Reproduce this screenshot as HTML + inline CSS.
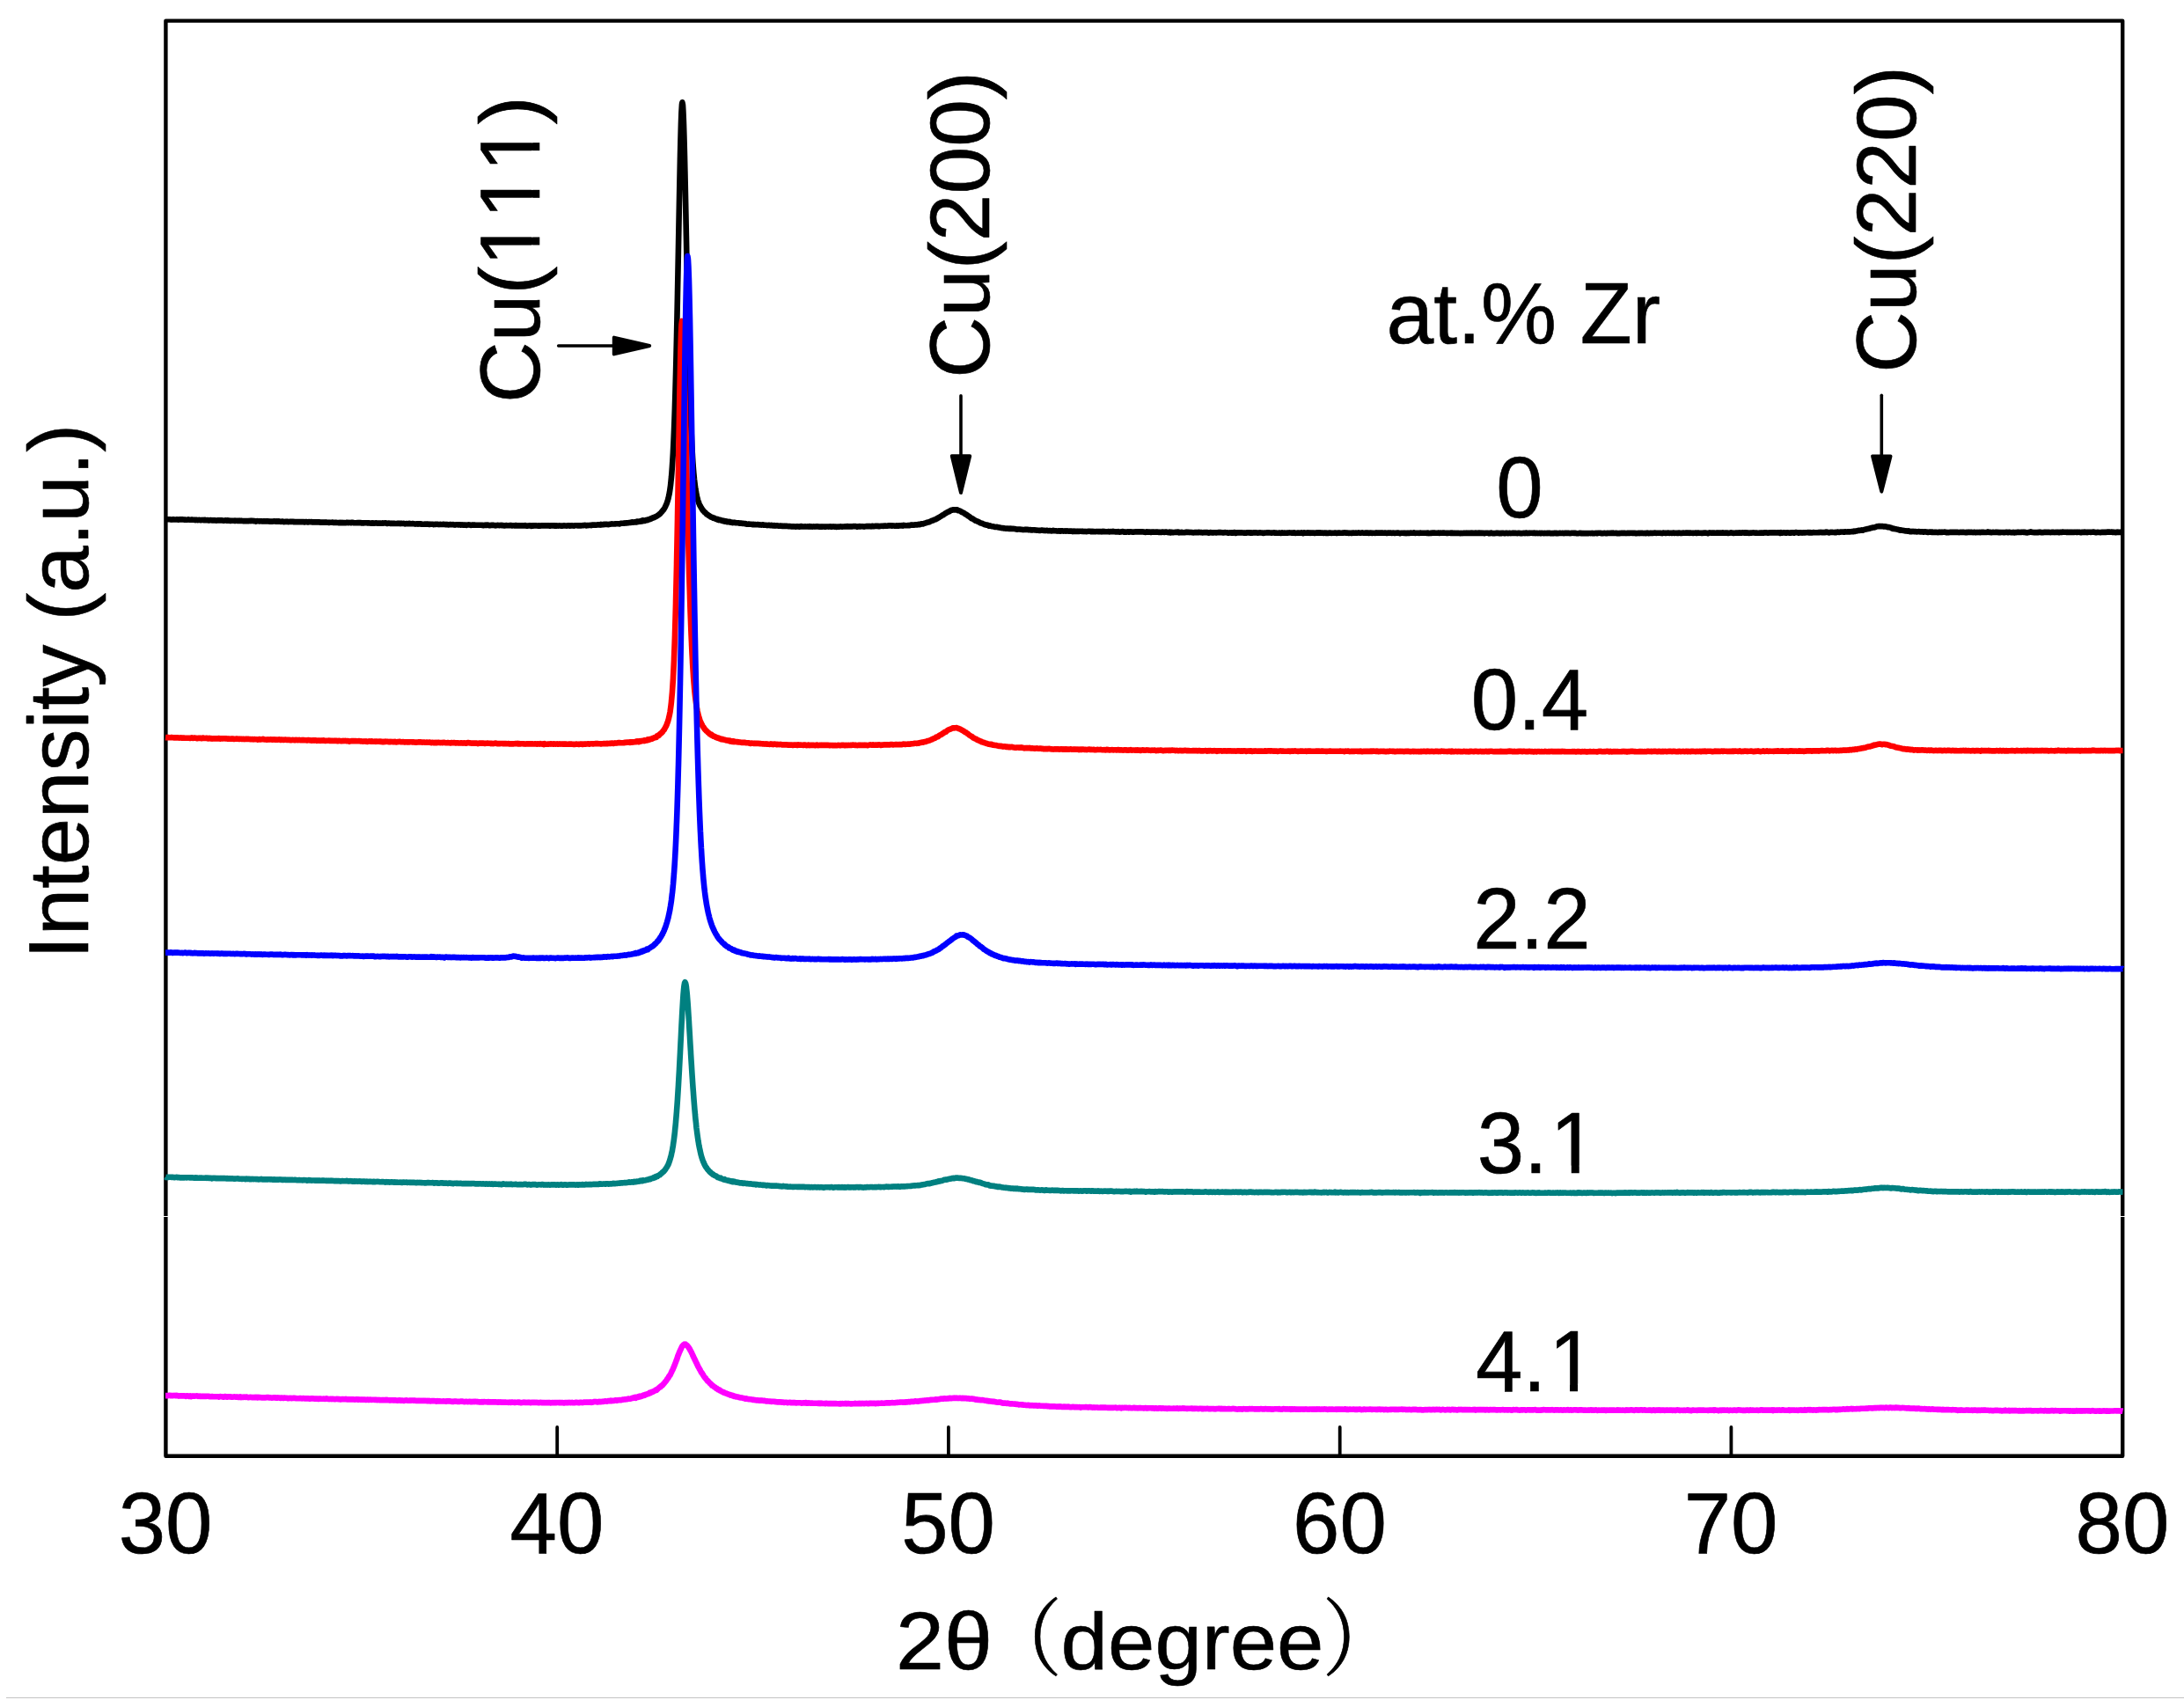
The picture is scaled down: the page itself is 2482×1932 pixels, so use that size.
<!DOCTYPE html>
<html lang="en"><head><meta charset="utf-8"><title>XRD patterns</title>
<style>
html,body{margin:0;padding:0;background:#fff;}
svg{display:block;}
text{fill:#000;font-kerning:none;stroke:#000;stroke-width:0.6px;stroke-linejoin:round;}
</style></head>
<body>
<svg width="2482" height="1932" viewBox="0 0 2482 1932">
<rect x="0" y="0" width="2482" height="1932" fill="#fff"/>
<rect x="188.4" y="23.6" width="2223.7999999999997" height="1631.1000000000001" fill="none" stroke="#000" stroke-width="4.4" stroke-linejoin="round"/>
<line x1="633.2" y1="1622" x2="633.2" y2="1654.7" stroke="#000" stroke-width="3.8" stroke-linecap="round"/>
<line x1="1077.9" y1="1622" x2="1077.9" y2="1654.7" stroke="#000" stroke-width="3.8" stroke-linecap="round"/>
<line x1="1522.7" y1="1622" x2="1522.7" y2="1654.7" stroke="#000" stroke-width="3.8" stroke-linecap="round"/>
<line x1="1967.4" y1="1622" x2="1967.4" y2="1654.7" stroke="#000" stroke-width="3.8" stroke-linecap="round"/>
<path d="M188.0,590.3 189.0,590.3 190.0,590.3 191.0,590.2 192.0,590.3 193.0,590.2 194.0,590.4 195.0,590.6 196.0,590.3 197.0,590.3 198.0,590.5 199.0,590.5 200.0,590.5 201.0,590.4 202.0,590.5 203.0,590.7 204.0,590.4 205.0,590.5 206.0,590.3 207.0,590.4 208.0,590.4 209.0,590.6 210.0,590.5 211.0,590.8 212.0,590.8 213.0,590.7 214.0,590.4 215.0,590.7 216.0,590.8 217.0,590.8 218.0,590.6 219.0,590.8 220.0,590.7 221.0,590.8 222.0,591.1 223.0,590.8 224.0,591.0 225.0,591.1 226.0,590.9 227.0,591.0 228.0,591.1 229.0,591.1 230.0,590.9 231.0,591.1 232.0,591.3 233.0,590.9 234.0,591.3 235.0,591.2 236.0,591.1 237.0,591.5 238.0,591.4 239.0,591.1 240.0,591.3 241.0,591.4 242.0,591.3 243.0,591.4 244.0,591.3 245.0,591.5 246.0,591.6 247.0,591.3 248.0,591.5 249.0,591.4 250.0,591.5 251.0,591.3 252.0,591.4 253.0,591.5 254.0,591.7 255.0,591.7 256.0,591.4 257.0,591.5 258.0,591.7 259.0,591.3 260.0,591.6 261.0,591.7 262.0,591.9 263.0,591.8 264.0,591.7 265.0,591.7 266.0,591.7 267.0,592.0 268.0,591.7 269.0,591.8 270.0,591.9 271.0,591.8 272.0,591.9 273.0,591.7 274.0,591.9 275.0,591.9 276.0,592.1 277.0,592.1 278.0,592.0 279.0,592.1 280.0,592.0 281.0,592.2 282.0,592.1 283.0,592.2 284.0,591.9 285.0,592.2 286.0,591.9 287.0,591.8 288.0,592.1 289.0,592.1 290.0,592.2 291.0,592.6 292.0,592.1 293.0,592.2 294.0,592.3 295.0,592.4 296.0,592.3 297.0,592.3 298.0,592.5 299.0,592.5 300.0,592.2 301.0,592.4 302.0,592.5 303.0,592.3 304.0,592.5 305.0,592.4 306.0,592.7 307.0,592.6 308.0,592.6 309.0,592.5 310.0,592.6 311.0,592.3 312.0,592.4 313.0,592.7 314.0,592.3 315.0,592.8 316.0,592.4 317.0,592.8 318.0,592.6 319.0,592.9 320.0,592.8 321.0,592.5 322.0,593.0 323.0,593.1 324.0,592.8 325.0,592.8 326.0,592.9 327.0,592.7 328.0,593.1 329.0,592.9 330.0,592.9 331.0,592.8 332.0,592.9 333.0,592.8 334.0,593.2 335.0,593.0 336.0,593.2 337.0,593.1 338.0,593.0 339.0,593.1 340.0,593.0 341.0,593.2 342.0,593.1 343.0,593.1 344.0,593.0 345.0,593.1 346.0,593.5 347.0,593.1 348.0,593.1 349.0,593.3 350.0,593.5 351.0,593.1 352.0,593.3 353.0,593.3 354.0,593.1 355.0,593.5 356.0,593.4 357.0,593.4 358.0,593.3 359.0,593.5 360.0,593.4 361.0,593.5 362.0,593.3 363.0,593.3 364.0,593.8 365.0,593.5 366.0,593.6 367.0,593.6 368.0,593.6 369.0,593.6 370.0,593.8 371.0,593.6 372.0,593.7 373.0,593.7 374.0,593.9 375.0,593.8 376.0,593.8 377.0,593.7 378.0,593.6 379.0,594.0 380.0,594.0 381.0,593.8 382.0,593.9 383.0,594.0 384.0,594.0 385.0,594.1 386.0,593.8 387.0,594.2 388.0,593.8 389.0,594.1 390.0,594.1 391.0,594.1 392.0,594.3 393.0,594.3 394.0,593.9 395.0,593.8 396.0,594.2 397.0,593.9 398.0,594.1 399.0,594.3 400.0,593.9 401.0,593.8 402.0,594.2 403.0,594.2 404.0,594.2 405.0,594.2 406.0,594.1 407.0,594.0 408.0,594.3 409.0,594.1 410.0,594.0 411.0,594.4 412.0,594.3 413.0,594.4 414.0,594.2 415.0,594.3 416.0,594.2 417.0,594.3 418.0,594.5 419.0,594.3 420.0,594.5 421.0,594.5 422.0,594.8 423.0,594.3 424.0,594.7 425.0,594.5 426.0,594.6 427.0,594.3 428.0,594.5 429.0,594.7 430.0,594.6 431.0,594.6 432.0,594.6 433.0,594.8 434.0,594.7 435.0,594.3 436.0,594.6 437.0,594.4 438.0,594.2 439.0,594.7 440.0,595.0 441.0,594.8 442.0,594.6 443.0,594.7 444.0,595.0 445.0,594.9 446.0,594.9 447.0,594.9 448.0,594.9 449.0,595.0 450.0,595.0 451.0,595.0 452.0,594.8 453.0,595.0 454.0,594.8 455.0,595.1 456.0,594.8 457.0,595.0 458.0,595.0 459.0,594.9 460.0,595.4 461.0,595.3 462.0,595.1 463.0,595.3 464.0,595.2 465.0,594.8 466.0,595.3 467.0,595.2 468.0,595.3 469.0,595.1 470.0,595.3 471.0,595.3 472.0,595.6 473.0,595.4 474.0,595.4 475.0,595.7 476.0,595.4 477.0,595.4 478.0,595.2 479.0,595.8 480.0,595.7 481.0,595.7 482.0,595.7 483.0,595.6 484.0,595.7 485.0,595.6 486.0,595.6 487.0,595.7 488.0,596.0 489.0,595.8 490.0,595.8 491.0,595.7 492.0,595.7 493.0,596.1 494.0,595.9 495.0,595.9 496.0,595.8 497.0,595.7 498.0,595.9 499.0,596.1 500.0,595.9 501.0,596.0 502.0,596.0 503.0,596.0 504.0,595.8 505.0,596.0 506.0,596.0 507.0,596.3 508.0,596.0 509.0,596.2 510.0,596.4 511.0,596.1 512.0,596.1 513.0,596.3 514.0,596.2 515.0,596.1 516.0,596.4 517.0,596.6 518.0,596.3 519.0,596.3 520.0,596.2 521.0,596.4 522.0,596.2 523.0,596.2 524.0,596.6 525.0,596.3 526.0,596.6 527.0,596.7 528.0,596.5 529.0,596.6 530.0,596.9 531.0,596.5 532.0,596.5 533.0,596.4 534.0,596.6 535.0,596.9 536.0,596.8 537.0,596.5 538.0,596.5 539.0,596.6 540.0,596.8 541.0,596.7 542.0,596.8 543.0,596.8 544.0,596.7 545.0,596.8 546.0,596.8 547.0,596.8 548.0,596.9 549.0,597.2 550.0,597.0 551.0,596.9 552.0,596.6 553.0,597.0 554.0,596.6 555.0,596.7 556.0,597.1 557.0,597.1 558.0,597.0 559.0,596.7 560.0,597.0 561.0,596.9 562.0,597.1 563.0,597.4 564.0,597.1 565.0,597.0 566.0,596.9 567.0,597.1 568.0,597.1 569.0,596.9 570.0,597.2 571.0,597.0 572.0,597.3 573.0,597.4 574.0,597.4 575.0,597.1 576.0,597.3 577.0,597.2 578.0,597.2 579.0,597.2 580.0,597.0 581.0,597.0 582.0,597.4 583.0,597.3 584.0,597.3 585.0,597.5 586.0,597.0 587.0,597.2 588.0,597.4 589.0,597.4 590.0,597.3 591.0,597.5 592.0,597.4 593.0,597.2 594.0,597.2 595.0,597.5 596.0,597.5 597.0,597.1 598.0,597.6 599.0,597.5 600.0,597.6 601.0,597.4 602.0,597.4 603.0,597.3 604.0,597.9 605.0,597.4 606.0,597.7 607.0,597.4 608.0,597.5 609.0,597.2 610.0,597.4 611.0,597.6 612.0,597.3 613.0,597.7 614.0,597.6 615.0,597.3 616.0,597.4 617.0,597.4 618.0,597.5 619.0,597.4 620.0,597.4 621.0,597.5 622.0,597.4 623.0,597.3 624.0,597.5 625.0,597.7 626.0,597.3 627.0,597.5 628.0,597.4 629.0,597.4 630.0,597.7 631.0,597.4 632.0,597.8 633.0,597.4 634.0,597.6 635.0,597.5 636.0,597.4 637.0,597.6 638.0,597.5 639.0,597.6 640.0,597.5 641.0,597.3 642.0,597.5 643.0,597.5 644.0,597.6 645.0,597.3 646.0,597.5 647.0,597.2 648.0,597.6 649.0,597.3 650.0,597.2 651.0,597.4 652.0,597.6 653.0,597.2 654.0,597.2 655.0,597.3 656.0,597.2 657.0,597.4 658.0,597.2 659.0,597.2 660.0,597.4 661.0,597.2 662.0,597.3 663.0,597.1 664.0,597.0 665.0,596.9 666.0,597.4 667.0,597.0 668.0,597.1 669.0,597.0 670.0,597.0 671.0,596.9 672.0,597.2 673.0,596.6 674.0,596.5 675.0,596.6 676.0,596.5 677.0,596.7 678.0,596.7 679.0,596.4 680.0,596.3 681.0,596.4 682.0,596.6 683.0,595.9 684.0,596.4 685.0,596.1 686.0,596.3 687.0,595.9 688.0,596.0 689.0,595.8 690.0,595.8 691.0,596.1 692.0,596.0 693.0,595.7 694.0,595.6 695.0,595.4 696.0,595.5 697.0,595.5 698.0,595.5 699.0,595.4 700.0,595.2 701.0,595.3 702.0,595.2 703.0,595.3 704.0,595.4 705.0,595.0 706.0,594.8 707.0,594.8 708.0,594.7 709.0,594.6 710.0,594.6 711.0,594.3 712.0,594.5 713.0,594.3 714.0,594.3 715.0,594.1 715.4,594.0 715.9,593.9 716.0,594.0 716.4,593.9 716.9,594.0 717.0,593.9 717.4,593.7 717.9,593.8 718.0,593.6 718.4,593.7 718.9,593.7 719.0,593.4 719.4,593.7 719.9,593.6 720.0,593.6 720.4,593.5 720.9,593.4 721.0,593.3 721.4,593.4 721.9,593.3 722.0,593.4 722.4,593.1 722.9,593.3 723.0,593.2 723.4,593.1 723.9,593.0 724.0,593.2 724.4,592.7 724.9,593.0 725.0,593.0 725.4,592.9 725.9,592.9 726.0,592.7 726.4,592.7 726.9,592.7 727.0,592.7 727.4,592.6 727.9,592.2 728.0,592.5 728.4,592.6 728.9,592.5 729.0,592.3 729.4,592.0 729.9,592.3 730.0,592.1 730.4,591.6 730.9,592.0 731.0,591.7 731.4,591.6 731.9,591.6 732.0,591.9 732.4,591.6 732.9,591.5 733.0,591.8 733.4,591.6 733.9,591.3 734.0,591.2 734.4,591.0 734.9,590.9 735.0,591.1 735.4,591.0 735.9,590.8 736.0,590.9 736.4,590.5 736.9,590.5 737.0,590.6 737.4,590.4 737.9,590.4 738.0,590.2 738.4,590.0 738.9,589.9 739.0,589.7 739.4,589.4 739.9,589.6 740.0,589.5 740.4,589.4 740.9,588.9 741.0,589.1 741.4,588.9 741.9,588.6 742.0,588.4 742.4,588.5 742.9,588.5 743.0,588.3 743.4,588.0 743.9,587.9 744.0,587.9 744.4,587.2 744.9,587.3 745.0,587.4 745.4,587.2 745.9,587.0 746.0,586.9 746.4,586.5 746.9,586.2 747.0,586.2 747.4,585.7 747.9,585.5 748.0,585.6 748.4,585.4 748.9,584.7 749.0,584.6 749.4,584.3 749.9,584.1 750.0,583.8 750.4,583.7 750.9,582.8 751.0,582.8 751.4,582.4 751.9,582.0 752.0,582.0 752.4,581.1 752.9,580.6 753.0,580.7 753.4,580.0 753.9,579.2 754.0,579.4 754.4,578.8 754.9,578.0 755.0,577.7 755.4,577.2 755.9,576.1 756.0,576.1 756.4,575.0 756.9,573.9 757.0,573.9 757.4,572.8 757.9,571.7 758.0,571.3 758.4,570.0 758.9,568.5 759.0,568.1 759.4,566.8 759.9,564.4 760.0,564.0 760.4,562.3 760.9,559.7 761.0,559.1 761.4,556.2 761.9,552.6 762.0,552.0 762.4,548.2 762.9,543.1 763.0,542.2 763.4,537.5 763.9,530.6 764.0,529.0 764.4,522.7 764.9,514.1 765.0,511.9 765.4,503.6 765.9,492.0 766.0,489.5 766.4,478.6 766.9,463.8 767.0,460.4 767.4,447.0 767.9,428.5 768.0,425.0 768.4,408.5 768.9,386.6 769.0,382.1 769.4,363.3 769.9,338.6 770.0,333.1 770.4,312.4 770.9,285.7 771.0,280.8 771.4,258.9 771.9,231.8 772.0,226.6 772.4,206.2 772.9,181.5 773.0,176.9 773.4,160.0 773.9,141.6 774.0,138.5 774.4,127.7 774.9,119.4 775.0,118.4 775.4,116.3 775.9,118.8 776.0,119.5 776.4,126.3 776.9,138.1 777.0,141.1 777.4,154.1 777.9,173.1 778.0,177.1 778.4,194.9 778.9,218.2 779.0,223.1 779.4,242.8 779.9,267.9 780.0,272.6 780.4,293.2 780.9,317.7 781.0,322.6 781.4,341.8 781.9,364.4 782.0,368.5 782.4,385.9 782.9,406.2 783.0,410.2 783.4,425.3 783.9,442.4 784.0,446.0 784.4,458.3 784.9,473.0 785.0,475.7 785.4,485.9 785.9,497.5 786.0,499.6 786.4,507.7 786.9,516.7 787.0,518.6 787.4,525.2 787.9,532.3 788.0,533.5 788.4,538.2 788.9,543.3 789.0,544.6 789.4,548.0 789.9,552.1 790.0,552.8 790.4,555.6 790.9,558.6 791.0,559.2 791.4,561.1 791.9,563.6 792.0,564.4 792.4,565.7 792.9,567.5 793.0,568.0 793.4,569.3 793.9,570.5 794.0,570.9 794.4,572.1 794.9,573.2 795.0,573.4 795.4,574.5 795.9,575.1 796.0,575.5 796.4,576.1 796.9,577.3 797.0,576.9 797.4,577.7 797.9,578.5 798.0,578.8 798.4,579.4 798.9,580.2 799.0,579.8 799.4,580.7 799.9,581.1 800.0,581.1 800.4,581.8 800.9,582.1 801.0,582.0 801.4,582.7 801.9,582.9 802.0,583.2 802.4,583.7 802.9,584.1 803.0,584.4 803.4,584.4 803.9,584.6 804.0,584.8 804.4,585.1 804.9,585.4 805.0,585.7 805.4,585.8 805.9,585.9 806.0,586.4 806.4,586.5 806.9,586.9 807.0,586.9 807.4,587.2 807.9,587.3 808.0,587.6 808.4,587.7 808.9,587.9 809.0,588.0 809.4,587.9 809.9,588.3 810.0,588.3 810.4,588.6 810.9,588.5 811.0,589.0 811.4,589.0 811.9,588.9 812.0,588.9 812.4,589.3 812.9,589.5 813.0,589.4 813.4,589.7 813.9,589.8 814.0,590.0 814.4,589.9 814.9,590.2 815.0,590.4 815.4,590.7 815.9,590.3 816.0,590.4 816.4,590.5 816.9,590.9 817.0,590.6 817.4,590.8 817.9,591.0 818.0,590.9 818.4,591.0 818.9,591.2 819.0,591.0 819.4,591.2 819.9,591.5 820.0,591.6 820.4,591.6 820.9,591.5 821.0,591.7 821.4,592.0 821.9,592.0 822.0,592.0 822.4,591.9 822.9,592.3 823.0,592.1 823.4,592.1 823.9,592.2 824.0,592.6 824.4,592.5 824.9,592.7 825.0,592.5 825.4,592.8 825.9,592.6 826.0,592.7 826.4,593.2 826.9,593.0 827.0,592.8 827.4,592.9 827.9,593.1 828.0,593.2 828.4,593.0 828.9,592.9 829.0,593.2 829.4,593.3 829.9,593.4 830.0,593.6 830.4,593.5 830.9,593.6 831.0,593.3 831.4,593.7 831.9,593.9 832.0,593.7 832.4,593.7 832.9,593.8 833.0,594.0 833.4,593.7 833.9,593.8 834.0,594.0 834.4,594.0 834.9,593.9 835.0,594.0 836.0,594.1 837.0,594.2 838.0,594.3 839.0,594.3 840.0,594.5 841.0,594.8 842.0,594.6 843.0,594.8 844.0,595.0 845.0,594.9 846.0,595.1 847.0,595.0 848.0,595.5 849.0,595.7 850.0,595.8 851.0,595.5 852.0,595.7 853.0,595.7 854.0,595.8 855.0,596.1 856.0,595.7 857.0,596.1 858.0,596.0 859.0,596.3 860.0,596.2 861.0,596.1 862.0,596.3 863.0,596.5 864.0,596.4 865.0,596.6 866.0,596.5 867.0,596.3 868.0,596.8 869.0,596.8 870.0,596.8 871.0,596.8 872.0,597.1 873.0,596.9 874.0,596.9 875.0,597.0 876.0,597.3 877.0,596.9 878.0,597.4 879.0,597.2 880.0,597.1 881.0,597.6 882.0,597.4 883.0,597.3 884.0,597.5 885.0,597.7 886.0,597.8 887.0,597.6 888.0,597.8 889.0,597.9 890.0,597.7 891.0,597.9 892.0,597.9 893.0,597.8 894.0,597.9 895.0,598.0 896.0,598.1 897.0,598.0 898.0,598.1 899.0,598.4 900.0,598.3 901.0,598.4 902.0,598.4 903.0,598.4 904.0,598.6 905.0,598.2 906.0,598.4 907.0,598.3 908.0,598.6 909.0,598.6 910.0,598.0 911.0,598.2 912.0,598.5 913.0,598.5 914.0,598.5 915.0,598.4 916.0,598.5 917.0,598.5 918.0,598.4 919.0,598.6 920.0,598.1 921.0,598.6 922.0,598.3 923.0,598.6 924.0,598.5 925.0,598.4 926.0,598.6 927.0,598.4 928.0,598.4 929.0,598.3 930.0,598.5 931.0,598.6 932.0,598.7 933.0,598.5 934.0,598.7 935.0,598.5 936.0,598.5 937.0,598.6 938.0,598.7 939.0,598.5 940.0,598.5 941.0,598.5 942.0,598.6 943.0,598.4 944.0,598.7 945.0,598.5 946.0,598.6 947.0,598.4 948.0,598.6 949.0,598.6 950.0,598.5 951.0,598.9 952.0,598.6 953.0,598.8 954.0,598.7 955.0,598.4 956.0,598.5 957.0,598.6 958.0,598.5 959.0,598.5 960.0,598.5 961.0,598.2 962.0,598.5 963.0,598.1 964.0,598.5 965.0,598.4 966.0,598.3 967.0,598.4 968.0,598.5 969.0,598.2 970.0,598.1 971.0,598.2 972.0,598.1 973.0,598.2 974.0,598.6 975.0,598.2 976.0,598.5 977.0,598.1 978.0,598.4 979.0,598.3 980.0,598.3 981.0,598.4 982.0,598.6 983.0,598.3 984.0,598.3 985.0,598.1 986.0,598.3 987.0,598.1 988.0,598.3 989.0,598.1 990.0,598.4 991.0,597.8 992.0,598.0 993.0,598.2 994.0,598.0 995.0,597.9 996.0,597.9 997.0,597.7 998.0,598.0 999.0,598.3 1000.0,598.1 1001.0,597.7 1002.0,597.7 1003.0,597.7 1004.0,597.9 1005.0,597.6 1006.0,597.6 1007.0,597.8 1008.0,597.8 1009.0,597.5 1010.0,597.4 1011.0,597.3 1012.0,597.4 1013.0,597.2 1014.0,597.7 1015.0,597.4 1016.0,597.6 1017.0,597.8 1018.0,597.7 1019.0,597.3 1020.0,597.6 1021.0,597.7 1022.0,597.3 1023.0,597.3 1024.0,597.4 1025.0,597.1 1026.0,597.6 1027.0,596.9 1028.0,597.1 1029.0,597.2 1030.0,597.2 1031.0,597.2 1032.0,597.1 1033.0,597.0 1034.0,597.2 1035.0,596.6 1036.0,596.8 1037.0,596.6 1038.0,596.7 1039.0,596.6 1040.0,596.3 1041.0,596.2 1042.0,596.4 1043.0,596.2 1044.0,595.8 1045.0,596.1 1046.0,596.0 1047.0,595.2 1048.0,595.3 1049.0,595.4 1050.0,595.0 1051.0,594.6 1052.0,594.3 1053.0,594.0 1054.0,593.7 1055.0,593.4 1056.0,593.2 1057.0,592.7 1058.0,592.3 1059.0,591.8 1060.0,591.6 1061.0,591.0 1062.0,590.7 1063.0,590.4 1064.0,589.8 1065.0,589.3 1066.0,588.7 1067.0,588.1 1068.0,587.5 1069.0,586.9 1070.0,586.4 1071.0,585.5 1072.0,585.3 1073.0,584.4 1074.0,583.7 1075.0,583.1 1076.0,582.5 1077.0,582.0 1078.0,581.4 1079.0,581.2 1080.0,580.4 1081.0,579.8 1082.0,579.7 1083.0,579.3 1084.0,579.4 1085.0,579.5 1086.0,579.4 1087.0,579.2 1088.0,579.5 1089.0,580.2 1090.0,580.3 1091.0,580.6 1092.0,581.3 1093.0,582.0 1094.0,582.4 1095.0,582.8 1096.0,583.5 1097.0,584.2 1098.0,584.7 1099.0,585.3 1100.0,586.2 1101.0,586.7 1102.0,587.5 1103.0,588.2 1104.0,589.2 1105.0,589.3 1106.0,590.0 1107.0,590.6 1108.0,591.3 1109.0,591.9 1110.0,592.2 1111.0,592.6 1112.0,593.0 1113.0,593.6 1114.0,594.2 1115.0,594.6 1116.0,594.8 1117.0,595.3 1118.0,595.7 1119.0,596.1 1120.0,596.2 1121.0,596.6 1122.0,596.6 1123.0,597.0 1124.0,597.7 1125.0,597.3 1126.0,597.9 1127.0,598.2 1128.0,598.3 1129.0,598.4 1130.0,598.7 1131.0,598.9 1132.0,599.0 1133.0,598.9 1134.0,599.3 1135.0,599.4 1136.0,599.5 1137.0,599.8 1138.0,600.0 1139.0,600.1 1140.0,600.0 1141.0,600.4 1142.0,600.5 1143.0,600.6 1144.0,600.7 1145.0,600.6 1146.0,600.7 1147.0,600.9 1148.0,600.6 1149.0,601.0 1150.0,600.9 1151.0,601.0 1152.0,600.9 1153.0,601.1 1154.0,601.3 1155.0,601.5 1156.0,601.6 1157.0,601.5 1158.0,601.5 1159.0,601.5 1160.0,601.7 1161.0,601.7 1162.0,601.9 1163.0,602.1 1164.0,601.9 1165.0,601.7 1166.0,601.9 1167.0,601.8 1168.0,601.9 1169.0,602.3 1170.0,602.2 1171.0,602.0 1172.0,602.4 1173.0,602.5 1174.0,602.3 1175.0,602.3 1176.0,602.4 1177.0,602.5 1178.0,602.6 1179.0,602.8 1180.0,602.8 1181.0,602.9 1182.0,602.9 1183.0,602.8 1184.0,602.5 1185.0,602.8 1186.0,602.9 1187.0,602.8 1188.0,603.1 1189.0,602.9 1190.0,602.9 1191.0,603.3 1192.0,603.2 1193.0,603.1 1194.0,603.3 1195.0,603.4 1196.0,603.3 1197.0,602.9 1198.0,603.2 1199.0,603.2 1200.0,603.2 1201.0,603.4 1202.0,603.6 1203.0,603.3 1204.0,603.2 1205.0,603.8 1206.0,603.4 1207.0,603.3 1208.0,603.5 1209.0,603.6 1210.0,603.4 1211.0,603.7 1212.0,603.5 1213.0,603.4 1214.0,603.6 1215.0,603.7 1216.0,603.5 1217.0,603.7 1218.0,603.6 1219.0,604.1 1220.0,603.6 1221.0,603.9 1222.0,603.7 1223.0,603.7 1224.0,603.9 1225.0,603.9 1226.0,604.0 1227.0,603.8 1228.0,603.7 1229.0,603.7 1230.0,603.9 1231.0,603.9 1232.0,604.1 1233.0,603.9 1234.0,604.1 1235.0,604.1 1236.0,603.9 1237.0,603.7 1238.0,603.8 1239.0,603.7 1240.0,604.2 1241.0,603.8 1242.0,604.2 1243.0,604.1 1244.0,604.3 1245.0,604.2 1246.0,604.0 1247.0,604.0 1248.0,604.1 1249.0,604.1 1250.0,604.0 1251.0,604.1 1252.0,604.4 1253.0,603.9 1254.0,604.2 1255.0,604.0 1256.0,604.2 1257.0,604.3 1258.0,604.2 1259.0,604.3 1260.0,604.0 1261.0,604.4 1262.0,604.1 1263.0,604.3 1264.0,604.3 1265.0,603.9 1266.0,604.2 1267.0,604.3 1268.0,604.5 1269.0,604.4 1270.0,604.4 1271.0,604.1 1272.0,604.6 1273.0,604.6 1274.0,604.4 1275.0,604.3 1276.0,604.1 1277.0,604.5 1278.0,604.8 1279.0,604.5 1280.0,604.6 1281.0,604.5 1282.0,604.3 1283.0,604.7 1284.0,604.3 1285.0,604.4 1286.0,604.5 1287.0,604.6 1288.0,604.6 1289.0,604.6 1290.0,604.4 1291.0,604.3 1292.0,604.5 1293.0,604.4 1294.0,604.3 1295.0,604.4 1296.0,604.5 1297.0,604.3 1298.0,604.4 1299.0,604.3 1300.0,604.6 1301.0,604.7 1302.0,605.0 1303.0,604.4 1304.0,604.5 1305.0,604.8 1306.0,604.6 1307.0,604.6 1308.0,605.0 1309.0,604.6 1310.0,604.5 1311.0,604.5 1312.0,604.8 1313.0,604.8 1314.0,604.5 1315.0,604.6 1316.0,604.8 1317.0,604.9 1318.0,604.7 1319.0,604.9 1320.0,604.9 1321.0,604.5 1322.0,604.8 1323.0,604.9 1324.0,604.7 1325.0,604.5 1326.0,604.8 1327.0,605.0 1328.0,605.1 1329.0,604.5 1330.0,605.3 1331.0,604.7 1332.0,605.0 1333.0,605.1 1334.0,605.1 1335.0,604.9 1336.0,604.7 1337.0,605.0 1338.0,604.8 1339.0,604.6 1340.0,605.4 1341.0,605.1 1342.0,605.3 1343.0,604.8 1344.0,605.2 1345.0,605.3 1346.0,605.3 1347.0,605.0 1348.0,604.8 1349.0,605.0 1350.0,604.7 1351.0,604.8 1352.0,605.1 1353.0,604.9 1354.0,605.1 1355.0,605.1 1356.0,605.4 1357.0,605.3 1358.0,605.1 1359.0,605.3 1360.0,605.0 1361.0,605.1 1362.0,605.3 1363.0,604.9 1364.0,605.1 1365.0,605.0 1366.0,605.2 1367.0,605.4 1368.0,605.1 1369.0,605.2 1370.0,605.1 1371.0,605.0 1372.0,605.0 1373.0,605.5 1374.0,605.6 1375.0,605.3 1376.0,605.1 1377.0,605.4 1378.0,605.2 1379.0,605.4 1380.0,605.3 1381.0,605.3 1382.0,605.4 1383.0,605.2 1384.0,605.2 1385.0,605.0 1386.0,605.3 1387.0,605.1 1388.0,605.3 1389.0,605.2 1390.0,605.4 1391.0,605.4 1392.0,605.1 1393.0,605.2 1394.0,605.2 1395.0,605.5 1396.0,605.7 1397.0,605.5 1398.0,605.4 1399.0,605.7 1400.0,605.2 1401.0,605.7 1402.0,605.3 1403.0,605.0 1404.0,605.9 1405.0,605.7 1406.0,605.3 1407.0,605.5 1408.0,605.4 1409.0,605.5 1410.0,605.2 1411.0,605.3 1412.0,605.5 1413.0,605.5 1414.0,605.7 1415.0,605.5 1416.0,605.8 1417.0,605.4 1418.0,605.5 1419.0,605.2 1420.0,605.3 1421.0,605.7 1422.0,605.3 1423.0,605.6 1424.0,605.5 1425.0,605.3 1426.0,605.4 1427.0,605.4 1428.0,605.4 1429.0,605.6 1430.0,605.6 1431.0,605.4 1432.0,605.4 1433.0,605.5 1434.0,605.5 1435.0,605.7 1436.0,605.9 1437.0,605.6 1438.0,605.5 1439.0,605.5 1440.0,605.4 1441.0,605.4 1442.0,605.4 1443.0,605.5 1444.0,605.5 1445.0,605.6 1446.0,605.5 1447.0,605.5 1448.0,605.3 1449.0,605.8 1450.0,605.6 1451.0,605.8 1452.0,605.7 1453.0,605.8 1454.0,605.5 1455.0,605.7 1456.0,606.0 1457.0,605.4 1458.0,605.7 1459.0,605.8 1460.0,605.6 1461.0,605.7 1462.0,605.8 1463.0,605.5 1464.0,605.6 1465.0,605.4 1466.0,605.5 1467.0,605.5 1468.0,605.6 1469.0,605.6 1470.0,605.7 1471.0,605.3 1472.0,605.9 1473.0,605.8 1474.0,605.7 1475.0,605.5 1476.0,605.6 1477.0,605.7 1478.0,605.7 1479.0,605.3 1480.0,605.7 1481.0,606.1 1482.0,605.3 1483.0,605.8 1484.0,605.7 1485.0,605.6 1486.0,605.8 1487.0,605.4 1488.0,605.6 1489.0,605.9 1490.0,605.6 1491.0,605.5 1492.0,605.6 1493.0,605.5 1494.0,605.9 1495.0,605.5 1496.0,605.8 1497.0,605.4 1498.0,605.7 1499.0,605.6 1500.0,605.2 1501.0,605.6 1502.0,605.5 1503.0,605.6 1504.0,605.9 1505.0,605.5 1506.0,605.5 1507.0,605.9 1508.0,605.7 1509.0,605.9 1510.0,605.7 1511.0,605.5 1512.0,605.6 1513.0,605.9 1514.0,605.8 1515.0,605.7 1516.0,605.7 1517.0,605.6 1518.0,605.6 1519.0,606.0 1520.0,605.7 1521.0,605.5 1522.0,605.6 1523.0,605.8 1524.0,605.8 1525.0,605.7 1526.0,605.6 1527.0,605.7 1528.0,605.4 1529.0,605.5 1530.0,605.8 1531.0,605.6 1532.0,605.7 1533.0,605.9 1534.0,605.8 1535.0,605.7 1536.0,606.0 1537.0,605.8 1538.0,605.6 1539.0,605.8 1540.0,605.8 1541.0,605.6 1542.0,605.7 1543.0,605.7 1544.0,605.4 1545.0,605.7 1546.0,605.7 1547.0,605.6 1548.0,605.4 1549.0,605.7 1550.0,605.7 1551.0,605.7 1552.0,605.5 1553.0,605.8 1554.0,605.5 1555.0,605.7 1556.0,605.9 1557.0,605.6 1558.0,605.6 1559.0,605.9 1560.0,605.7 1561.0,605.7 1562.0,605.8 1563.0,605.9 1564.0,605.4 1565.0,605.6 1566.0,605.6 1567.0,605.6 1568.0,605.6 1569.0,605.6 1570.0,605.8 1571.0,605.6 1572.0,605.8 1573.0,605.8 1574.0,605.6 1575.0,605.8 1576.0,606.0 1577.0,605.8 1578.0,605.6 1579.0,605.7 1580.0,605.6 1581.0,605.8 1582.0,605.9 1583.0,605.6 1584.0,605.7 1585.0,605.9 1586.0,605.7 1587.0,605.8 1588.0,605.6 1589.0,605.6 1590.0,605.7 1591.0,606.1 1592.0,605.7 1593.0,605.7 1594.0,605.7 1595.0,605.7 1596.0,605.9 1597.0,605.8 1598.0,606.1 1599.0,605.8 1600.0,606.0 1601.0,605.8 1602.0,605.9 1603.0,605.6 1604.0,605.8 1605.0,605.8 1606.0,605.8 1607.0,605.4 1608.0,605.9 1609.0,605.7 1610.0,605.7 1611.0,605.8 1612.0,605.8 1613.0,605.9 1614.0,605.6 1615.0,605.7 1616.0,605.8 1617.0,605.8 1618.0,605.7 1619.0,605.7 1620.0,605.7 1621.0,605.8 1622.0,606.0 1623.0,605.6 1624.0,606.1 1625.0,605.9 1626.0,605.7 1627.0,605.9 1628.0,605.6 1629.0,605.5 1630.0,605.6 1631.0,605.8 1632.0,605.8 1633.0,605.7 1634.0,605.8 1635.0,605.5 1636.0,605.9 1637.0,605.6 1638.0,605.7 1639.0,605.8 1640.0,605.6 1641.0,605.6 1642.0,605.7 1643.0,605.8 1644.0,605.9 1645.0,605.9 1646.0,605.7 1647.0,605.7 1648.0,605.7 1649.0,605.9 1650.0,605.5 1651.0,606.0 1652.0,605.8 1653.0,605.7 1654.0,605.9 1655.0,606.0 1656.0,605.9 1657.0,606.0 1658.0,605.9 1659.0,606.1 1660.0,606.1 1661.0,605.8 1662.0,606.1 1663.0,605.9 1664.0,605.9 1665.0,605.7 1666.0,605.8 1667.0,606.0 1668.0,605.7 1669.0,606.0 1670.0,605.9 1671.0,605.9 1672.0,605.5 1673.0,605.9 1674.0,606.0 1675.0,605.8 1676.0,605.9 1677.0,605.5 1678.0,606.0 1679.0,605.8 1680.0,606.0 1681.0,605.6 1682.0,606.0 1683.0,605.8 1684.0,606.0 1685.0,605.7 1686.0,605.8 1687.0,606.2 1688.0,605.8 1689.0,605.8 1690.0,605.8 1691.0,605.7 1692.0,606.1 1693.0,606.2 1694.0,605.8 1695.0,605.6 1696.0,606.1 1697.0,606.1 1698.0,606.0 1699.0,606.1 1700.0,605.8 1701.0,605.9 1702.0,605.7 1703.0,605.7 1704.0,606.1 1705.0,605.8 1706.0,606.3 1707.0,605.9 1708.0,605.8 1709.0,606.0 1710.0,606.2 1711.0,606.0 1712.0,605.7 1713.0,606.0 1714.0,606.1 1715.0,605.8 1716.0,605.8 1717.0,606.1 1718.0,605.9 1719.0,605.7 1720.0,605.9 1721.0,605.8 1722.0,606.0 1723.0,605.9 1724.0,606.1 1725.0,606.0 1726.0,605.7 1727.0,606.0 1728.0,606.1 1729.0,606.0 1730.0,606.1 1731.0,605.8 1732.0,605.8 1733.0,606.1 1734.0,605.8 1735.0,605.6 1736.0,606.1 1737.0,605.8 1738.0,605.9 1739.0,605.7 1740.0,605.7 1741.0,605.8 1742.0,605.9 1743.0,606.0 1744.0,605.6 1745.0,606.1 1746.0,605.8 1747.0,605.8 1748.0,606.1 1749.0,605.9 1750.0,605.7 1751.0,606.2 1752.0,605.8 1753.0,606.0 1754.0,606.0 1755.0,606.2 1756.0,605.9 1757.0,606.1 1758.0,605.8 1759.0,606.1 1760.0,605.8 1761.0,605.9 1762.0,606.3 1763.0,606.0 1764.0,606.0 1765.0,606.3 1766.0,606.0 1767.0,605.8 1768.0,606.1 1769.0,605.8 1770.0,606.2 1771.0,606.2 1772.0,605.9 1773.0,605.9 1774.0,606.0 1775.0,606.0 1776.0,605.8 1777.0,606.1 1778.0,605.7 1779.0,605.9 1780.0,605.9 1781.0,605.9 1782.0,606.0 1783.0,605.8 1784.0,606.1 1785.0,606.0 1786.0,605.9 1787.0,605.8 1788.0,605.8 1789.0,606.0 1790.0,605.8 1791.0,606.0 1792.0,606.2 1793.0,606.2 1794.0,606.2 1795.0,605.9 1796.0,605.8 1797.0,606.2 1798.0,606.0 1799.0,606.2 1800.0,606.0 1801.0,606.2 1802.0,606.1 1803.0,606.1 1804.0,606.1 1805.0,606.1 1806.0,606.0 1807.0,606.0 1808.0,606.1 1809.0,605.9 1810.0,606.3 1811.0,606.0 1812.0,606.1 1813.0,606.0 1814.0,605.9 1815.0,606.3 1816.0,605.9 1817.0,605.8 1818.0,605.8 1819.0,605.9 1820.0,606.3 1821.0,606.0 1822.0,606.1 1823.0,605.8 1824.0,606.0 1825.0,606.1 1826.0,606.2 1827.0,605.8 1828.0,606.0 1829.0,606.0 1830.0,605.8 1831.0,605.9 1832.0,605.9 1833.0,605.6 1834.0,606.0 1835.0,606.0 1836.0,605.9 1837.0,605.7 1838.0,606.2 1839.0,606.0 1840.0,606.1 1841.0,606.1 1842.0,605.8 1843.0,606.0 1844.0,605.9 1845.0,605.9 1846.0,605.9 1847.0,605.9 1848.0,606.1 1849.0,605.9 1850.0,605.9 1851.0,605.9 1852.0,606.0 1853.0,605.8 1854.0,605.8 1855.0,605.9 1856.0,605.8 1857.0,605.9 1858.0,605.8 1859.0,606.2 1860.0,606.1 1861.0,606.0 1862.0,605.9 1863.0,606.2 1864.0,605.9 1865.0,605.9 1866.0,605.9 1867.0,605.9 1868.0,606.1 1869.0,605.9 1870.0,606.2 1871.0,605.7 1872.0,606.0 1873.0,605.7 1874.0,606.1 1875.0,605.8 1876.0,605.8 1877.0,606.0 1878.0,606.0 1879.0,605.7 1880.0,605.8 1881.0,605.6 1882.0,605.9 1883.0,605.8 1884.0,605.8 1885.0,605.7 1886.0,605.8 1887.0,605.7 1888.0,605.9 1889.0,606.1 1890.0,605.5 1891.0,605.8 1892.0,605.7 1893.0,605.9 1894.0,605.7 1895.0,605.8 1896.0,605.6 1897.0,605.9 1898.0,605.8 1899.0,605.8 1900.0,605.9 1901.0,605.8 1902.0,605.5 1903.0,605.9 1904.0,605.8 1905.0,605.8 1906.0,605.9 1907.0,606.0 1908.0,605.6 1909.0,605.7 1910.0,606.0 1911.0,606.0 1912.0,605.7 1913.0,605.6 1914.0,605.7 1915.0,605.7 1916.0,605.5 1917.0,605.8 1918.0,605.6 1919.0,605.6 1920.0,605.9 1921.0,605.6 1922.0,605.7 1923.0,605.8 1924.0,605.9 1925.0,605.7 1926.0,605.7 1927.0,605.6 1928.0,606.0 1929.0,605.8 1930.0,605.6 1931.0,605.7 1932.0,605.8 1933.0,605.8 1934.0,606.0 1935.0,605.9 1936.0,605.6 1937.0,605.7 1938.0,605.5 1939.0,605.8 1940.0,605.7 1941.0,606.1 1942.0,605.7 1943.0,605.4 1944.0,605.6 1945.0,605.7 1946.0,605.5 1947.0,605.6 1948.0,605.6 1949.0,605.7 1950.0,605.7 1951.0,605.5 1952.0,605.8 1953.0,605.6 1954.0,605.6 1955.0,605.5 1956.0,605.5 1957.0,605.8 1958.0,605.4 1959.0,605.7 1960.0,605.8 1961.0,605.6 1962.0,605.7 1963.0,605.5 1964.0,605.9 1965.0,605.8 1966.0,605.7 1967.0,605.4 1968.0,605.5 1969.0,605.8 1970.0,605.9 1971.0,605.7 1972.0,605.8 1973.0,605.5 1974.0,605.6 1975.0,605.6 1976.0,605.7 1977.0,605.4 1978.0,605.8 1979.0,605.8 1980.0,605.4 1981.0,605.4 1982.0,605.7 1983.0,605.5 1984.0,605.2 1985.0,605.7 1986.0,605.6 1987.0,605.5 1988.0,605.9 1989.0,605.6 1990.0,605.5 1991.0,605.6 1992.0,605.4 1993.0,605.4 1994.0,605.6 1995.0,605.5 1996.0,605.5 1997.0,605.8 1998.0,605.7 1999.0,605.7 2000.0,605.6 2001.0,605.6 2002.0,605.8 2003.0,605.5 2004.0,605.8 2005.0,605.4 2006.0,605.5 2007.0,605.3 2008.0,605.5 2009.0,605.6 2010.0,605.7 2011.0,605.4 2012.0,605.5 2013.0,605.4 2014.0,605.4 2015.0,605.3 2016.0,605.5 2017.0,605.2 2018.0,605.5 2019.0,605.5 2020.0,605.4 2021.0,605.3 2022.0,605.2 2023.0,605.8 2024.0,605.2 2025.0,605.7 2026.0,605.5 2027.0,605.4 2028.0,605.3 2029.0,605.6 2030.0,605.7 2031.0,605.3 2032.0,605.4 2033.0,605.6 2034.0,605.5 2035.0,605.7 2036.0,605.3 2037.0,605.5 2038.0,605.2 2039.0,605.7 2040.0,605.3 2041.0,605.0 2042.0,605.3 2043.0,605.3 2044.0,605.7 2045.0,605.3 2046.0,605.3 2047.0,605.4 2048.0,605.6 2049.0,605.3 2050.0,605.5 2051.0,605.4 2052.0,605.2 2053.0,605.3 2054.0,605.3 2055.0,605.1 2056.0,605.5 2057.0,605.0 2058.0,605.4 2059.0,605.4 2060.0,605.2 2061.0,605.1 2062.0,605.2 2063.0,605.3 2064.0,605.3 2065.0,605.2 2066.0,605.3 2067.0,605.1 2068.0,605.2 2069.0,604.9 2070.0,605.2 2071.0,605.1 2072.0,605.0 2073.0,605.3 2074.0,605.2 2075.0,604.6 2076.0,605.0 2077.0,604.8 2078.0,605.2 2079.0,605.4 2080.0,604.9 2081.0,605.0 2082.0,604.9 2083.0,605.0 2084.0,605.0 2085.0,605.1 2086.0,604.7 2087.0,605.1 2088.0,604.6 2089.0,604.8 2090.0,604.9 2091.0,604.8 2092.0,604.5 2093.0,604.5 2094.0,604.5 2095.0,604.6 2096.0,604.7 2097.0,604.3 2098.0,604.5 2099.0,604.5 2100.0,604.4 2101.0,604.3 2102.0,604.4 2103.0,604.2 2104.0,604.2 2105.0,604.0 2106.0,604.2 2107.0,603.5 2108.0,603.9 2109.0,603.5 2110.0,603.4 2111.0,603.2 2112.0,602.9 2113.0,603.0 2114.0,602.8 2115.0,602.8 2116.0,602.3 2117.0,602.6 2118.0,602.2 2119.0,601.9 2120.0,601.6 2121.0,601.4 2122.0,601.1 2123.0,601.0 2124.0,600.8 2125.0,600.5 2126.0,600.1 2127.0,600.0 2128.0,599.6 2129.0,599.5 2130.0,599.5 2131.0,599.1 2132.0,598.7 2133.0,598.3 2134.0,598.2 2135.0,598.0 2136.0,598.3 2137.0,598.0 2138.0,598.1 2139.0,598.0 2140.0,598.2 2141.0,598.5 2142.0,598.3 2143.0,598.5 2144.0,598.6 2145.0,599.1 2146.0,599.0 2147.0,599.3 2148.0,599.5 2149.0,599.7 2150.0,600.3 2151.0,600.9 2152.0,600.6 2153.0,601.1 2154.0,601.3 2155.0,601.3 2156.0,601.6 2157.0,601.9 2158.0,602.0 2159.0,602.6 2160.0,602.2 2161.0,602.7 2162.0,602.8 2163.0,602.9 2164.0,603.1 2165.0,603.4 2166.0,603.4 2167.0,603.5 2168.0,603.7 2169.0,603.3 2170.0,604.0 2171.0,604.2 2172.0,604.1 2173.0,604.1 2174.0,603.8 2175.0,604.1 2176.0,604.0 2177.0,604.1 2178.0,604.4 2179.0,604.2 2180.0,604.3 2181.0,604.1 2182.0,604.4 2183.0,604.5 2184.0,604.4 2185.0,604.4 2186.0,604.8 2187.0,604.4 2188.0,604.4 2189.0,604.5 2190.0,604.8 2191.0,605.0 2192.0,604.7 2193.0,604.6 2194.0,604.6 2195.0,604.9 2196.0,604.6 2197.0,605.0 2198.0,605.0 2199.0,604.8 2200.0,604.9 2201.0,604.9 2202.0,605.1 2203.0,604.7 2204.0,605.0 2205.0,604.8 2206.0,604.7 2207.0,604.9 2208.0,604.8 2209.0,604.7 2210.0,604.6 2211.0,604.7 2212.0,605.1 2213.0,605.2 2214.0,605.0 2215.0,605.1 2216.0,604.8 2217.0,604.9 2218.0,605.0 2219.0,604.8 2220.0,604.8 2221.0,605.0 2222.0,604.9 2223.0,604.8 2224.0,605.0 2225.0,604.9 2226.0,605.1 2227.0,605.0 2228.0,604.9 2229.0,605.0 2230.0,604.9 2231.0,604.9 2232.0,604.9 2233.0,605.1 2234.0,605.1 2235.0,605.2 2236.0,604.7 2237.0,604.9 2238.0,604.9 2239.0,605.0 2240.0,604.9 2241.0,604.9 2242.0,605.1 2243.0,605.0 2244.0,604.8 2245.0,605.2 2246.0,605.2 2247.0,604.9 2248.0,605.1 2249.0,604.9 2250.0,605.2 2251.0,605.0 2252.0,604.9 2253.0,604.9 2254.0,604.9 2255.0,605.0 2256.0,605.0 2257.0,605.0 2258.0,604.9 2259.0,604.4 2260.0,605.0 2261.0,604.7 2262.0,605.0 2263.0,605.2 2264.0,605.0 2265.0,604.9 2266.0,605.0 2267.0,605.0 2268.0,604.9 2269.0,604.9 2270.0,604.9 2271.0,605.2 2272.0,605.0 2273.0,605.2 2274.0,605.0 2275.0,605.0 2276.0,605.0 2277.0,605.1 2278.0,605.1 2279.0,605.0 2280.0,604.9 2281.0,604.9 2282.0,605.3 2283.0,604.9 2284.0,604.9 2285.0,605.2 2286.0,605.2 2287.0,605.1 2288.0,604.9 2289.0,605.4 2290.0,605.0 2291.0,605.1 2292.0,605.0 2293.0,604.8 2294.0,604.8 2295.0,605.0 2296.0,605.0 2297.0,604.9 2298.0,604.8 2299.0,604.7 2300.0,604.9 2301.0,604.7 2302.0,605.1 2303.0,605.2 2304.0,605.4 2305.0,605.1 2306.0,604.9 2307.0,604.8 2308.0,604.4 2309.0,604.9 2310.0,604.9 2311.0,605.1 2312.0,605.1 2313.0,605.1 2314.0,605.0 2315.0,605.1 2316.0,605.2 2317.0,604.8 2318.0,604.9 2319.0,604.7 2320.0,605.2 2321.0,605.2 2322.0,605.1 2323.0,604.8 2324.0,605.0 2325.0,604.9 2326.0,605.0 2327.0,604.9 2328.0,605.0 2329.0,604.9 2330.0,605.1 2331.0,605.0 2332.0,604.9 2333.0,604.9 2334.0,604.9 2335.0,605.1 2336.0,604.9 2337.0,605.0 2338.0,604.9 2339.0,604.7 2340.0,605.1 2341.0,604.7 2342.0,605.0 2343.0,605.0 2344.0,604.6 2345.0,604.8 2346.0,604.8 2347.0,604.8 2348.0,604.7 2349.0,605.0 2350.0,604.9 2351.0,605.0 2352.0,604.8 2353.0,604.9 2354.0,604.8 2355.0,604.9 2356.0,605.0 2357.0,604.9 2358.0,604.8 2359.0,604.7 2360.0,604.9 2361.0,604.9 2362.0,604.8 2363.0,604.8 2364.0,605.0 2365.0,605.3 2366.0,604.8 2367.0,604.9 2368.0,604.9 2369.0,604.5 2370.0,604.9 2371.0,604.8 2372.0,605.1 2373.0,604.8 2374.0,604.7 2375.0,604.8 2376.0,604.9 2377.0,604.8 2378.0,604.8 2379.0,604.6 2380.0,604.8 2381.0,605.0 2382.0,605.2 2383.0,605.0 2384.0,604.9 2385.0,605.0 2386.0,605.0 2387.0,605.1 2388.0,605.0 2389.0,604.8 2390.0,604.9 2391.0,604.9 2392.0,604.9 2393.0,604.9 2394.0,604.7 2395.0,604.5 2396.0,604.7 2397.0,604.5 2398.0,604.8 2399.0,604.8 2400.0,604.5 2401.0,604.9 2402.0,605.0 2403.0,604.8 2404.0,605.1 2405.0,605.1 2406.0,604.6 2407.0,605.0 2408.0,604.9 2409.0,604.9 2410.0,604.9 2411.0,604.7 2412.0,604.7 2412.5,604.7" fill="none" stroke="#000000" stroke-width="6.6" stroke-linejoin="round" stroke-linecap="butt"/>
<path d="M188.0,838.1 189.0,838.2 190.0,838.0 191.0,838.1 192.0,838.3 193.0,838.2 194.0,838.3 195.0,838.0 196.0,838.2 197.0,838.2 198.0,838.4 199.0,838.3 200.0,838.5 201.0,838.4 202.0,838.4 203.0,838.5 204.0,838.6 205.0,838.4 206.0,838.7 207.0,838.6 208.0,838.6 209.0,838.6 210.0,838.7 211.0,838.8 212.0,838.8 213.0,838.7 214.0,838.8 215.0,838.7 216.0,838.9 217.0,838.7 218.0,838.4 219.0,839.0 220.0,838.8 221.0,838.6 222.0,838.8 223.0,838.7 224.0,839.2 225.0,839.0 226.0,838.7 227.0,839.0 228.0,838.9 229.0,839.3 230.0,838.8 231.0,838.6 232.0,839.0 233.0,839.0 234.0,839.0 235.0,838.7 236.0,839.2 237.0,839.4 238.0,838.8 239.0,839.4 240.0,839.1 241.0,839.6 242.0,839.3 243.0,839.2 244.0,839.4 245.0,839.4 246.0,839.2 247.0,839.4 248.0,839.3 249.0,839.1 250.0,839.7 251.0,839.3 252.0,839.3 253.0,839.5 254.0,839.2 255.0,839.3 256.0,839.4 257.0,839.4 258.0,839.5 259.0,839.7 260.0,839.5 261.0,839.7 262.0,839.7 263.0,839.5 264.0,839.7 265.0,839.5 266.0,839.9 267.0,839.8 268.0,839.7 269.0,839.5 270.0,839.8 271.0,839.7 272.0,839.9 273.0,839.8 274.0,839.7 275.0,840.0 276.0,840.0 277.0,839.8 278.0,840.1 279.0,839.9 280.0,839.9 281.0,840.0 282.0,839.9 283.0,840.0 284.0,840.0 285.0,840.3 286.0,840.3 287.0,840.1 288.0,840.4 289.0,840.1 290.0,840.2 291.0,840.3 292.0,840.2 293.0,840.6 294.0,840.3 295.0,840.1 296.0,840.5 297.0,840.2 298.0,840.3 299.0,839.9 300.0,840.5 301.0,840.5 302.0,840.5 303.0,840.6 304.0,840.7 305.0,840.4 306.0,840.6 307.0,840.4 308.0,840.4 309.0,840.7 310.0,840.6 311.0,840.3 312.0,840.6 313.0,840.6 314.0,840.5 315.0,840.7 316.0,840.6 317.0,840.4 318.0,840.5 319.0,841.0 320.0,840.5 321.0,840.8 322.0,840.9 323.0,840.9 324.0,840.6 325.0,840.8 326.0,840.9 327.0,841.0 328.0,840.8 329.0,840.7 330.0,841.1 331.0,841.1 332.0,841.0 333.0,840.9 334.0,841.1 335.0,841.0 336.0,841.2 337.0,840.9 338.0,841.1 339.0,841.1 340.0,840.9 341.0,841.2 342.0,841.2 343.0,841.1 344.0,841.3 345.0,841.0 346.0,841.2 347.0,841.3 348.0,841.3 349.0,841.5 350.0,841.1 351.0,841.1 352.0,841.4 353.0,841.4 354.0,841.7 355.0,841.5 356.0,841.3 357.0,841.6 358.0,841.3 359.0,841.2 360.0,841.9 361.0,841.6 362.0,841.6 363.0,841.6 364.0,841.9 365.0,841.6 366.0,841.8 367.0,841.5 368.0,841.4 369.0,841.9 370.0,841.9 371.0,841.8 372.0,841.7 373.0,841.8 374.0,841.6 375.0,842.0 376.0,841.9 377.0,841.9 378.0,841.9 379.0,842.0 380.0,841.9 381.0,842.0 382.0,841.7 383.0,842.0 384.0,842.3 385.0,841.9 386.0,841.9 387.0,842.1 388.0,842.2 389.0,842.1 390.0,841.8 391.0,842.1 392.0,841.9 393.0,842.0 394.0,842.2 395.0,842.1 396.0,842.3 397.0,842.7 398.0,842.3 399.0,842.3 400.0,842.1 401.0,842.1 402.0,842.1 403.0,842.2 404.0,842.1 405.0,842.2 406.0,842.3 407.0,842.2 408.0,842.1 409.0,842.2 410.0,842.5 411.0,842.4 412.0,842.6 413.0,842.6 414.0,842.4 415.0,842.6 416.0,842.3 417.0,842.9 418.0,842.7 419.0,842.5 420.0,842.4 421.0,842.7 422.0,842.3 423.0,842.5 424.0,842.8 425.0,842.7 426.0,842.6 427.0,842.9 428.0,842.6 429.0,842.8 430.0,842.7 431.0,842.6 432.0,842.9 433.0,842.6 434.0,843.1 435.0,842.7 436.0,843.2 437.0,842.7 438.0,843.0 439.0,842.7 440.0,842.7 441.0,843.0 442.0,843.1 443.0,842.8 444.0,843.2 445.0,842.9 446.0,843.1 447.0,843.1 448.0,843.2 449.0,842.8 450.0,843.4 451.0,843.2 452.0,843.1 453.0,843.0 454.0,842.9 455.0,843.0 456.0,843.3 457.0,843.2 458.0,843.1 459.0,843.2 460.0,843.5 461.0,843.2 462.0,843.2 463.0,843.5 464.0,843.4 465.0,843.4 466.0,843.3 467.0,843.2 468.0,843.2 469.0,843.4 470.0,843.4 471.0,843.5 472.0,843.6 473.0,843.5 474.0,843.6 475.0,843.4 476.0,843.2 477.0,843.5 478.0,843.4 479.0,843.5 480.0,843.6 481.0,843.5 482.0,843.5 483.0,843.7 484.0,843.7 485.0,843.6 486.0,843.8 487.0,843.7 488.0,843.6 489.0,843.8 490.0,844.1 491.0,843.7 492.0,844.0 493.0,844.1 494.0,844.1 495.0,843.8 496.0,844.2 497.0,844.0 498.0,843.9 499.0,843.9 500.0,844.1 501.0,844.0 502.0,844.0 503.0,844.2 504.0,843.9 505.0,843.9 506.0,844.2 507.0,844.2 508.0,844.3 509.0,844.0 510.0,844.3 511.0,844.2 512.0,844.5 513.0,844.0 514.0,844.3 515.0,844.2 516.0,844.0 517.0,844.2 518.0,844.5 519.0,844.2 520.0,844.2 521.0,844.5 522.0,844.5 523.0,844.5 524.0,844.3 525.0,844.4 526.0,844.6 527.0,844.3 528.0,844.3 529.0,844.6 530.0,844.7 531.0,844.3 532.0,844.1 533.0,844.3 534.0,844.4 535.0,844.5 536.0,844.7 537.0,844.6 538.0,844.5 539.0,844.6 540.0,844.5 541.0,844.6 542.0,844.6 543.0,845.1 544.0,844.8 545.0,844.6 546.0,844.6 547.0,844.7 548.0,844.5 549.0,844.6 550.0,844.7 551.0,844.9 552.0,844.7 553.0,844.7 554.0,844.6 555.0,844.7 556.0,844.8 557.0,844.8 558.0,845.1 559.0,844.8 560.0,845.1 561.0,845.0 562.0,844.9 563.0,844.6 564.0,844.8 565.0,845.1 566.0,845.2 567.0,845.0 568.0,845.1 569.0,845.0 570.0,845.0 571.0,845.0 572.0,845.2 573.0,845.1 574.0,845.1 575.0,845.1 576.0,845.2 577.0,845.2 578.0,845.0 579.0,845.4 580.0,845.2 581.0,845.2 582.0,845.4 583.0,845.4 584.0,845.2 585.0,845.3 586.0,845.1 587.0,845.1 588.0,844.9 589.0,845.5 590.0,845.0 591.0,845.4 592.0,845.2 593.0,845.2 594.0,845.3 595.0,845.4 596.0,845.4 597.0,845.6 598.0,845.4 599.0,845.5 600.0,845.3 601.0,845.5 602.0,845.4 603.0,845.3 604.0,845.4 605.0,845.4 606.0,845.5 607.0,845.5 608.0,845.4 609.0,845.3 610.0,845.6 611.0,845.2 612.0,845.4 613.0,845.7 614.0,845.1 615.0,845.4 616.0,845.6 617.0,845.3 618.0,846.0 619.0,845.1 620.0,845.8 621.0,845.8 622.0,845.7 623.0,845.5 624.0,845.6 625.0,845.4 626.0,845.7 627.0,845.4 628.0,845.6 629.0,845.8 630.0,845.4 631.0,845.6 632.0,845.6 633.0,845.4 634.0,845.8 635.0,845.7 636.0,845.4 637.0,845.6 638.0,845.5 639.0,845.5 640.0,845.7 641.0,845.5 642.0,845.8 643.0,845.6 644.0,845.8 645.0,845.7 646.0,845.8 647.0,845.6 648.0,845.6 649.0,845.5 650.0,845.8 651.0,845.8 652.0,846.0 653.0,845.9 654.0,845.7 655.0,845.6 656.0,845.7 657.0,845.7 658.0,845.9 659.0,845.8 660.0,845.5 661.0,845.5 662.0,845.9 663.0,845.7 664.0,845.6 665.0,845.8 666.0,845.5 667.0,845.5 668.0,845.4 669.0,845.2 670.0,845.6 671.0,845.3 672.0,845.3 673.0,845.3 674.0,845.5 675.0,845.3 676.0,845.3 677.0,845.0 678.0,845.3 679.0,845.0 680.0,845.3 681.0,845.3 682.0,845.2 683.0,845.5 684.0,845.2 685.0,845.2 686.0,845.1 687.0,845.0 688.0,845.1 689.0,845.1 690.0,844.7 691.0,845.1 692.0,844.9 693.0,845.0 694.0,844.9 695.0,844.5 696.0,844.5 697.0,845.0 698.0,844.7 699.0,844.4 700.0,844.6 701.0,844.4 702.0,844.2 703.0,844.0 704.0,844.1 705.0,844.3 706.0,844.2 707.0,844.2 708.0,844.2 709.0,844.2 710.0,843.7 711.0,843.9 712.0,843.8 713.0,843.6 714.0,843.7 715.0,843.7 715.0,843.6 715.5,843.4 716.0,843.5 716.0,843.9 716.5,843.4 717.0,843.3 717.0,843.6 717.5,843.6 718.0,843.5 718.0,843.3 718.5,843.6 719.0,843.2 719.0,843.2 719.5,843.2 720.0,843.3 720.0,843.4 720.5,843.3 721.0,843.2 721.0,843.3 721.5,843.1 722.0,843.2 722.0,842.9 722.5,842.8 723.0,843.1 723.0,842.7 723.5,842.9 724.0,842.8 724.0,842.8 724.5,842.7 725.0,843.0 725.0,842.3 725.5,842.8 726.0,843.0 726.0,842.6 726.5,842.6 727.0,842.6 727.0,842.8 727.5,842.2 728.0,842.4 728.0,842.3 728.5,842.4 729.0,842.2 729.0,842.3 729.5,842.1 730.0,842.1 730.0,841.9 730.5,841.9 731.0,841.9 731.0,841.9 731.5,841.6 732.0,842.0 732.0,841.7 732.5,841.4 733.0,841.7 733.0,841.4 733.5,841.5 734.0,841.3 734.0,841.4 734.5,841.2 735.0,841.0 735.0,841.1 735.5,841.3 736.0,840.5 736.0,840.9 736.5,840.8 737.0,840.5 737.0,840.4 737.5,840.8 738.0,840.3 738.0,840.7 738.5,840.3 739.0,840.1 739.0,840.2 739.5,840.0 740.0,840.0 740.0,839.8 740.5,839.6 741.0,839.5 741.0,839.6 741.5,839.4 742.0,838.9 742.0,839.0 742.5,838.9 743.0,838.6 743.0,838.6 743.5,838.3 744.0,838.2 744.0,838.3 744.5,838.2 745.0,837.8 745.0,838.1 745.5,837.5 746.0,837.7 746.0,837.4 746.5,837.0 747.0,836.6 747.0,836.2 747.5,836.3 748.0,836.0 748.0,836.3 748.5,835.4 749.0,835.6 749.0,835.2 749.5,835.0 750.0,834.1 750.0,834.5 750.5,834.0 751.0,833.7 751.0,833.6 751.5,832.9 752.0,832.8 752.0,832.7 752.5,832.1 753.0,831.7 753.0,831.6 753.5,830.8 754.0,830.0 754.0,830.0 754.5,829.7 755.0,828.9 755.0,828.7 755.5,827.8 756.0,827.1 756.0,827.0 756.5,826.0 757.0,825.0 757.0,825.4 757.5,824.0 758.0,822.7 758.0,822.5 758.5,821.2 759.0,820.1 759.0,820.0 759.5,818.1 760.0,816.4 760.0,816.2 760.5,814.0 761.0,812.0 761.0,811.7 761.5,809.3 762.0,805.6 762.0,805.6 762.5,801.9 763.0,797.5 763.0,797.0 763.5,791.8 764.0,786.2 764.0,785.9 764.5,778.5 765.0,770.7 765.0,770.2 765.5,760.2 766.0,749.4 766.0,748.7 766.5,735.7 767.0,721.5 767.0,720.5 767.5,703.6 768.0,685.4 768.0,684.2 768.5,663.1 769.0,641.4 769.0,640.1 769.5,615.1 770.0,589.4 770.0,588.0 770.5,559.7 771.0,531.9 771.0,530.1 771.5,500.4 772.0,472.7 772.0,470.9 772.5,443.1 773.0,419.0 773.0,417.5 773.5,396.2 774.0,379.9 774.0,379.1 774.5,368.6 775.0,364.9 775.0,365.1 775.5,367.1 776.0,373.1 776.0,373.4 776.5,383.4 777.0,395.9 777.0,396.5 777.5,413.0 778.0,430.4 778.0,431.8 778.5,452.0 779.0,472.7 779.0,473.7 779.5,496.1 780.0,517.4 780.0,518.6 780.5,541.3 781.0,562.3 781.0,563.2 781.5,585.0 782.0,605.0 782.0,605.7 782.5,625.5 783.0,643.2 783.0,644.0 783.5,662.1 784.0,677.4 784.0,678.3 784.5,693.8 785.0,707.2 785.0,707.3 785.5,720.5 786.0,731.4 786.0,732.0 786.5,742.6 787.0,751.5 787.0,752.3 787.5,760.6 788.0,767.8 788.0,768.4 788.5,775.1 789.0,780.8 789.0,781.1 789.5,786.7 790.0,791.0 790.0,791.1 790.5,795.2 791.0,798.8 791.0,798.9 791.5,802.4 792.0,805.2 792.0,804.9 792.5,807.9 793.0,810.2 793.0,810.2 793.5,812.1 794.0,814.2 794.0,814.0 794.5,815.6 795.0,817.1 795.0,817.3 795.5,818.9 796.0,820.1 796.0,820.0 796.5,821.0 797.0,822.1 797.0,822.1 797.5,823.2 798.0,823.8 798.0,824.2 798.5,825.1 799.0,825.8 799.0,825.9 799.5,826.4 800.0,827.0 800.0,827.2 800.5,828.2 801.0,828.8 801.0,828.6 801.5,829.4 802.0,829.7 802.0,830.0 802.5,830.4 803.0,830.8 803.0,831.0 803.5,831.2 804.0,831.7 804.0,831.6 804.5,832.3 805.0,832.7 805.0,832.7 805.5,833.1 806.0,833.7 806.0,833.4 806.5,833.8 807.0,834.4 807.0,834.5 807.5,834.6 808.0,834.6 808.0,834.8 808.5,835.3 809.0,835.5 809.0,835.8 809.5,835.6 810.0,836.2 810.0,836.0 810.5,836.6 811.0,836.6 811.0,836.8 811.5,836.8 812.0,836.9 812.0,836.9 812.5,837.2 813.0,837.4 813.0,837.8 813.5,838.0 814.0,838.0 814.0,837.8 814.5,838.2 815.0,838.3 815.0,838.6 815.5,838.6 816.0,838.8 816.0,838.7 816.5,838.6 817.0,839.0 817.0,838.9 817.5,839.3 818.0,839.4 818.0,839.3 818.5,839.5 819.0,839.9 819.0,839.6 819.5,839.7 820.0,839.9 820.0,839.9 820.5,840.1 821.0,840.3 821.0,840.5 821.5,840.1 822.0,840.5 822.0,840.5 822.5,840.6 823.0,840.7 823.0,840.7 823.5,841.0 824.0,840.9 824.0,840.9 824.5,841.1 825.0,841.2 825.0,841.2 825.5,841.4 826.0,841.4 826.0,841.4 826.5,841.5 827.0,841.4 827.0,841.4 827.5,841.5 828.0,841.8 828.0,841.6 828.5,841.7 829.0,842.0 829.0,842.0 829.5,841.7 830.0,842.4 830.0,842.1 830.5,842.2 831.0,842.4 831.0,842.3 831.5,842.2 832.0,842.7 832.0,842.2 832.5,842.5 833.0,842.7 833.0,842.4 833.5,842.6 834.0,842.7 834.0,843.1 834.5,842.6 835.0,842.8 836.0,843.0 837.0,843.1 838.0,843.0 839.0,843.4 840.0,843.4 841.0,843.6 842.0,843.8 843.0,843.9 844.0,843.9 845.0,843.9 846.0,843.8 847.0,844.0 848.0,844.2 849.0,844.2 850.0,844.3 851.0,844.2 852.0,844.7 853.0,844.9 854.0,844.5 855.0,844.7 856.0,844.7 857.0,845.0 858.0,844.9 859.0,844.9 860.0,844.9 861.0,845.0 862.0,844.9 863.0,845.2 864.0,845.1 865.0,845.3 866.0,845.3 867.0,845.5 868.0,845.4 869.0,845.6 870.0,845.3 871.0,845.6 872.0,845.6 873.0,845.7 874.0,845.7 875.0,845.9 876.0,845.4 877.0,845.9 878.0,845.6 879.0,846.1 880.0,845.6 881.0,845.8 882.0,845.7 883.0,846.3 884.0,845.9 885.0,846.1 886.0,846.1 887.0,845.9 888.0,846.2 889.0,846.4 890.0,846.3 891.0,846.5 892.0,846.3 893.0,846.4 894.0,846.4 895.0,846.5 896.0,846.8 897.0,846.6 898.0,846.6 899.0,846.5 900.0,846.5 901.0,846.9 902.0,846.5 903.0,846.5 904.0,846.6 905.0,846.6 906.0,847.0 907.0,846.3 908.0,846.8 909.0,846.8 910.0,846.6 911.0,846.7 912.0,846.8 913.0,847.0 914.0,846.6 915.0,846.5 916.0,847.0 917.0,847.1 918.0,846.8 919.0,846.5 920.0,847.1 921.0,846.8 922.0,847.0 923.0,846.9 924.0,846.8 925.0,846.8 926.0,847.1 927.0,847.1 928.0,846.6 929.0,846.8 930.0,847.2 931.0,846.9 932.0,846.7 933.0,846.9 934.0,846.9 935.0,846.9 936.0,846.9 937.0,846.9 938.0,846.9 939.0,847.0 940.0,846.8 941.0,846.9 942.0,847.0 943.0,847.2 944.0,847.0 945.0,847.0 946.0,847.1 947.0,847.1 948.0,847.2 949.0,847.1 950.0,847.3 951.0,847.2 952.0,847.0 953.0,846.9 954.0,847.1 955.0,847.1 956.0,847.0 957.0,846.8 958.0,846.7 959.0,847.0 960.0,847.1 961.0,847.1 962.0,846.8 963.0,847.1 964.0,846.9 965.0,847.0 966.0,847.0 967.0,846.8 968.0,846.9 969.0,846.6 970.0,846.8 971.0,846.7 972.0,847.0 973.0,846.9 974.0,847.1 975.0,847.0 976.0,846.8 977.0,847.0 978.0,846.8 979.0,847.0 980.0,846.9 981.0,846.7 982.0,846.9 983.0,846.9 984.0,846.8 985.0,847.0 986.0,847.1 987.0,846.7 988.0,846.7 989.0,846.4 990.0,846.7 991.0,846.7 992.0,846.4 993.0,846.8 994.0,846.8 995.0,846.6 996.0,846.6 997.0,846.5 998.0,846.7 999.0,846.4 1000.0,846.5 1001.0,846.9 1002.0,846.5 1003.0,846.6 1004.0,846.5 1005.0,846.3 1006.0,846.4 1007.0,846.5 1008.0,846.2 1009.0,846.4 1010.0,846.5 1011.0,846.5 1012.0,846.0 1013.0,846.1 1014.0,846.0 1015.0,846.4 1016.0,846.3 1017.0,846.3 1018.0,846.1 1019.0,846.0 1020.0,846.2 1021.0,846.2 1022.0,846.0 1023.0,846.1 1024.0,846.2 1025.0,846.1 1026.0,845.8 1027.0,845.6 1028.0,845.9 1029.0,845.9 1030.0,845.8 1031.0,845.7 1032.0,845.6 1033.0,845.7 1034.0,845.6 1035.0,845.5 1036.0,845.2 1037.0,845.2 1038.0,845.2 1039.0,844.9 1040.0,844.8 1041.0,844.8 1042.0,844.9 1043.0,844.6 1044.0,844.7 1045.0,844.3 1046.0,844.1 1047.0,843.7 1048.0,843.6 1049.0,843.7 1050.0,843.3 1051.0,843.1 1052.0,842.9 1053.0,842.5 1054.0,842.1 1055.0,841.9 1056.0,841.6 1057.0,841.2 1058.0,840.8 1059.0,840.4 1060.0,839.8 1061.0,839.4 1062.0,838.9 1063.0,838.7 1064.0,837.7 1065.0,837.4 1066.0,837.3 1067.0,836.2 1068.0,835.5 1069.0,835.1 1070.0,834.7 1071.0,833.8 1072.0,833.3 1073.0,832.5 1074.0,831.8 1075.0,831.7 1076.0,830.6 1077.0,829.9 1078.0,829.4 1079.0,829.0 1080.0,828.6 1081.0,828.2 1082.0,827.8 1083.0,827.3 1084.0,827.4 1085.0,827.2 1086.0,827.2 1087.0,827.1 1088.0,827.5 1089.0,827.7 1090.0,828.2 1091.0,828.4 1092.0,829.1 1093.0,829.7 1094.0,830.1 1095.0,830.8 1096.0,831.4 1097.0,832.3 1098.0,832.5 1099.0,833.5 1100.0,834.0 1101.0,834.9 1102.0,835.8 1103.0,836.2 1104.0,837.0 1105.0,837.4 1106.0,838.5 1107.0,838.9 1108.0,839.5 1109.0,839.7 1110.0,840.3 1111.0,841.1 1112.0,841.4 1113.0,841.8 1114.0,842.4 1115.0,842.5 1116.0,843.3 1117.0,843.5 1118.0,843.9 1119.0,844.1 1120.0,844.6 1121.0,844.7 1122.0,845.2 1123.0,845.5 1124.0,845.8 1125.0,845.9 1126.0,846.2 1127.0,845.9 1128.0,846.6 1129.0,846.6 1130.0,846.9 1131.0,847.0 1132.0,847.0 1133.0,847.3 1134.0,847.6 1135.0,847.9 1136.0,847.7 1137.0,847.8 1138.0,848.2 1139.0,848.0 1140.0,848.6 1141.0,848.4 1142.0,848.3 1143.0,848.7 1144.0,848.9 1145.0,848.5 1146.0,849.1 1147.0,848.8 1148.0,849.2 1149.0,849.0 1150.0,848.9 1151.0,849.3 1152.0,849.4 1153.0,849.7 1154.0,849.7 1155.0,849.6 1156.0,849.5 1157.0,849.5 1158.0,849.6 1159.0,849.6 1160.0,849.7 1161.0,849.4 1162.0,849.9 1163.0,849.9 1164.0,850.4 1165.0,850.1 1166.0,850.0 1167.0,850.2 1168.0,850.0 1169.0,850.1 1170.0,849.9 1171.0,850.5 1172.0,850.4 1173.0,850.2 1174.0,850.4 1175.0,850.6 1176.0,850.6 1177.0,850.6 1178.0,850.4 1179.0,850.5 1180.0,850.7 1181.0,850.8 1182.0,850.6 1183.0,850.6 1184.0,851.0 1185.0,850.7 1186.0,851.1 1187.0,851.0 1188.0,851.1 1189.0,851.3 1190.0,851.1 1191.0,851.2 1192.0,850.9 1193.0,851.0 1194.0,851.3 1195.0,851.4 1196.0,851.4 1197.0,851.6 1198.0,851.3 1199.0,851.3 1200.0,851.5 1201.0,851.4 1202.0,851.4 1203.0,851.2 1204.0,851.6 1205.0,851.3 1206.0,851.5 1207.0,851.2 1208.0,851.7 1209.0,851.3 1210.0,851.7 1211.0,851.3 1212.0,851.5 1213.0,851.8 1214.0,851.5 1215.0,851.6 1216.0,851.5 1217.0,851.3 1218.0,851.7 1219.0,851.7 1220.0,851.5 1221.0,851.8 1222.0,851.6 1223.0,851.6 1224.0,851.7 1225.0,851.6 1226.0,852.1 1227.0,851.5 1228.0,851.9 1229.0,852.0 1230.0,851.5 1231.0,851.6 1232.0,851.9 1233.0,851.8 1234.0,851.9 1235.0,852.1 1236.0,851.8 1237.0,851.7 1238.0,851.5 1239.0,852.0 1240.0,851.8 1241.0,852.0 1242.0,852.0 1243.0,851.8 1244.0,852.3 1245.0,852.2 1246.0,852.2 1247.0,851.9 1248.0,852.0 1249.0,852.0 1250.0,852.0 1251.0,851.9 1252.0,852.2 1253.0,852.2 1254.0,852.2 1255.0,852.1 1256.0,852.4 1257.0,852.2 1258.0,851.7 1259.0,852.1 1260.0,852.2 1261.0,852.4 1262.0,852.2 1263.0,852.2 1264.0,852.1 1265.0,852.4 1266.0,852.2 1267.0,852.2 1268.0,852.2 1269.0,852.4 1270.0,852.2 1271.0,852.0 1272.0,852.4 1273.0,852.2 1274.0,852.4 1275.0,852.4 1276.0,852.6 1277.0,852.5 1278.0,852.3 1279.0,852.4 1280.0,852.2 1281.0,852.7 1282.0,852.5 1283.0,852.7 1284.0,852.4 1285.0,852.1 1286.0,852.7 1287.0,852.5 1288.0,852.5 1289.0,852.5 1290.0,852.6 1291.0,852.6 1292.0,852.3 1293.0,852.7 1294.0,852.5 1295.0,852.5 1296.0,852.9 1297.0,852.7 1298.0,852.5 1299.0,852.3 1300.0,852.6 1301.0,852.7 1302.0,852.6 1303.0,852.4 1304.0,852.5 1305.0,852.5 1306.0,852.7 1307.0,852.8 1308.0,852.9 1309.0,852.6 1310.0,852.7 1311.0,852.8 1312.0,852.6 1313.0,852.7 1314.0,853.1 1315.0,852.8 1316.0,852.9 1317.0,852.7 1318.0,852.8 1319.0,852.5 1320.0,852.8 1321.0,853.0 1322.0,853.2 1323.0,853.0 1324.0,852.9 1325.0,852.9 1326.0,852.8 1327.0,852.8 1328.0,853.0 1329.0,852.8 1330.0,853.0 1331.0,852.7 1332.0,852.6 1333.0,852.8 1334.0,852.7 1335.0,852.7 1336.0,853.1 1337.0,852.9 1338.0,853.0 1339.0,853.2 1340.0,853.2 1341.0,852.9 1342.0,853.2 1343.0,853.1 1344.0,853.0 1345.0,853.1 1346.0,852.8 1347.0,852.9 1348.0,853.0 1349.0,853.2 1350.0,853.0 1351.0,853.1 1352.0,853.2 1353.0,853.3 1354.0,853.2 1355.0,853.3 1356.0,853.1 1357.0,853.1 1358.0,853.2 1359.0,853.1 1360.0,853.1 1361.0,853.4 1362.0,853.1 1363.0,853.0 1364.0,853.3 1365.0,853.5 1366.0,853.2 1367.0,853.4 1368.0,853.2 1369.0,853.2 1370.0,853.1 1371.0,853.2 1372.0,853.6 1373.0,853.1 1374.0,853.5 1375.0,853.1 1376.0,853.3 1377.0,853.4 1378.0,853.4 1379.0,853.4 1380.0,853.1 1381.0,853.4 1382.0,853.2 1383.0,853.8 1384.0,853.3 1385.0,853.4 1386.0,853.2 1387.0,853.3 1388.0,853.2 1389.0,853.6 1390.0,853.4 1391.0,853.5 1392.0,853.3 1393.0,853.4 1394.0,853.6 1395.0,853.3 1396.0,853.2 1397.0,853.5 1398.0,853.3 1399.0,853.4 1400.0,853.6 1401.0,853.4 1402.0,853.6 1403.0,853.4 1404.0,853.7 1405.0,853.7 1406.0,853.4 1407.0,853.5 1408.0,853.4 1409.0,853.5 1410.0,853.7 1411.0,853.3 1412.0,853.7 1413.0,853.3 1414.0,853.4 1415.0,853.2 1416.0,853.9 1417.0,853.5 1418.0,853.6 1419.0,853.4 1420.0,853.7 1421.0,853.2 1422.0,853.5 1423.0,853.9 1424.0,853.5 1425.0,853.6 1426.0,853.7 1427.0,853.4 1428.0,853.6 1429.0,853.7 1430.0,853.6 1431.0,853.6 1432.0,853.5 1433.0,853.6 1434.0,853.6 1435.0,853.8 1436.0,853.7 1437.0,853.5 1438.0,853.2 1439.0,853.7 1440.0,853.7 1441.0,853.4 1442.0,853.3 1443.0,853.4 1444.0,853.7 1445.0,853.4 1446.0,853.5 1447.0,853.6 1448.0,853.8 1449.0,853.6 1450.0,853.6 1451.0,853.5 1452.0,853.9 1453.0,853.8 1454.0,853.6 1455.0,853.4 1456.0,853.5 1457.0,853.7 1458.0,853.5 1459.0,853.8 1460.0,853.7 1461.0,853.7 1462.0,853.7 1463.0,853.7 1464.0,853.5 1465.0,853.6 1466.0,854.0 1467.0,853.5 1468.0,853.6 1469.0,853.8 1470.0,853.6 1471.0,853.5 1472.0,853.4 1473.0,853.7 1474.0,853.8 1475.0,853.9 1476.0,853.7 1477.0,853.8 1478.0,853.5 1479.0,853.7 1480.0,853.6 1481.0,853.7 1482.0,853.8 1483.0,853.8 1484.0,853.5 1485.0,853.9 1486.0,853.6 1487.0,853.5 1488.0,853.7 1489.0,853.5 1490.0,853.7 1491.0,853.7 1492.0,853.7 1493.0,853.8 1494.0,853.7 1495.0,853.7 1496.0,853.5 1497.0,853.7 1498.0,853.6 1499.0,853.6 1500.0,853.7 1501.0,853.7 1502.0,853.5 1503.0,853.5 1504.0,853.7 1505.0,853.8 1506.0,853.8 1507.0,853.9 1508.0,853.9 1509.0,853.8 1510.0,853.7 1511.0,853.6 1512.0,853.6 1513.0,853.7 1514.0,853.8 1515.0,853.8 1516.0,853.7 1517.0,853.7 1518.0,853.8 1519.0,853.8 1520.0,853.8 1521.0,853.8 1522.0,853.7 1523.0,853.6 1524.0,853.8 1525.0,853.8 1526.0,853.7 1527.0,853.7 1528.0,854.1 1529.0,853.6 1530.0,853.7 1531.0,853.8 1532.0,853.6 1533.0,853.8 1534.0,854.1 1535.0,853.9 1536.0,853.9 1537.0,853.9 1538.0,853.8 1539.0,853.9 1540.0,853.8 1541.0,853.7 1542.0,853.8 1543.0,853.9 1544.0,853.9 1545.0,853.9 1546.0,853.5 1547.0,854.0 1548.0,854.2 1549.0,854.0 1550.0,853.8 1551.0,853.7 1552.0,853.9 1553.0,853.7 1554.0,853.9 1555.0,853.7 1556.0,854.0 1557.0,854.0 1558.0,853.5 1559.0,853.9 1560.0,853.7 1561.0,853.6 1562.0,853.7 1563.0,853.8 1564.0,854.0 1565.0,853.6 1566.0,854.0 1567.0,854.2 1568.0,853.9 1569.0,853.9 1570.0,853.8 1571.0,853.7 1572.0,853.9 1573.0,853.9 1574.0,854.0 1575.0,854.3 1576.0,854.0 1577.0,853.9 1578.0,854.1 1579.0,853.6 1580.0,853.7 1581.0,853.8 1582.0,853.8 1583.0,854.0 1584.0,853.8 1585.0,854.2 1586.0,854.1 1587.0,854.0 1588.0,853.8 1589.0,854.0 1590.0,854.0 1591.0,853.7 1592.0,853.9 1593.0,854.0 1594.0,853.9 1595.0,854.1 1596.0,854.1 1597.0,853.8 1598.0,853.9 1599.0,853.8 1600.0,854.0 1601.0,853.8 1602.0,854.1 1603.0,854.0 1604.0,854.1 1605.0,853.9 1606.0,853.7 1607.0,854.2 1608.0,853.9 1609.0,854.1 1610.0,854.0 1611.0,854.0 1612.0,854.2 1613.0,854.0 1614.0,854.1 1615.0,853.7 1616.0,854.1 1617.0,853.9 1618.0,853.9 1619.0,853.9 1620.0,854.0 1621.0,854.2 1622.0,853.6 1623.0,853.9 1624.0,853.8 1625.0,854.1 1626.0,853.9 1627.0,854.0 1628.0,853.9 1629.0,854.1 1630.0,854.1 1631.0,853.9 1632.0,854.0 1633.0,853.7 1634.0,854.0 1635.0,854.1 1636.0,853.9 1637.0,854.1 1638.0,853.6 1639.0,853.7 1640.0,853.7 1641.0,853.9 1642.0,854.0 1643.0,854.0 1644.0,854.0 1645.0,854.1 1646.0,853.9 1647.0,853.8 1648.0,853.8 1649.0,854.3 1650.0,853.6 1651.0,854.0 1652.0,854.2 1653.0,854.1 1654.0,853.9 1655.0,854.0 1656.0,854.1 1657.0,854.2 1658.0,853.9 1659.0,854.1 1660.0,854.0 1661.0,854.2 1662.0,854.2 1663.0,854.0 1664.0,853.8 1665.0,854.1 1666.0,854.3 1667.0,854.1 1668.0,854.1 1669.0,854.4 1670.0,853.9 1671.0,854.2 1672.0,853.9 1673.0,854.0 1674.0,854.0 1675.0,854.3 1676.0,853.9 1677.0,853.9 1678.0,853.8 1679.0,854.1 1680.0,854.0 1681.0,854.1 1682.0,853.9 1683.0,854.0 1684.0,854.2 1685.0,854.0 1686.0,854.1 1687.0,854.1 1688.0,854.0 1689.0,853.8 1690.0,854.2 1691.0,854.1 1692.0,854.2 1693.0,853.7 1694.0,853.8 1695.0,853.7 1696.0,853.9 1697.0,854.2 1698.0,854.2 1699.0,854.1 1700.0,854.1 1701.0,854.2 1702.0,854.0 1703.0,854.1 1704.0,854.1 1705.0,853.7 1706.0,854.0 1707.0,854.3 1708.0,854.0 1709.0,854.1 1710.0,854.0 1711.0,854.0 1712.0,854.3 1713.0,854.0 1714.0,853.9 1715.0,853.6 1716.0,854.0 1717.0,853.8 1718.0,853.8 1719.0,854.2 1720.0,854.2 1721.0,853.8 1722.0,854.2 1723.0,854.2 1724.0,854.0 1725.0,854.2 1726.0,853.8 1727.0,853.9 1728.0,853.9 1729.0,853.9 1730.0,854.3 1731.0,853.9 1732.0,853.9 1733.0,854.0 1734.0,854.1 1735.0,854.1 1736.0,854.3 1737.0,854.0 1738.0,853.9 1739.0,854.0 1740.0,854.1 1741.0,854.0 1742.0,854.2 1743.0,854.4 1744.0,854.0 1745.0,854.1 1746.0,854.4 1747.0,854.0 1748.0,854.0 1749.0,854.0 1750.0,854.2 1751.0,854.2 1752.0,854.1 1753.0,854.2 1754.0,854.3 1755.0,854.3 1756.0,853.9 1757.0,854.1 1758.0,854.2 1759.0,854.3 1760.0,854.1 1761.0,854.1 1762.0,854.1 1763.0,853.9 1764.0,854.2 1765.0,854.1 1766.0,854.2 1767.0,854.0 1768.0,854.1 1769.0,854.0 1770.0,854.0 1771.0,854.3 1772.0,854.1 1773.0,854.2 1774.0,854.0 1775.0,854.2 1776.0,853.9 1777.0,854.1 1778.0,854.1 1779.0,854.3 1780.0,854.2 1781.0,854.2 1782.0,854.3 1783.0,854.2 1784.0,854.3 1785.0,854.3 1786.0,854.2 1787.0,854.1 1788.0,854.2 1789.0,854.1 1790.0,854.3 1791.0,854.4 1792.0,854.3 1793.0,854.1 1794.0,854.0 1795.0,854.2 1796.0,854.2 1797.0,854.4 1798.0,854.1 1799.0,854.2 1800.0,854.3 1801.0,854.1 1802.0,854.2 1803.0,854.5 1804.0,854.4 1805.0,854.3 1806.0,854.2 1807.0,854.0 1808.0,854.3 1809.0,854.2 1810.0,854.2 1811.0,854.1 1812.0,854.2 1813.0,854.2 1814.0,854.2 1815.0,854.4 1816.0,854.2 1817.0,853.9 1818.0,854.0 1819.0,853.9 1820.0,854.0 1821.0,854.3 1822.0,854.2 1823.0,854.1 1824.0,854.2 1825.0,854.0 1826.0,853.9 1827.0,853.9 1828.0,854.0 1829.0,854.4 1830.0,853.9 1831.0,854.3 1832.0,854.4 1833.0,854.1 1834.0,854.1 1835.0,854.0 1836.0,854.1 1837.0,854.2 1838.0,854.1 1839.0,854.3 1840.0,854.3 1841.0,854.2 1842.0,854.2 1843.0,854.1 1844.0,854.2 1845.0,853.9 1846.0,854.2 1847.0,854.1 1848.0,854.0 1849.0,854.5 1850.0,854.0 1851.0,854.0 1852.0,854.1 1853.0,853.8 1854.0,854.0 1855.0,853.9 1856.0,853.9 1857.0,854.1 1858.0,854.1 1859.0,854.3 1860.0,854.2 1861.0,854.3 1862.0,854.2 1863.0,854.0 1864.0,854.3 1865.0,854.0 1866.0,854.0 1867.0,854.3 1868.0,854.2 1869.0,854.1 1870.0,854.2 1871.0,854.2 1872.0,853.8 1873.0,854.0 1874.0,853.9 1875.0,854.1 1876.0,853.9 1877.0,854.3 1878.0,854.1 1879.0,853.9 1880.0,854.0 1881.0,853.8 1882.0,854.0 1883.0,854.1 1884.0,854.1 1885.0,853.7 1886.0,854.0 1887.0,854.1 1888.0,854.1 1889.0,854.2 1890.0,853.8 1891.0,854.1 1892.0,853.9 1893.0,854.0 1894.0,854.1 1895.0,854.1 1896.0,853.9 1897.0,854.0 1898.0,853.8 1899.0,853.8 1900.0,854.1 1901.0,854.0 1902.0,853.7 1903.0,853.9 1904.0,854.0 1905.0,854.2 1906.0,854.2 1907.0,854.1 1908.0,853.7 1909.0,854.0 1910.0,854.1 1911.0,854.0 1912.0,854.0 1913.0,853.9 1914.0,854.2 1915.0,854.2 1916.0,853.9 1917.0,853.8 1918.0,854.3 1919.0,853.9 1920.0,854.1 1921.0,854.3 1922.0,853.8 1923.0,854.0 1924.0,853.9 1925.0,854.0 1926.0,854.0 1927.0,854.2 1928.0,854.0 1929.0,853.9 1930.0,854.1 1931.0,853.9 1932.0,853.9 1933.0,854.3 1934.0,853.8 1935.0,853.8 1936.0,853.9 1937.0,853.7 1938.0,853.6 1939.0,854.1 1940.0,853.8 1941.0,853.8 1942.0,853.8 1943.0,853.7 1944.0,853.7 1945.0,853.9 1946.0,854.3 1947.0,854.0 1948.0,854.0 1949.0,853.6 1950.0,853.9 1951.0,853.7 1952.0,854.0 1953.0,853.8 1954.0,853.9 1955.0,853.9 1956.0,853.8 1957.0,853.6 1958.0,854.0 1959.0,853.6 1960.0,853.7 1961.0,853.8 1962.0,853.7 1963.0,853.9 1964.0,854.0 1965.0,853.9 1966.0,853.9 1967.0,853.8 1968.0,854.0 1969.0,853.5 1970.0,853.9 1971.0,853.7 1972.0,853.6 1973.0,853.8 1974.0,853.8 1975.0,853.9 1976.0,854.0 1977.0,853.4 1978.0,853.8 1979.0,854.1 1980.0,853.9 1981.0,854.0 1982.0,853.8 1983.0,853.6 1984.0,853.6 1985.0,853.9 1986.0,853.9 1987.0,853.7 1988.0,853.7 1989.0,853.8 1990.0,853.5 1991.0,853.7 1992.0,854.0 1993.0,854.1 1994.0,853.7 1995.0,854.0 1996.0,853.7 1997.0,853.6 1998.0,853.4 1999.0,853.9 2000.0,853.7 2001.0,854.1 2002.0,853.8 2003.0,853.8 2004.0,853.4 2005.0,854.0 2006.0,853.7 2007.0,853.7 2008.0,853.4 2009.0,853.8 2010.0,853.9 2011.0,853.6 2012.0,853.7 2013.0,853.7 2014.0,853.8 2015.0,853.7 2016.0,853.9 2017.0,853.6 2018.0,853.6 2019.0,853.6 2020.0,853.2 2021.0,853.5 2022.0,853.8 2023.0,853.7 2024.0,853.5 2025.0,853.7 2026.0,853.3 2027.0,853.6 2028.0,853.7 2029.0,853.7 2030.0,853.5 2031.0,853.7 2032.0,853.9 2033.0,853.5 2034.0,853.7 2035.0,853.3 2036.0,853.3 2037.0,853.7 2038.0,853.6 2039.0,853.6 2040.0,853.5 2041.0,853.5 2042.0,853.7 2043.0,853.8 2044.0,853.5 2045.0,853.3 2046.0,853.7 2047.0,853.6 2048.0,853.6 2049.0,853.5 2050.0,853.9 2051.0,853.5 2052.0,853.6 2053.0,853.2 2054.0,853.4 2055.0,853.3 2056.0,853.4 2057.0,853.5 2058.0,853.3 2059.0,853.7 2060.0,853.2 2061.0,853.3 2062.0,853.4 2063.0,853.2 2064.0,853.4 2065.0,853.4 2066.0,853.3 2067.0,853.6 2068.0,853.3 2069.0,853.3 2070.0,853.1 2071.0,853.0 2072.0,853.2 2073.0,853.2 2074.0,853.2 2075.0,853.3 2076.0,852.8 2077.0,853.0 2078.0,852.9 2079.0,853.4 2080.0,853.0 2081.0,853.0 2082.0,852.9 2083.0,853.2 2084.0,853.0 2085.0,853.0 2086.0,852.7 2087.0,853.1 2088.0,853.0 2089.0,853.0 2090.0,853.1 2091.0,852.8 2092.0,852.8 2093.0,852.9 2094.0,852.8 2095.0,852.6 2096.0,852.6 2097.0,852.5 2098.0,852.6 2099.0,852.6 2100.0,852.4 2101.0,852.6 2102.0,852.0 2103.0,852.1 2104.0,852.4 2105.0,851.9 2106.0,851.7 2107.0,852.0 2108.0,851.8 2109.0,851.4 2110.0,851.6 2111.0,851.2 2112.0,851.0 2113.0,851.0 2114.0,850.8 2115.0,850.5 2116.0,850.4 2117.0,850.1 2118.0,850.1 2119.0,849.8 2120.0,849.7 2121.0,849.3 2122.0,848.9 2123.0,848.6 2124.0,848.5 2125.0,848.5 2126.0,848.1 2127.0,847.6 2128.0,847.6 2129.0,846.9 2130.0,847.0 2131.0,846.5 2132.0,846.5 2133.0,846.2 2134.0,845.9 2135.0,845.8 2136.0,845.5 2137.0,845.6 2138.0,845.7 2139.0,846.2 2140.0,845.8 2141.0,845.8 2142.0,845.8 2143.0,846.3 2144.0,846.0 2145.0,846.4 2146.0,846.9 2147.0,846.9 2148.0,847.6 2149.0,847.8 2150.0,847.8 2151.0,848.1 2152.0,848.3 2153.0,848.5 2154.0,849.1 2155.0,849.4 2156.0,849.6 2157.0,849.8 2158.0,849.9 2159.0,850.2 2160.0,850.2 2161.0,850.6 2162.0,851.0 2163.0,851.1 2164.0,851.0 2165.0,851.2 2166.0,851.6 2167.0,851.8 2168.0,851.3 2169.0,851.6 2170.0,851.8 2171.0,852.1 2172.0,851.8 2173.0,852.1 2174.0,852.1 2175.0,852.6 2176.0,852.3 2177.0,852.3 2178.0,852.3 2179.0,852.6 2180.0,852.6 2181.0,852.3 2182.0,852.6 2183.0,852.4 2184.0,852.5 2185.0,852.4 2186.0,852.5 2187.0,852.6 2188.0,852.6 2189.0,852.8 2190.0,852.9 2191.0,852.8 2192.0,852.6 2193.0,853.0 2194.0,852.5 2195.0,852.6 2196.0,853.0 2197.0,853.0 2198.0,853.1 2199.0,852.9 2200.0,852.7 2201.0,852.9 2202.0,853.1 2203.0,852.9 2204.0,852.9 2205.0,852.8 2206.0,852.8 2207.0,853.2 2208.0,853.1 2209.0,852.9 2210.0,852.9 2211.0,853.0 2212.0,853.1 2213.0,852.9 2214.0,853.0 2215.0,852.7 2216.0,852.9 2217.0,853.2 2218.0,853.2 2219.0,852.9 2220.0,853.0 2221.0,853.2 2222.0,853.1 2223.0,853.0 2224.0,853.2 2225.0,853.2 2226.0,853.3 2227.0,853.3 2228.0,853.0 2229.0,853.1 2230.0,853.1 2231.0,852.9 2232.0,853.0 2233.0,853.3 2234.0,852.9 2235.0,853.3 2236.0,853.2 2237.0,853.1 2238.0,853.3 2239.0,853.2 2240.0,853.4 2241.0,853.1 2242.0,853.1 2243.0,853.1 2244.0,853.5 2245.0,853.3 2246.0,853.0 2247.0,853.1 2248.0,853.1 2249.0,853.2 2250.0,853.2 2251.0,853.6 2252.0,852.9 2253.0,853.3 2254.0,853.3 2255.0,853.1 2256.0,853.2 2257.0,853.1 2258.0,853.2 2259.0,853.3 2260.0,852.9 2261.0,853.4 2262.0,853.1 2263.0,853.4 2264.0,853.3 2265.0,853.4 2266.0,853.3 2267.0,853.4 2268.0,853.2 2269.0,853.1 2270.0,853.3 2271.0,853.3 2272.0,853.5 2273.0,852.9 2274.0,853.2 2275.0,853.4 2276.0,853.0 2277.0,853.1 2278.0,853.5 2279.0,853.4 2280.0,853.0 2281.0,853.4 2282.0,853.4 2283.0,853.3 2284.0,853.2 2285.0,853.2 2286.0,853.0 2287.0,853.1 2288.0,853.3 2289.0,853.2 2290.0,853.5 2291.0,853.1 2292.0,852.8 2293.0,853.1 2294.0,853.2 2295.0,853.2 2296.0,853.2 2297.0,853.0 2298.0,853.4 2299.0,853.1 2300.0,853.3 2301.0,853.1 2302.0,853.0 2303.0,853.4 2304.0,852.8 2305.0,853.0 2306.0,853.2 2307.0,853.1 2308.0,853.3 2309.0,853.1 2310.0,853.1 2311.0,853.5 2312.0,853.1 2313.0,853.1 2314.0,853.0 2315.0,853.0 2316.0,853.3 2317.0,853.2 2318.0,853.1 2319.0,853.0 2320.0,853.3 2321.0,852.9 2322.0,853.1 2323.0,853.1 2324.0,853.0 2325.0,853.2 2326.0,853.0 2327.0,853.0 2328.0,853.4 2329.0,853.2 2330.0,853.3 2331.0,853.1 2332.0,853.3 2333.0,853.3 2334.0,853.3 2335.0,853.5 2336.0,853.1 2337.0,853.2 2338.0,853.1 2339.0,852.6 2340.0,852.9 2341.0,853.1 2342.0,853.2 2343.0,853.0 2344.0,853.3 2345.0,853.3 2346.0,853.0 2347.0,853.3 2348.0,853.4 2349.0,853.2 2350.0,852.9 2351.0,853.3 2352.0,853.1 2353.0,853.0 2354.0,853.1 2355.0,853.0 2356.0,853.3 2357.0,853.2 2358.0,853.3 2359.0,853.2 2360.0,853.0 2361.0,853.1 2362.0,853.2 2363.0,853.0 2364.0,853.5 2365.0,853.0 2366.0,853.0 2367.0,853.3 2368.0,853.2 2369.0,853.1 2370.0,853.0 2371.0,853.1 2372.0,853.2 2373.0,853.2 2374.0,853.0 2375.0,853.1 2376.0,853.2 2377.0,853.2 2378.0,852.6 2379.0,852.9 2380.0,852.9 2381.0,853.0 2382.0,853.1 2383.0,853.2 2384.0,853.1 2385.0,853.0 2386.0,853.0 2387.0,853.3 2388.0,852.9 2389.0,853.1 2390.0,853.3 2391.0,853.1 2392.0,852.7 2393.0,853.1 2394.0,853.0 2395.0,853.0 2396.0,853.2 2397.0,853.1 2398.0,853.0 2399.0,853.2 2400.0,853.1 2401.0,853.0 2402.0,853.1 2403.0,853.1 2404.0,853.0 2405.0,852.9 2406.0,853.0 2407.0,852.9 2408.0,852.8 2409.0,853.2 2410.0,853.0 2411.0,853.0 2412.0,853.0 2412.5,853.0" fill="none" stroke="#ff0000" stroke-width="6.6" stroke-linejoin="round" stroke-linecap="butt"/>
<path d="M188.0,1082.6 189.0,1082.6 190.0,1082.5 191.0,1082.8 192.0,1082.5 193.0,1082.8 194.0,1082.4 195.0,1082.5 196.0,1082.9 197.0,1082.7 198.0,1082.6 199.0,1082.8 200.0,1082.6 201.0,1082.8 202.0,1082.5 203.0,1082.8 204.0,1082.8 205.0,1083.0 206.0,1083.0 207.0,1082.8 208.0,1083.2 209.0,1082.9 210.0,1082.6 211.0,1082.6 212.0,1083.2 213.0,1083.0 214.0,1082.9 215.0,1082.9 216.0,1082.9 217.0,1083.3 218.0,1083.1 219.0,1083.4 220.0,1083.1 221.0,1082.8 222.0,1083.3 223.0,1083.1 224.0,1083.2 225.0,1083.5 226.0,1083.2 227.0,1083.5 228.0,1083.3 229.0,1083.2 230.0,1083.4 231.0,1083.2 232.0,1083.6 233.0,1083.5 234.0,1083.4 235.0,1083.5 236.0,1083.5 237.0,1083.4 238.0,1083.6 239.0,1083.5 240.0,1083.6 241.0,1083.4 242.0,1083.6 243.0,1083.6 244.0,1083.5 245.0,1083.5 246.0,1083.5 247.0,1083.7 248.0,1083.5 249.0,1083.7 250.0,1083.9 251.0,1083.8 252.0,1083.5 253.0,1083.8 254.0,1083.9 255.0,1083.7 256.0,1084.0 257.0,1083.9 258.0,1083.9 259.0,1083.8 260.0,1083.8 261.0,1083.8 262.0,1083.9 263.0,1084.0 264.0,1084.0 265.0,1083.9 266.0,1084.0 267.0,1084.1 268.0,1083.8 269.0,1083.9 270.0,1083.9 271.0,1084.0 272.0,1084.0 273.0,1084.1 274.0,1084.0 275.0,1084.2 276.0,1084.2 277.0,1083.9 278.0,1084.2 279.0,1084.0 280.0,1084.5 281.0,1084.2 282.0,1084.2 283.0,1084.3 284.0,1084.3 285.0,1084.3 286.0,1084.6 287.0,1084.4 288.0,1084.5 289.0,1084.6 290.0,1084.3 291.0,1084.7 292.0,1084.6 293.0,1084.6 294.0,1084.3 295.0,1084.6 296.0,1084.6 297.0,1084.4 298.0,1084.9 299.0,1084.7 300.0,1084.5 301.0,1084.6 302.0,1084.8 303.0,1084.8 304.0,1084.8 305.0,1084.9 306.0,1084.9 307.0,1084.5 308.0,1084.7 309.0,1084.6 310.0,1084.8 311.0,1085.0 312.0,1084.9 313.0,1084.7 314.0,1084.8 315.0,1085.0 316.0,1084.8 317.0,1084.9 318.0,1085.0 319.0,1084.6 320.0,1085.1 321.0,1085.0 322.0,1085.1 323.0,1084.8 324.0,1084.9 325.0,1084.9 326.0,1085.1 327.0,1085.1 328.0,1085.1 329.0,1085.4 330.0,1085.3 331.0,1085.0 332.0,1085.1 333.0,1085.5 334.0,1085.1 335.0,1085.4 336.0,1085.5 337.0,1085.2 338.0,1085.2 339.0,1085.3 340.0,1085.2 341.0,1085.2 342.0,1085.3 343.0,1085.5 344.0,1085.3 345.0,1085.4 346.0,1085.3 347.0,1085.2 348.0,1085.7 349.0,1085.1 350.0,1085.4 351.0,1085.6 352.0,1085.3 353.0,1085.6 354.0,1085.8 355.0,1085.4 356.0,1085.6 357.0,1085.4 358.0,1085.7 359.0,1085.7 360.0,1085.7 361.0,1085.9 362.0,1085.8 363.0,1085.9 364.0,1085.8 365.0,1085.6 366.0,1085.8 367.0,1085.9 368.0,1085.6 369.0,1086.0 370.0,1085.8 371.0,1085.9 372.0,1085.7 373.0,1085.9 374.0,1086.0 375.0,1085.9 376.0,1086.0 377.0,1085.6 378.0,1086.2 379.0,1085.8 380.0,1085.7 381.0,1085.9 382.0,1085.9 383.0,1086.1 384.0,1085.9 385.0,1086.1 386.0,1086.0 387.0,1086.5 388.0,1086.2 389.0,1086.5 390.0,1086.0 391.0,1086.3 392.0,1086.1 393.0,1086.3 394.0,1086.4 395.0,1086.0 396.0,1086.1 397.0,1086.1 398.0,1086.1 399.0,1086.2 400.0,1086.2 401.0,1086.1 402.0,1086.4 403.0,1086.5 404.0,1086.2 405.0,1086.4 406.0,1086.5 407.0,1086.4 408.0,1086.4 409.0,1086.6 410.0,1086.7 411.0,1086.7 412.0,1086.5 413.0,1086.9 414.0,1086.9 415.0,1086.6 416.0,1086.6 417.0,1086.8 418.0,1086.5 419.0,1086.8 420.0,1086.7 421.0,1086.6 422.0,1086.7 423.0,1086.5 424.0,1086.7 425.0,1086.5 426.0,1087.2 427.0,1087.1 428.0,1087.0 429.0,1086.9 430.0,1087.0 431.0,1087.1 432.0,1087.1 433.0,1087.1 434.0,1086.8 435.0,1087.0 436.0,1086.9 437.0,1086.8 438.0,1086.8 439.0,1087.1 440.0,1087.2 441.0,1086.8 442.0,1087.4 443.0,1087.3 444.0,1087.1 445.0,1087.1 446.0,1087.1 447.0,1087.3 448.0,1087.1 449.0,1087.0 450.0,1087.3 451.0,1086.9 452.0,1087.3 453.0,1087.5 454.0,1087.3 455.0,1087.4 456.0,1087.4 457.0,1087.4 458.0,1087.4 459.0,1087.2 460.0,1087.3 461.0,1087.4 462.0,1087.6 463.0,1087.7 464.0,1087.5 465.0,1087.3 466.0,1087.3 467.0,1087.4 468.0,1087.7 469.0,1087.5 470.0,1087.5 471.0,1087.4 472.0,1087.6 473.0,1087.6 474.0,1087.5 475.0,1087.6 476.0,1087.8 477.0,1087.5 478.0,1087.8 479.0,1087.8 480.0,1087.6 481.0,1087.7 482.0,1087.6 483.0,1087.5 484.0,1087.6 485.0,1087.5 486.0,1087.7 487.0,1087.7 488.0,1087.8 489.0,1087.8 490.0,1087.2 491.0,1087.8 492.0,1087.4 493.0,1087.8 494.0,1087.6 495.0,1087.8 496.0,1088.0 497.0,1087.5 498.0,1087.8 499.0,1087.8 500.0,1087.5 501.0,1087.9 502.0,1087.9 503.0,1087.8 504.0,1087.8 505.0,1088.4 506.0,1087.8 507.0,1087.6 508.0,1087.8 509.0,1087.9 510.0,1087.9 511.0,1087.9 512.0,1087.8 513.0,1088.1 514.0,1087.9 515.0,1087.8 516.0,1087.9 517.0,1087.9 518.0,1088.2 519.0,1088.1 520.0,1088.0 521.0,1088.1 522.0,1088.1 523.0,1088.4 524.0,1088.0 525.0,1088.2 526.0,1088.2 527.0,1088.0 528.0,1088.2 529.0,1088.2 530.0,1088.1 531.0,1088.2 532.0,1088.3 533.0,1088.4 534.0,1088.2 535.0,1088.2 536.0,1088.6 537.0,1088.0 538.0,1088.3 539.0,1088.4 540.0,1088.3 541.0,1088.4 542.0,1088.3 543.0,1088.4 544.0,1088.5 545.0,1088.3 546.0,1088.3 547.0,1088.3 548.0,1088.3 549.0,1088.3 550.0,1088.2 551.0,1088.5 552.0,1088.6 553.0,1088.6 554.0,1088.6 555.0,1088.2 556.0,1088.6 557.0,1088.3 558.0,1088.4 559.0,1088.7 560.0,1088.3 561.0,1088.6 562.0,1088.5 563.0,1088.4 564.0,1088.3 565.0,1088.5 566.0,1088.4 567.0,1088.7 568.0,1088.7 569.0,1088.3 570.0,1088.4 571.0,1088.5 572.0,1088.3 573.0,1088.3 574.0,1088.5 575.0,1088.3 576.0,1088.0 577.0,1088.0 578.0,1088.0 579.0,1087.5 580.0,1087.3 581.0,1087.5 582.0,1087.2 583.0,1086.6 584.0,1086.6 585.0,1086.9 586.0,1086.8 587.0,1087.2 588.0,1087.4 589.0,1087.8 590.0,1087.6 591.0,1087.9 592.0,1088.2 593.0,1088.7 594.0,1088.5 595.0,1088.4 596.0,1088.7 597.0,1088.8 598.0,1088.7 599.0,1088.7 600.0,1088.8 601.0,1088.9 602.0,1088.8 603.0,1088.8 604.0,1088.7 605.0,1088.7 606.0,1088.6 607.0,1088.8 608.0,1088.7 609.0,1088.7 610.0,1088.9 611.0,1088.8 612.0,1088.9 613.0,1088.5 614.0,1088.9 615.0,1088.7 616.0,1088.6 617.0,1088.6 618.0,1089.0 619.0,1088.9 620.0,1088.7 621.0,1088.6 622.0,1088.8 623.0,1088.7 624.0,1089.1 625.0,1088.6 626.0,1088.5 627.0,1088.7 628.0,1088.8 629.0,1088.8 630.0,1088.9 631.0,1089.1 632.0,1088.7 633.0,1088.7 634.0,1088.5 635.0,1088.8 636.0,1088.9 637.0,1088.7 638.0,1089.0 639.0,1088.8 640.0,1089.0 641.0,1088.8 642.0,1088.6 643.0,1088.6 644.0,1088.5 645.0,1088.4 646.0,1088.8 647.0,1088.9 648.0,1089.0 649.0,1088.7 650.0,1088.6 651.0,1088.5 652.0,1088.8 653.0,1088.7 654.0,1088.6 655.0,1088.7 656.0,1088.7 657.0,1088.3 658.0,1088.7 659.0,1088.6 660.0,1088.5 661.0,1088.5 662.0,1088.8 663.0,1088.7 664.0,1088.8 665.0,1088.3 666.0,1088.3 667.0,1088.5 668.0,1088.2 669.0,1088.2 670.0,1088.0 671.0,1088.6 672.0,1088.4 673.0,1088.3 674.0,1088.2 675.0,1088.1 676.0,1088.0 677.0,1088.2 678.0,1087.9 679.0,1088.2 680.0,1087.9 681.0,1087.8 682.0,1088.1 683.0,1087.8 684.0,1087.9 685.0,1087.7 686.0,1087.3 687.0,1087.7 688.0,1087.4 689.0,1087.7 690.0,1087.2 691.0,1087.1 692.0,1087.4 693.0,1087.3 694.0,1087.2 695.0,1086.9 696.0,1087.2 697.0,1086.7 698.0,1086.8 699.0,1086.7 700.0,1086.7 701.0,1086.8 702.0,1086.5 703.0,1086.5 704.0,1086.5 705.0,1086.0 706.0,1086.0 707.0,1086.0 708.0,1085.8 709.0,1085.8 710.0,1085.4 711.0,1085.6 712.0,1085.5 713.0,1085.2 714.0,1084.9 715.0,1084.9 716.0,1084.7 717.0,1084.7 718.0,1084.4 719.0,1084.3 720.0,1083.9 721.0,1084.0 721.4,1083.3 721.9,1083.4 722.0,1083.7 722.4,1083.2 722.9,1083.5 723.0,1083.1 723.4,1083.3 723.9,1083.0 724.0,1083.0 724.4,1083.0 724.9,1082.8 725.0,1082.8 725.4,1083.1 725.9,1082.6 726.0,1082.4 726.4,1082.6 726.9,1082.4 727.0,1082.5 727.4,1082.4 727.9,1081.8 728.0,1082.1 728.4,1082.0 728.9,1081.7 729.0,1081.7 729.4,1081.0 729.9,1081.2 730.0,1081.6 730.4,1080.8 730.9,1080.9 731.0,1081.0 731.4,1080.9 731.9,1080.8 732.0,1080.2 732.4,1080.4 732.9,1080.3 733.0,1079.9 733.4,1079.9 733.9,1080.0 734.0,1079.9 734.4,1079.6 734.9,1078.8 735.0,1079.2 735.4,1079.1 735.9,1078.7 736.0,1078.7 736.4,1079.0 736.9,1078.2 737.0,1078.0 737.4,1078.0 737.9,1077.6 738.0,1077.6 738.4,1077.4 738.9,1077.2 739.0,1077.1 739.4,1076.6 739.9,1076.4 740.0,1076.4 740.4,1076.0 740.9,1075.9 741.0,1075.8 741.4,1075.2 741.9,1075.0 742.0,1075.2 742.4,1074.9 742.9,1074.2 743.0,1074.3 743.4,1073.7 743.9,1073.1 744.0,1073.3 744.4,1072.9 744.9,1072.5 745.0,1072.3 745.4,1072.0 745.9,1071.3 746.0,1071.4 746.4,1071.0 746.9,1070.3 747.0,1070.3 747.4,1069.4 747.9,1069.0 748.0,1069.2 748.4,1068.8 748.9,1067.9 749.0,1067.7 749.4,1066.9 749.9,1066.5 750.0,1066.4 750.4,1065.4 750.9,1065.0 751.0,1064.8 751.4,1064.1 751.9,1063.0 752.0,1063.1 752.4,1062.0 752.9,1061.6 753.0,1061.2 753.4,1060.1 753.9,1059.5 754.0,1059.3 754.4,1058.1 754.9,1057.4 755.0,1056.6 755.4,1055.8 755.9,1054.7 756.0,1053.9 756.4,1053.3 756.9,1051.6 757.0,1051.4 757.4,1049.9 757.9,1048.5 758.0,1048.0 758.4,1046.6 758.9,1044.8 759.0,1044.3 759.4,1043.1 759.9,1040.5 760.0,1040.2 760.4,1038.4 760.9,1036.0 761.0,1035.7 761.4,1033.4 761.9,1030.3 762.0,1029.8 762.4,1027.2 762.9,1023.9 763.0,1023.2 763.4,1019.8 763.9,1015.4 764.0,1015.3 764.4,1011.2 764.9,1005.9 765.0,1005.0 765.4,1000.1 765.9,993.6 766.0,992.6 766.4,986.7 766.9,978.7 767.0,977.1 767.4,969.9 767.9,960.1 768.0,958.1 768.4,949.0 768.9,936.4 769.0,934.5 769.4,923.1 769.9,907.8 770.0,905.0 770.4,891.4 770.9,872.9 771.0,869.8 771.4,852.8 771.9,831.0 772.0,826.9 772.4,806.8 772.9,781.2 773.0,776.6 773.4,753.6 773.9,723.7 774.0,718.4 774.4,692.4 774.9,659.1 775.0,653.2 775.4,624.3 775.9,588.2 776.0,582.0 776.4,551.3 776.9,513.8 777.0,507.4 777.4,476.6 777.9,440.7 778.0,434.2 778.4,405.7 778.9,373.9 779.0,368.9 779.4,346.0 779.9,322.6 780.0,319.1 780.4,305.5 780.9,294.4 781.0,293.6 781.4,291.0 781.9,294.0 782.0,295.2 782.4,302.3 782.9,315.9 783.0,318.6 783.4,334.3 783.9,357.0 784.0,360.9 784.4,383.1 784.9,411.8 785.0,417.0 785.4,442.5 785.9,474.6 786.0,480.0 786.4,507.3 786.9,540.1 787.0,546.0 787.4,573.4 787.9,605.4 788.0,610.9 788.4,636.7 788.9,667.4 789.0,672.1 789.4,696.4 789.9,724.0 790.0,728.5 790.4,750.5 790.9,775.1 791.0,779.2 791.4,798.5 791.9,820.2 792.0,823.7 792.4,840.5 792.9,859.2 793.0,862.4 793.4,876.5 793.9,892.4 794.0,895.2 794.4,907.3 794.9,920.8 795.0,923.2 795.4,932.9 795.9,944.4 796.0,945.8 796.4,954.4 796.9,963.8 797.0,965.0 797.4,972.0 797.9,980.0 798.0,981.2 798.4,986.9 798.9,993.1 799.0,994.6 799.4,999.0 799.9,1004.1 800.0,1005.3 800.4,1009.1 800.9,1013.2 801.0,1014.2 801.4,1017.3 801.9,1021.0 802.0,1021.5 802.4,1024.1 802.9,1027.4 803.0,1027.8 803.4,1030.0 803.9,1032.6 804.0,1033.3 804.4,1035.1 804.9,1037.5 805.0,1037.9 805.4,1039.6 805.9,1041.3 806.0,1042.0 806.4,1043.6 806.9,1045.3 807.0,1045.7 807.4,1046.9 807.9,1048.5 808.0,1048.9 808.4,1049.8 808.9,1051.5 809.0,1051.8 809.4,1052.7 809.9,1054.1 810.0,1054.2 810.4,1054.9 810.9,1056.4 811.0,1056.4 811.4,1057.3 811.9,1058.3 812.0,1058.7 812.4,1059.4 812.9,1060.1 813.0,1060.5 813.4,1061.3 813.9,1061.9 814.0,1062.1 814.4,1062.8 814.9,1063.6 815.0,1063.9 815.4,1064.6 815.9,1065.5 816.0,1065.5 816.4,1066.0 816.9,1066.7 817.0,1066.9 817.4,1067.1 817.9,1067.9 818.0,1068.0 818.4,1068.4 818.9,1068.9 819.0,1069.0 819.4,1069.5 819.9,1069.9 820.0,1070.3 820.4,1070.6 820.9,1071.2 821.0,1071.3 821.4,1071.7 821.9,1072.0 822.0,1072.2 822.4,1072.3 822.9,1072.6 823.0,1072.7 823.4,1073.6 823.9,1073.5 824.0,1073.9 824.4,1074.4 824.9,1074.5 825.0,1074.9 825.4,1075.2 825.9,1075.5 826.0,1075.7 826.4,1075.7 826.9,1075.9 827.0,1076.1 827.4,1076.2 827.9,1076.4 828.0,1076.5 828.4,1077.3 828.9,1077.1 829.0,1077.3 829.4,1077.4 829.9,1077.8 830.0,1077.8 830.4,1078.0 830.9,1078.1 831.0,1078.1 831.4,1078.5 831.9,1078.9 832.0,1079.2 832.4,1079.2 832.9,1079.6 833.0,1079.4 833.4,1079.5 833.9,1079.5 834.0,1079.8 834.4,1079.6 834.9,1080.1 835.0,1080.5 835.4,1080.4 835.9,1080.8 836.0,1080.5 836.4,1080.5 836.9,1080.9 837.0,1080.9 837.4,1081.3 837.9,1081.6 838.0,1081.2 838.4,1081.4 838.9,1081.6 839.0,1081.6 839.4,1081.6 839.9,1082.0 840.0,1082.1 840.4,1082.2 840.9,1082.1 841.0,1082.3 842.0,1082.3 843.0,1083.1 844.0,1083.0 845.0,1083.4 846.0,1083.6 847.0,1083.8 848.0,1084.0 849.0,1084.1 850.0,1084.8 851.0,1084.8 852.0,1085.0 853.0,1085.5 854.0,1085.3 855.0,1085.6 856.0,1085.6 857.0,1086.0 858.0,1086.0 859.0,1086.1 860.0,1086.2 861.0,1086.4 862.0,1086.7 863.0,1086.3 864.0,1086.7 865.0,1086.8 866.0,1086.9 867.0,1086.7 868.0,1087.3 869.0,1087.1 870.0,1087.3 871.0,1087.4 872.0,1087.3 873.0,1087.6 874.0,1087.4 875.0,1087.7 876.0,1087.8 877.0,1088.0 878.0,1088.1 879.0,1088.1 880.0,1088.5 881.0,1088.3 882.0,1088.1 883.0,1088.3 884.0,1088.4 885.0,1088.5 886.0,1088.5 887.0,1088.5 888.0,1089.0 889.0,1088.8 890.0,1088.8 891.0,1088.8 892.0,1088.9 893.0,1089.2 894.0,1089.1 895.0,1089.2 896.0,1088.6 897.0,1089.2 898.0,1089.4 899.0,1089.6 900.0,1089.3 901.0,1089.1 902.0,1089.5 903.0,1089.3 904.0,1089.1 905.0,1089.4 906.0,1089.7 907.0,1089.7 908.0,1089.7 909.0,1089.4 910.0,1090.0 911.0,1089.5 912.0,1089.7 913.0,1089.5 914.0,1090.0 915.0,1089.8 916.0,1089.9 917.0,1089.8 918.0,1089.8 919.0,1089.9 920.0,1089.6 921.0,1090.1 922.0,1090.1 923.0,1089.9 924.0,1090.0 925.0,1090.0 926.0,1090.3 927.0,1090.1 928.0,1090.1 929.0,1090.0 930.0,1089.8 931.0,1090.0 932.0,1090.1 933.0,1090.1 934.0,1090.2 935.0,1090.3 936.0,1090.3 937.0,1090.2 938.0,1090.3 939.0,1090.3 940.0,1090.2 941.0,1090.3 942.0,1090.0 943.0,1090.5 944.0,1090.1 945.0,1090.4 946.0,1090.3 947.0,1090.5 948.0,1090.3 949.0,1090.2 950.0,1090.5 951.0,1090.4 952.0,1090.4 953.0,1090.4 954.0,1090.5 955.0,1090.5 956.0,1090.4 957.0,1090.1 958.0,1090.3 959.0,1090.4 960.0,1090.7 961.0,1090.5 962.0,1090.4 963.0,1090.6 964.0,1090.4 965.0,1090.4 966.0,1090.4 967.0,1090.2 968.0,1090.6 969.0,1090.5 970.0,1090.3 971.0,1090.2 972.0,1090.4 973.0,1090.6 974.0,1090.3 975.0,1090.2 976.0,1090.4 977.0,1090.1 978.0,1090.0 979.0,1090.3 980.0,1090.2 981.0,1090.3 982.0,1090.2 983.0,1090.4 984.0,1090.3 985.0,1090.2 986.0,1090.2 987.0,1090.4 988.0,1090.4 989.0,1090.4 990.0,1090.4 991.0,1089.7 992.0,1090.1 993.0,1090.2 994.0,1090.2 995.0,1089.9 996.0,1090.4 997.0,1090.2 998.0,1090.0 999.0,1090.1 1000.0,1090.0 1001.0,1089.9 1002.0,1090.1 1003.0,1089.9 1004.0,1089.7 1005.0,1089.8 1006.0,1089.9 1007.0,1089.7 1008.0,1090.0 1009.0,1089.6 1010.0,1090.0 1011.0,1089.9 1012.0,1089.6 1013.0,1089.7 1014.0,1089.9 1015.0,1089.6 1016.0,1089.4 1017.0,1089.6 1018.0,1089.9 1019.0,1089.3 1020.0,1089.6 1021.0,1089.4 1022.0,1089.4 1023.0,1089.3 1024.0,1089.2 1025.0,1089.4 1026.0,1089.3 1027.0,1089.0 1028.0,1089.3 1029.0,1088.8 1030.0,1089.0 1031.0,1088.9 1032.0,1088.9 1033.0,1088.7 1034.0,1088.7 1035.0,1088.5 1036.0,1088.5 1037.0,1088.3 1038.0,1088.5 1039.0,1087.9 1040.0,1088.0 1041.0,1087.8 1042.0,1087.6 1043.0,1087.3 1044.0,1087.2 1045.0,1086.7 1046.0,1086.6 1047.0,1086.7 1048.0,1086.1 1049.0,1086.3 1050.0,1085.8 1051.0,1085.6 1052.0,1085.3 1053.0,1085.0 1054.0,1084.6 1055.0,1084.2 1056.0,1083.9 1057.0,1083.7 1058.0,1083.3 1059.0,1082.9 1060.0,1082.3 1061.0,1081.7 1062.0,1081.0 1063.0,1080.9 1064.0,1080.4 1065.0,1079.6 1066.0,1079.2 1067.0,1078.7 1068.0,1077.8 1069.0,1077.3 1070.0,1076.5 1071.0,1075.5 1072.0,1075.0 1073.0,1074.3 1074.0,1073.6 1075.0,1072.6 1076.0,1071.9 1077.0,1071.1 1078.0,1070.4 1079.0,1069.6 1080.0,1069.0 1081.0,1068.2 1082.0,1067.3 1083.0,1066.6 1084.0,1065.9 1085.0,1065.2 1086.0,1064.8 1087.0,1063.6 1088.0,1063.5 1089.0,1063.2 1090.0,1063.0 1091.0,1062.4 1092.0,1062.5 1093.0,1062.5 1094.0,1062.3 1095.0,1062.2 1096.0,1062.7 1097.0,1062.9 1098.0,1063.6 1099.0,1063.8 1100.0,1064.8 1101.0,1065.2 1102.0,1065.7 1103.0,1066.4 1104.0,1067.1 1105.0,1068.1 1106.0,1069.1 1107.0,1069.7 1108.0,1070.7 1109.0,1071.2 1110.0,1072.3 1111.0,1073.4 1112.0,1073.7 1113.0,1074.9 1114.0,1075.7 1115.0,1076.0 1116.0,1076.8 1117.0,1077.6 1118.0,1078.7 1119.0,1079.2 1120.0,1079.9 1121.0,1080.7 1122.0,1081.2 1123.0,1081.8 1124.0,1082.3 1125.0,1083.1 1126.0,1083.3 1127.0,1084.2 1128.0,1084.4 1129.0,1084.8 1130.0,1085.5 1131.0,1085.9 1132.0,1085.9 1133.0,1086.6 1134.0,1086.7 1135.0,1087.2 1136.0,1087.8 1137.0,1087.8 1138.0,1088.3 1139.0,1088.5 1140.0,1089.1 1141.0,1089.1 1142.0,1089.1 1143.0,1089.4 1144.0,1089.6 1145.0,1090.0 1146.0,1090.2 1147.0,1090.5 1148.0,1090.6 1149.0,1090.8 1150.0,1091.0 1151.0,1091.1 1152.0,1091.3 1153.0,1091.5 1154.0,1091.7 1155.0,1091.6 1156.0,1091.5 1157.0,1091.8 1158.0,1092.1 1159.0,1091.8 1160.0,1092.2 1161.0,1092.5 1162.0,1092.4 1163.0,1092.4 1164.0,1093.0 1165.0,1093.0 1166.0,1092.8 1167.0,1093.2 1168.0,1093.3 1169.0,1093.0 1170.0,1093.6 1171.0,1093.1 1172.0,1093.3 1173.0,1093.3 1174.0,1093.5 1175.0,1093.4 1176.0,1093.7 1177.0,1093.9 1178.0,1093.8 1179.0,1093.8 1180.0,1094.2 1181.0,1093.8 1182.0,1094.2 1183.0,1094.1 1184.0,1094.2 1185.0,1094.2 1186.0,1094.3 1187.0,1094.3 1188.0,1094.3 1189.0,1094.4 1190.0,1094.6 1191.0,1094.5 1192.0,1094.4 1193.0,1094.5 1194.0,1094.6 1195.0,1094.7 1196.0,1094.8 1197.0,1094.9 1198.0,1094.8 1199.0,1094.9 1200.0,1094.8 1201.0,1094.6 1202.0,1095.0 1203.0,1094.8 1204.0,1095.0 1205.0,1094.9 1206.0,1095.3 1207.0,1095.0 1208.0,1095.3 1209.0,1095.2 1210.0,1095.1 1211.0,1095.0 1212.0,1095.4 1213.0,1095.4 1214.0,1095.5 1215.0,1095.7 1216.0,1095.5 1217.0,1095.5 1218.0,1095.4 1219.0,1095.5 1220.0,1095.5 1221.0,1095.4 1222.0,1095.9 1223.0,1095.3 1224.0,1095.6 1225.0,1095.7 1226.0,1095.7 1227.0,1095.5 1228.0,1095.6 1229.0,1095.6 1230.0,1095.5 1231.0,1095.7 1232.0,1095.7 1233.0,1095.7 1234.0,1095.9 1235.0,1095.6 1236.0,1095.9 1237.0,1095.7 1238.0,1095.9 1239.0,1095.9 1240.0,1095.9 1241.0,1095.8 1242.0,1095.8 1243.0,1095.8 1244.0,1096.0 1245.0,1096.1 1246.0,1096.2 1247.0,1095.9 1248.0,1096.0 1249.0,1095.8 1250.0,1095.7 1251.0,1095.9 1252.0,1096.0 1253.0,1095.9 1254.0,1095.8 1255.0,1096.2 1256.0,1096.0 1257.0,1095.9 1258.0,1096.5 1259.0,1096.2 1260.0,1096.2 1261.0,1096.3 1262.0,1096.1 1263.0,1096.5 1264.0,1096.0 1265.0,1096.1 1266.0,1096.3 1267.0,1096.2 1268.0,1096.5 1269.0,1096.1 1270.0,1096.2 1271.0,1096.4 1272.0,1096.5 1273.0,1096.5 1274.0,1096.4 1275.0,1096.8 1276.0,1096.3 1277.0,1096.5 1278.0,1096.6 1279.0,1096.4 1280.0,1096.4 1281.0,1096.4 1282.0,1096.4 1283.0,1096.3 1284.0,1096.4 1285.0,1096.3 1286.0,1096.6 1287.0,1096.3 1288.0,1096.9 1289.0,1096.8 1290.0,1096.8 1291.0,1096.6 1292.0,1096.5 1293.0,1096.8 1294.0,1096.7 1295.0,1096.7 1296.0,1096.5 1297.0,1096.8 1298.0,1096.5 1299.0,1096.7 1300.0,1096.4 1301.0,1096.6 1302.0,1096.8 1303.0,1096.7 1304.0,1096.7 1305.0,1096.9 1306.0,1096.7 1307.0,1097.0 1308.0,1096.4 1309.0,1096.9 1310.0,1096.9 1311.0,1096.6 1312.0,1096.6 1313.0,1097.0 1314.0,1096.7 1315.0,1096.8 1316.0,1097.0 1317.0,1096.8 1318.0,1097.0 1319.0,1096.8 1320.0,1097.0 1321.0,1097.1 1322.0,1097.0 1323.0,1096.6 1324.0,1097.1 1325.0,1097.0 1326.0,1096.8 1327.0,1097.2 1328.0,1096.7 1329.0,1097.3 1330.0,1096.9 1331.0,1097.3 1332.0,1097.0 1333.0,1096.8 1334.0,1097.1 1335.0,1097.1 1336.0,1097.2 1337.0,1097.2 1338.0,1096.9 1339.0,1097.2 1340.0,1097.2 1341.0,1097.1 1342.0,1097.0 1343.0,1097.0 1344.0,1097.3 1345.0,1097.3 1346.0,1097.0 1347.0,1097.0 1348.0,1097.4 1349.0,1096.9 1350.0,1097.2 1351.0,1097.1 1352.0,1096.9 1353.0,1097.2 1354.0,1097.2 1355.0,1097.5 1356.0,1097.6 1357.0,1097.2 1358.0,1097.4 1359.0,1097.4 1360.0,1097.2 1361.0,1097.2 1362.0,1097.6 1363.0,1097.3 1364.0,1097.3 1365.0,1097.3 1366.0,1097.3 1367.0,1097.3 1368.0,1097.5 1369.0,1097.6 1370.0,1097.3 1371.0,1097.2 1372.0,1097.4 1373.0,1097.2 1374.0,1097.3 1375.0,1097.6 1376.0,1097.8 1377.0,1097.5 1378.0,1097.3 1379.0,1097.6 1380.0,1097.1 1381.0,1097.4 1382.0,1097.7 1383.0,1097.6 1384.0,1097.3 1385.0,1097.2 1386.0,1097.7 1387.0,1097.5 1388.0,1097.4 1389.0,1097.6 1390.0,1097.5 1391.0,1097.3 1392.0,1097.7 1393.0,1097.5 1394.0,1097.4 1395.0,1097.4 1396.0,1097.6 1397.0,1097.5 1398.0,1097.7 1399.0,1097.6 1400.0,1097.8 1401.0,1097.6 1402.0,1097.5 1403.0,1097.3 1404.0,1097.5 1405.0,1097.8 1406.0,1098.2 1407.0,1097.5 1408.0,1097.5 1409.0,1097.7 1410.0,1097.8 1411.0,1097.6 1412.0,1097.7 1413.0,1097.5 1414.0,1097.7 1415.0,1097.9 1416.0,1098.0 1417.0,1097.7 1418.0,1097.7 1419.0,1097.8 1420.0,1097.9 1421.0,1097.8 1422.0,1097.6 1423.0,1097.8 1424.0,1097.9 1425.0,1097.7 1426.0,1097.6 1427.0,1097.9 1428.0,1097.9 1429.0,1098.0 1430.0,1097.8 1431.0,1097.7 1432.0,1097.8 1433.0,1097.7 1434.0,1097.7 1435.0,1097.7 1436.0,1097.8 1437.0,1098.0 1438.0,1097.7 1439.0,1097.9 1440.0,1097.8 1441.0,1098.1 1442.0,1097.9 1443.0,1097.8 1444.0,1098.0 1445.0,1097.9 1446.0,1097.8 1447.0,1098.1 1448.0,1098.0 1449.0,1098.2 1450.0,1098.1 1451.0,1098.0 1452.0,1098.0 1453.0,1097.8 1454.0,1098.1 1455.0,1098.0 1456.0,1098.1 1457.0,1098.0 1458.0,1097.9 1459.0,1097.8 1460.0,1098.1 1461.0,1098.2 1462.0,1097.9 1463.0,1098.1 1464.0,1098.2 1465.0,1097.9 1466.0,1098.0 1467.0,1097.8 1468.0,1098.2 1469.0,1098.1 1470.0,1098.0 1471.0,1097.8 1472.0,1098.0 1473.0,1098.2 1474.0,1098.0 1475.0,1098.0 1476.0,1098.2 1477.0,1097.9 1478.0,1098.1 1479.0,1098.2 1480.0,1098.0 1481.0,1098.0 1482.0,1098.1 1483.0,1098.1 1484.0,1098.1 1485.0,1098.1 1486.0,1098.2 1487.0,1098.0 1488.0,1098.0 1489.0,1098.2 1490.0,1098.3 1491.0,1098.4 1492.0,1098.0 1493.0,1098.3 1494.0,1098.3 1495.0,1098.2 1496.0,1098.2 1497.0,1098.3 1498.0,1098.5 1499.0,1098.0 1500.0,1098.3 1501.0,1098.2 1502.0,1098.2 1503.0,1098.4 1504.0,1098.3 1505.0,1098.1 1506.0,1098.2 1507.0,1098.3 1508.0,1098.0 1509.0,1098.4 1510.0,1098.2 1511.0,1098.3 1512.0,1098.3 1513.0,1098.5 1514.0,1098.3 1515.0,1098.2 1516.0,1098.5 1517.0,1098.2 1518.0,1098.2 1519.0,1098.1 1520.0,1098.5 1521.0,1098.3 1522.0,1098.4 1523.0,1098.3 1524.0,1098.3 1525.0,1098.2 1526.0,1098.2 1527.0,1098.4 1528.0,1098.4 1529.0,1098.6 1530.0,1098.2 1531.0,1098.3 1532.0,1098.2 1533.0,1098.6 1534.0,1098.2 1535.0,1098.5 1536.0,1098.6 1537.0,1098.4 1538.0,1098.5 1539.0,1098.1 1540.0,1098.3 1541.0,1098.1 1542.0,1098.4 1543.0,1098.4 1544.0,1098.3 1545.0,1098.6 1546.0,1098.5 1547.0,1098.3 1548.0,1098.4 1549.0,1098.2 1550.0,1098.4 1551.0,1098.8 1552.0,1098.3 1553.0,1098.5 1554.0,1098.4 1555.0,1098.6 1556.0,1098.5 1557.0,1098.4 1558.0,1098.2 1559.0,1098.4 1560.0,1098.7 1561.0,1098.5 1562.0,1098.6 1563.0,1098.4 1564.0,1098.2 1565.0,1098.6 1566.0,1098.6 1567.0,1098.4 1568.0,1098.5 1569.0,1098.6 1570.0,1098.5 1571.0,1098.6 1572.0,1098.5 1573.0,1098.2 1574.0,1098.5 1575.0,1098.5 1576.0,1098.4 1577.0,1098.6 1578.0,1098.5 1579.0,1098.7 1580.0,1098.8 1581.0,1098.6 1582.0,1098.4 1583.0,1098.5 1584.0,1098.8 1585.0,1098.6 1586.0,1098.5 1587.0,1098.6 1588.0,1098.7 1589.0,1098.7 1590.0,1098.7 1591.0,1098.5 1592.0,1098.6 1593.0,1098.6 1594.0,1098.7 1595.0,1098.3 1596.0,1098.6 1597.0,1098.5 1598.0,1098.9 1599.0,1098.9 1600.0,1099.0 1601.0,1098.8 1602.0,1098.6 1603.0,1098.9 1604.0,1098.7 1605.0,1098.8 1606.0,1098.6 1607.0,1098.6 1608.0,1098.8 1609.0,1099.0 1610.0,1098.7 1611.0,1099.1 1612.0,1099.2 1613.0,1098.6 1614.0,1098.8 1615.0,1098.6 1616.0,1098.7 1617.0,1098.7 1618.0,1098.8 1619.0,1098.9 1620.0,1098.9 1621.0,1098.8 1622.0,1098.8 1623.0,1098.8 1624.0,1098.8 1625.0,1098.9 1626.0,1098.8 1627.0,1098.9 1628.0,1098.6 1629.0,1099.0 1630.0,1099.1 1631.0,1098.9 1632.0,1098.6 1633.0,1099.1 1634.0,1098.8 1635.0,1098.4 1636.0,1098.8 1637.0,1099.0 1638.0,1098.9 1639.0,1099.1 1640.0,1099.0 1641.0,1098.9 1642.0,1098.6 1643.0,1098.7 1644.0,1098.9 1645.0,1099.0 1646.0,1098.8 1647.0,1098.8 1648.0,1099.0 1649.0,1098.6 1650.0,1098.6 1651.0,1098.9 1652.0,1099.0 1653.0,1098.9 1654.0,1098.6 1655.0,1099.0 1656.0,1098.8 1657.0,1099.1 1658.0,1099.0 1659.0,1099.0 1660.0,1099.1 1661.0,1098.9 1662.0,1099.1 1663.0,1099.2 1664.0,1099.1 1665.0,1099.2 1666.0,1098.9 1667.0,1099.2 1668.0,1099.1 1669.0,1098.9 1670.0,1099.0 1671.0,1098.9 1672.0,1099.0 1673.0,1099.1 1674.0,1099.2 1675.0,1099.0 1676.0,1099.1 1677.0,1098.8 1678.0,1099.1 1679.0,1099.3 1680.0,1099.2 1681.0,1099.2 1682.0,1099.0 1683.0,1098.9 1684.0,1099.1 1685.0,1098.9 1686.0,1098.9 1687.0,1099.3 1688.0,1099.0 1689.0,1099.4 1690.0,1098.9 1691.0,1099.2 1692.0,1098.9 1693.0,1099.2 1694.0,1099.0 1695.0,1099.2 1696.0,1099.1 1697.0,1099.1 1698.0,1099.2 1699.0,1099.4 1700.0,1099.1 1701.0,1099.3 1702.0,1099.2 1703.0,1099.2 1704.0,1099.5 1705.0,1098.8 1706.0,1099.1 1707.0,1098.9 1708.0,1099.2 1709.0,1099.2 1710.0,1099.8 1711.0,1099.3 1712.0,1099.5 1713.0,1099.4 1714.0,1099.2 1715.0,1099.3 1716.0,1099.5 1717.0,1099.3 1718.0,1099.3 1719.0,1099.3 1720.0,1099.0 1721.0,1099.1 1722.0,1099.3 1723.0,1099.4 1724.0,1099.1 1725.0,1099.2 1726.0,1099.3 1727.0,1099.3 1728.0,1099.4 1729.0,1099.3 1730.0,1099.3 1731.0,1099.1 1732.0,1099.2 1733.0,1099.4 1734.0,1099.1 1735.0,1099.4 1736.0,1099.2 1737.0,1099.2 1738.0,1099.4 1739.0,1099.2 1740.0,1099.2 1741.0,1099.3 1742.0,1099.4 1743.0,1099.8 1744.0,1099.0 1745.0,1099.4 1746.0,1099.3 1747.0,1099.5 1748.0,1099.3 1749.0,1099.0 1750.0,1099.6 1751.0,1099.2 1752.0,1099.4 1753.0,1099.2 1754.0,1099.2 1755.0,1099.3 1756.0,1099.6 1757.0,1099.6 1758.0,1099.3 1759.0,1099.5 1760.0,1099.4 1761.0,1099.5 1762.0,1099.5 1763.0,1099.6 1764.0,1099.4 1765.0,1099.4 1766.0,1099.5 1767.0,1099.5 1768.0,1099.4 1769.0,1099.8 1770.0,1099.4 1771.0,1099.6 1772.0,1099.5 1773.0,1099.7 1774.0,1099.2 1775.0,1099.8 1776.0,1099.5 1777.0,1099.3 1778.0,1099.5 1779.0,1099.9 1780.0,1099.6 1781.0,1099.3 1782.0,1099.5 1783.0,1099.8 1784.0,1099.3 1785.0,1099.5 1786.0,1099.5 1787.0,1099.9 1788.0,1099.5 1789.0,1099.8 1790.0,1099.5 1791.0,1099.5 1792.0,1099.7 1793.0,1099.7 1794.0,1099.3 1795.0,1099.7 1796.0,1099.7 1797.0,1099.5 1798.0,1099.6 1799.0,1099.7 1800.0,1099.5 1801.0,1099.5 1802.0,1099.5 1803.0,1099.6 1804.0,1099.4 1805.0,1099.6 1806.0,1099.4 1807.0,1099.6 1808.0,1099.6 1809.0,1099.5 1810.0,1099.8 1811.0,1100.0 1812.0,1099.9 1813.0,1099.4 1814.0,1099.9 1815.0,1099.7 1816.0,1099.6 1817.0,1099.6 1818.0,1099.7 1819.0,1099.9 1820.0,1099.8 1821.0,1099.6 1822.0,1099.6 1823.0,1099.6 1824.0,1099.8 1825.0,1100.0 1826.0,1099.5 1827.0,1099.7 1828.0,1099.6 1829.0,1099.6 1830.0,1099.8 1831.0,1099.8 1832.0,1099.5 1833.0,1099.5 1834.0,1099.9 1835.0,1099.7 1836.0,1099.8 1837.0,1099.6 1838.0,1099.6 1839.0,1099.8 1840.0,1099.6 1841.0,1099.5 1842.0,1099.7 1843.0,1099.9 1844.0,1099.6 1845.0,1099.9 1846.0,1099.8 1847.0,1099.6 1848.0,1099.7 1849.0,1099.7 1850.0,1099.8 1851.0,1099.8 1852.0,1099.5 1853.0,1099.5 1854.0,1099.9 1855.0,1099.8 1856.0,1099.8 1857.0,1099.8 1858.0,1100.0 1859.0,1099.6 1860.0,1099.9 1861.0,1099.6 1862.0,1099.9 1863.0,1100.0 1864.0,1099.5 1865.0,1099.8 1866.0,1099.7 1867.0,1099.7 1868.0,1099.8 1869.0,1099.6 1870.0,1099.6 1871.0,1099.9 1872.0,1099.9 1873.0,1099.7 1874.0,1099.5 1875.0,1100.1 1876.0,1100.0 1877.0,1099.8 1878.0,1099.6 1879.0,1099.7 1880.0,1099.8 1881.0,1099.6 1882.0,1100.0 1883.0,1099.8 1884.0,1099.9 1885.0,1099.6 1886.0,1099.7 1887.0,1099.7 1888.0,1099.8 1889.0,1099.8 1890.0,1099.8 1891.0,1099.9 1892.0,1099.8 1893.0,1100.0 1894.0,1099.8 1895.0,1099.7 1896.0,1099.8 1897.0,1100.0 1898.0,1099.7 1899.0,1099.8 1900.0,1099.8 1901.0,1099.9 1902.0,1099.9 1903.0,1099.7 1904.0,1099.8 1905.0,1100.0 1906.0,1100.0 1907.0,1100.0 1908.0,1100.0 1909.0,1099.8 1910.0,1099.8 1911.0,1100.0 1912.0,1099.7 1913.0,1099.8 1914.0,1099.6 1915.0,1099.8 1916.0,1099.7 1917.0,1099.7 1918.0,1099.9 1919.0,1099.7 1920.0,1099.8 1921.0,1099.8 1922.0,1099.7 1923.0,1100.1 1924.0,1099.8 1925.0,1099.9 1926.0,1099.7 1927.0,1099.8 1928.0,1099.8 1929.0,1099.8 1930.0,1099.8 1931.0,1099.9 1932.0,1100.1 1933.0,1099.9 1934.0,1099.9 1935.0,1099.8 1936.0,1100.3 1937.0,1100.1 1938.0,1100.0 1939.0,1100.0 1940.0,1099.8 1941.0,1099.9 1942.0,1099.9 1943.0,1099.9 1944.0,1099.7 1945.0,1099.8 1946.0,1100.0 1947.0,1099.9 1948.0,1099.6 1949.0,1099.9 1950.0,1100.1 1951.0,1099.8 1952.0,1099.9 1953.0,1099.7 1954.0,1100.0 1955.0,1099.7 1956.0,1099.7 1957.0,1099.8 1958.0,1100.3 1959.0,1099.8 1960.0,1099.7 1961.0,1100.0 1962.0,1099.9 1963.0,1100.2 1964.0,1099.7 1965.0,1099.6 1966.0,1099.8 1967.0,1100.0 1968.0,1100.0 1969.0,1100.1 1970.0,1099.7 1971.0,1099.8 1972.0,1099.9 1973.0,1100.0 1974.0,1100.0 1975.0,1099.8 1976.0,1099.7 1977.0,1100.0 1978.0,1100.0 1979.0,1100.3 1980.0,1099.9 1981.0,1100.2 1982.0,1099.7 1983.0,1099.8 1984.0,1099.8 1985.0,1099.8 1986.0,1099.8 1987.0,1099.8 1988.0,1099.9 1989.0,1099.8 1990.0,1100.0 1991.0,1099.9 1992.0,1099.9 1993.0,1100.1 1994.0,1099.9 1995.0,1099.9 1996.0,1099.9 1997.0,1099.9 1998.0,1100.0 1999.0,1099.8 2000.0,1100.1 2001.0,1100.1 2002.0,1100.1 2003.0,1099.8 2004.0,1099.6 2005.0,1099.8 2006.0,1099.9 2007.0,1100.0 2008.0,1099.8 2009.0,1099.8 2010.0,1100.1 2011.0,1099.8 2012.0,1100.0 2013.0,1100.0 2014.0,1099.6 2015.0,1099.9 2016.0,1099.8 2017.0,1099.7 2018.0,1099.5 2019.0,1099.6 2020.0,1099.9 2021.0,1099.8 2022.0,1099.9 2023.0,1099.7 2024.0,1099.8 2025.0,1099.8 2026.0,1099.6 2027.0,1099.5 2028.0,1099.9 2029.0,1099.8 2030.0,1099.6 2031.0,1099.8 2032.0,1099.9 2033.0,1100.1 2034.0,1099.6 2035.0,1099.9 2036.0,1100.1 2037.0,1099.8 2038.0,1100.0 2039.0,1099.3 2040.0,1099.9 2041.0,1099.7 2042.0,1099.4 2043.0,1099.8 2044.0,1099.9 2045.0,1099.9 2046.0,1099.9 2047.0,1099.7 2048.0,1099.5 2049.0,1099.6 2050.0,1099.6 2051.0,1099.7 2052.0,1099.5 2053.0,1099.6 2054.0,1099.7 2055.0,1099.6 2056.0,1099.9 2057.0,1099.9 2058.0,1099.3 2059.0,1099.4 2060.0,1099.3 2061.0,1099.3 2062.0,1099.5 2063.0,1099.3 2064.0,1099.3 2065.0,1099.4 2066.0,1099.5 2067.0,1099.3 2068.0,1099.3 2069.0,1099.5 2070.0,1099.4 2071.0,1099.3 2072.0,1099.4 2073.0,1099.0 2074.0,1099.2 2075.0,1099.1 2076.0,1099.3 2077.0,1099.2 2078.0,1098.9 2079.0,1099.2 2080.0,1098.8 2081.0,1099.1 2082.0,1098.9 2083.0,1098.7 2084.0,1098.7 2085.0,1098.7 2086.0,1098.7 2087.0,1098.6 2088.0,1098.7 2089.0,1098.4 2090.0,1098.5 2091.0,1098.5 2092.0,1098.1 2093.0,1098.4 2094.0,1098.1 2095.0,1097.9 2096.0,1098.1 2097.0,1098.1 2098.0,1098.2 2099.0,1097.9 2100.0,1098.2 2101.0,1098.1 2102.0,1097.9 2103.0,1097.9 2104.0,1097.7 2105.0,1097.4 2106.0,1097.6 2107.0,1097.5 2108.0,1097.3 2109.0,1097.1 2110.0,1096.8 2111.0,1097.1 2112.0,1097.0 2113.0,1096.6 2114.0,1096.7 2115.0,1096.7 2116.0,1096.5 2117.0,1096.5 2118.0,1096.4 2119.0,1096.0 2120.0,1096.0 2121.0,1096.1 2122.0,1096.0 2123.0,1096.0 2124.0,1095.4 2125.0,1095.5 2126.0,1095.6 2127.0,1095.5 2128.0,1095.5 2129.0,1095.0 2130.0,1095.0 2131.0,1094.8 2132.0,1095.0 2133.0,1094.6 2134.0,1094.9 2135.0,1094.8 2136.0,1094.6 2137.0,1094.2 2138.0,1094.3 2139.0,1094.5 2140.0,1094.1 2141.0,1094.3 2142.0,1094.3 2143.0,1094.4 2144.0,1094.3 2145.0,1094.3 2146.0,1094.2 2147.0,1094.3 2148.0,1094.3 2149.0,1094.5 2150.0,1094.4 2151.0,1094.6 2152.0,1094.2 2153.0,1094.7 2154.0,1094.6 2155.0,1094.9 2156.0,1094.8 2157.0,1095.0 2158.0,1095.2 2159.0,1094.9 2160.0,1095.1 2161.0,1095.2 2162.0,1095.4 2163.0,1095.2 2164.0,1095.5 2165.0,1095.6 2166.0,1095.6 2167.0,1095.8 2168.0,1095.7 2169.0,1096.3 2170.0,1096.3 2171.0,1096.6 2172.0,1096.3 2173.0,1096.4 2174.0,1096.7 2175.0,1096.5 2176.0,1096.9 2177.0,1096.9 2178.0,1097.0 2179.0,1097.2 2180.0,1097.3 2181.0,1097.7 2182.0,1097.6 2183.0,1097.3 2184.0,1097.8 2185.0,1097.5 2186.0,1097.8 2187.0,1097.7 2188.0,1097.9 2189.0,1098.3 2190.0,1098.1 2191.0,1098.1 2192.0,1098.2 2193.0,1098.3 2194.0,1098.7 2195.0,1098.3 2196.0,1098.4 2197.0,1098.7 2198.0,1098.4 2199.0,1098.7 2200.0,1099.0 2201.0,1098.9 2202.0,1098.9 2203.0,1098.9 2204.0,1098.9 2205.0,1099.0 2206.0,1099.2 2207.0,1099.4 2208.0,1099.4 2209.0,1099.2 2210.0,1099.2 2211.0,1099.5 2212.0,1099.1 2213.0,1099.4 2214.0,1099.4 2215.0,1099.3 2216.0,1099.4 2217.0,1099.6 2218.0,1099.3 2219.0,1099.5 2220.0,1099.6 2221.0,1099.7 2222.0,1099.5 2223.0,1099.9 2224.0,1099.7 2225.0,1099.8 2226.0,1099.8 2227.0,1099.7 2228.0,1099.7 2229.0,1100.1 2230.0,1099.9 2231.0,1099.9 2232.0,1100.1 2233.0,1099.9 2234.0,1100.1 2235.0,1100.0 2236.0,1099.9 2237.0,1100.2 2238.0,1099.8 2239.0,1100.2 2240.0,1100.0 2241.0,1100.2 2242.0,1100.4 2243.0,1100.2 2244.0,1100.1 2245.0,1100.2 2246.0,1100.1 2247.0,1100.0 2248.0,1100.0 2249.0,1100.2 2250.0,1100.3 2251.0,1100.0 2252.0,1100.3 2253.0,1100.4 2254.0,1100.3 2255.0,1100.1 2256.0,1100.5 2257.0,1100.1 2258.0,1100.4 2259.0,1100.6 2260.0,1100.0 2261.0,1100.4 2262.0,1100.4 2263.0,1100.4 2264.0,1100.3 2265.0,1100.4 2266.0,1100.2 2267.0,1100.4 2268.0,1100.5 2269.0,1100.3 2270.0,1100.3 2271.0,1100.4 2272.0,1100.5 2273.0,1100.5 2274.0,1100.5 2275.0,1100.5 2276.0,1100.3 2277.0,1100.1 2278.0,1100.6 2279.0,1100.7 2280.0,1100.3 2281.0,1100.4 2282.0,1100.6 2283.0,1100.7 2284.0,1100.7 2285.0,1100.8 2286.0,1100.6 2287.0,1100.6 2288.0,1100.7 2289.0,1100.5 2290.0,1100.8 2291.0,1100.7 2292.0,1100.8 2293.0,1100.6 2294.0,1100.8 2295.0,1100.5 2296.0,1100.7 2297.0,1100.2 2298.0,1100.5 2299.0,1100.8 2300.0,1100.6 2301.0,1100.7 2302.0,1100.4 2303.0,1100.9 2304.0,1100.8 2305.0,1100.7 2306.0,1100.8 2307.0,1100.8 2308.0,1100.9 2309.0,1100.7 2310.0,1100.5 2311.0,1100.7 2312.0,1100.9 2313.0,1100.8 2314.0,1100.7 2315.0,1100.8 2316.0,1100.8 2317.0,1100.9 2318.0,1100.5 2319.0,1100.6 2320.0,1100.9 2321.0,1100.7 2322.0,1100.8 2323.0,1101.1 2324.0,1100.7 2325.0,1100.8 2326.0,1100.7 2327.0,1100.7 2328.0,1100.8 2329.0,1100.6 2330.0,1100.5 2331.0,1101.0 2332.0,1100.8 2333.0,1101.0 2334.0,1100.9 2335.0,1100.9 2336.0,1101.0 2337.0,1101.0 2338.0,1100.7 2339.0,1101.0 2340.0,1100.7 2341.0,1100.9 2342.0,1101.3 2343.0,1100.9 2344.0,1101.1 2345.0,1100.8 2346.0,1101.0 2347.0,1100.9 2348.0,1101.0 2349.0,1100.8 2350.0,1100.8 2351.0,1101.0 2352.0,1100.7 2353.0,1100.8 2354.0,1101.0 2355.0,1100.8 2356.0,1100.8 2357.0,1100.8 2358.0,1101.0 2359.0,1100.9 2360.0,1101.0 2361.0,1100.9 2362.0,1101.2 2363.0,1100.9 2364.0,1100.7 2365.0,1101.0 2366.0,1101.0 2367.0,1101.0 2368.0,1100.7 2369.0,1101.2 2370.0,1101.0 2371.0,1101.0 2372.0,1100.7 2373.0,1101.1 2374.0,1101.0 2375.0,1101.2 2376.0,1100.9 2377.0,1100.8 2378.0,1101.0 2379.0,1100.9 2380.0,1101.1 2381.0,1100.9 2382.0,1101.0 2383.0,1101.0 2384.0,1101.0 2385.0,1101.0 2386.0,1100.9 2387.0,1101.0 2388.0,1101.0 2389.0,1101.1 2390.0,1101.0 2391.0,1100.7 2392.0,1101.1 2393.0,1101.3 2394.0,1101.1 2395.0,1101.2 2396.0,1101.1 2397.0,1101.0 2398.0,1100.9 2399.0,1101.2 2400.0,1101.3 2401.0,1101.2 2402.0,1101.2 2403.0,1101.2 2404.0,1101.1 2405.0,1101.1 2406.0,1101.1 2407.0,1101.2 2408.0,1101.0 2409.0,1101.0 2410.0,1101.2 2411.0,1101.1 2412.0,1100.8 2412.5,1101.1" fill="none" stroke="#0000ff" stroke-width="6.6" stroke-linejoin="round" stroke-linecap="butt"/>
<path d="M188.0,1337.4 189.0,1338.1 190.0,1337.9 191.0,1337.9 192.0,1337.7 193.0,1337.7 194.0,1337.8 195.0,1337.9 196.0,1337.8 197.0,1338.0 198.0,1338.1 199.0,1338.1 200.0,1337.9 201.0,1337.7 202.0,1338.1 203.0,1338.0 204.0,1338.2 205.0,1338.4 206.0,1338.4 207.0,1338.2 208.0,1338.4 209.0,1338.5 210.0,1338.2 211.0,1338.3 212.0,1338.4 213.0,1338.3 214.0,1338.3 215.0,1338.2 216.0,1338.4 217.0,1338.3 218.0,1338.5 219.0,1338.4 220.0,1338.7 221.0,1338.7 222.0,1338.3 223.0,1338.7 224.0,1338.5 225.0,1338.8 226.0,1338.7 227.0,1338.6 228.0,1338.7 229.0,1338.6 230.0,1338.7 231.0,1338.8 232.0,1338.7 233.0,1338.8 234.0,1338.6 235.0,1338.9 236.0,1338.6 237.0,1338.9 238.0,1338.9 239.0,1339.0 240.0,1338.8 241.0,1339.4 242.0,1338.9 243.0,1339.0 244.0,1338.9 245.0,1339.2 246.0,1339.0 247.0,1339.2 248.0,1339.0 249.0,1339.2 250.0,1339.1 251.0,1339.3 252.0,1339.1 253.0,1339.1 254.0,1339.3 255.0,1339.1 256.0,1339.1 257.0,1339.4 258.0,1339.0 259.0,1339.5 260.0,1339.3 261.0,1339.2 262.0,1339.4 263.0,1339.5 264.0,1339.4 265.0,1339.5 266.0,1339.6 267.0,1339.6 268.0,1339.5 269.0,1339.5 270.0,1339.4 271.0,1339.5 272.0,1339.7 273.0,1339.7 274.0,1339.7 275.0,1339.9 276.0,1339.7 277.0,1339.7 278.0,1339.7 279.0,1340.1 280.0,1339.5 281.0,1339.9 282.0,1339.9 283.0,1339.9 284.0,1340.3 285.0,1340.1 286.0,1340.1 287.0,1339.8 288.0,1340.1 289.0,1340.0 290.0,1340.0 291.0,1340.1 292.0,1340.0 293.0,1340.2 294.0,1340.4 295.0,1340.3 296.0,1340.2 297.0,1339.9 298.0,1340.4 299.0,1340.4 300.0,1340.2 301.0,1340.2 302.0,1340.4 303.0,1340.2 304.0,1340.5 305.0,1340.2 306.0,1340.3 307.0,1340.4 308.0,1340.2 309.0,1340.5 310.0,1340.6 311.0,1340.3 312.0,1340.7 313.0,1340.5 314.0,1340.7 315.0,1340.6 316.0,1340.6 317.0,1340.6 318.0,1340.4 319.0,1340.6 320.0,1340.6 321.0,1341.0 322.0,1340.9 323.0,1340.6 324.0,1340.9 325.0,1340.9 326.0,1340.8 327.0,1340.9 328.0,1341.0 329.0,1340.8 330.0,1340.9 331.0,1341.0 332.0,1340.8 333.0,1341.0 334.0,1341.0 335.0,1340.9 336.0,1340.9 337.0,1341.1 338.0,1341.2 339.0,1341.2 340.0,1341.0 341.0,1341.3 342.0,1341.2 343.0,1341.3 344.0,1341.4 345.0,1341.1 346.0,1341.3 347.0,1341.2 348.0,1341.2 349.0,1341.6 350.0,1341.5 351.0,1341.1 352.0,1341.5 353.0,1341.3 354.0,1341.6 355.0,1341.5 356.0,1341.5 357.0,1341.5 358.0,1341.6 359.0,1341.6 360.0,1341.6 361.0,1341.6 362.0,1341.7 363.0,1341.5 364.0,1341.7 365.0,1341.7 366.0,1341.6 367.0,1341.8 368.0,1341.6 369.0,1341.7 370.0,1341.7 371.0,1341.9 372.0,1341.8 373.0,1341.9 374.0,1341.9 375.0,1341.7 376.0,1342.0 377.0,1341.8 378.0,1341.9 379.0,1342.0 380.0,1342.1 381.0,1342.1 382.0,1342.3 383.0,1342.1 384.0,1342.0 385.0,1342.1 386.0,1342.2 387.0,1342.4 388.0,1342.2 389.0,1342.1 390.0,1342.3 391.0,1342.3 392.0,1342.3 393.0,1342.2 394.0,1341.9 395.0,1342.3 396.0,1342.5 397.0,1342.4 398.0,1342.1 399.0,1342.4 400.0,1342.2 401.0,1342.8 402.0,1342.5 403.0,1342.3 404.0,1342.7 405.0,1342.4 406.0,1342.7 407.0,1342.6 408.0,1342.4 409.0,1342.7 410.0,1342.5 411.0,1342.9 412.0,1342.7 413.0,1342.6 414.0,1342.5 415.0,1343.0 416.0,1343.0 417.0,1342.6 418.0,1343.1 419.0,1342.9 420.0,1342.8 421.0,1342.9 422.0,1342.9 423.0,1343.1 424.0,1343.0 425.0,1342.7 426.0,1343.3 427.0,1343.1 428.0,1342.9 429.0,1343.0 430.0,1342.9 431.0,1343.1 432.0,1343.2 433.0,1343.2 434.0,1343.1 435.0,1343.1 436.0,1343.3 437.0,1343.2 438.0,1343.6 439.0,1343.1 440.0,1343.4 441.0,1343.3 442.0,1343.2 443.0,1343.6 444.0,1343.4 445.0,1343.3 446.0,1343.4 447.0,1343.6 448.0,1343.3 449.0,1343.7 450.0,1343.6 451.0,1343.5 452.0,1343.7 453.0,1343.8 454.0,1343.7 455.0,1343.6 456.0,1343.9 457.0,1343.9 458.0,1343.5 459.0,1343.6 460.0,1343.7 461.0,1343.7 462.0,1343.5 463.0,1343.9 464.0,1343.8 465.0,1343.8 466.0,1344.0 467.0,1343.8 468.0,1343.9 469.0,1343.9 470.0,1343.8 471.0,1343.9 472.0,1344.1 473.0,1344.0 474.0,1344.2 475.0,1343.9 476.0,1344.1 477.0,1343.8 478.0,1344.1 479.0,1344.0 480.0,1344.3 481.0,1344.2 482.0,1344.2 483.0,1344.5 484.0,1344.4 485.0,1344.3 486.0,1344.1 487.0,1344.0 488.0,1344.3 489.0,1344.2 490.0,1344.2 491.0,1344.3 492.0,1344.1 493.0,1344.6 494.0,1344.2 495.0,1344.3 496.0,1344.5 497.0,1344.2 498.0,1344.6 499.0,1344.6 500.0,1344.5 501.0,1344.4 502.0,1344.5 503.0,1344.3 504.0,1344.8 505.0,1344.6 506.0,1344.5 507.0,1344.5 508.0,1344.8 509.0,1344.9 510.0,1344.5 511.0,1344.7 512.0,1344.5 513.0,1344.9 514.0,1344.8 515.0,1345.2 516.0,1344.8 517.0,1344.8 518.0,1344.8 519.0,1345.0 520.0,1344.7 521.0,1345.0 522.0,1345.0 523.0,1344.9 524.0,1344.9 525.0,1345.2 526.0,1345.3 527.0,1345.0 528.0,1345.1 529.0,1345.3 530.0,1345.0 531.0,1345.1 532.0,1345.0 533.0,1345.1 534.0,1345.2 535.0,1345.1 536.0,1345.1 537.0,1345.0 538.0,1345.0 539.0,1345.1 540.0,1345.4 541.0,1345.2 542.0,1345.2 543.0,1345.4 544.0,1345.4 545.0,1345.3 546.0,1345.3 547.0,1345.5 548.0,1345.5 549.0,1345.3 550.0,1345.5 551.0,1345.5 552.0,1345.7 553.0,1345.4 554.0,1345.7 555.0,1345.6 556.0,1345.4 557.0,1345.7 558.0,1345.7 559.0,1345.4 560.0,1345.9 561.0,1345.5 562.0,1345.5 563.0,1345.6 564.0,1345.8 565.0,1345.8 566.0,1345.7 567.0,1345.9 568.0,1345.8 569.0,1346.0 570.0,1346.2 571.0,1345.8 572.0,1345.4 573.0,1345.8 574.0,1345.7 575.0,1345.9 576.0,1345.9 577.0,1345.7 578.0,1345.7 579.0,1345.9 580.0,1345.9 581.0,1345.5 582.0,1346.1 583.0,1346.0 584.0,1346.0 585.0,1346.0 586.0,1345.8 587.0,1346.0 588.0,1346.2 589.0,1346.2 590.0,1346.1 591.0,1346.0 592.0,1346.0 593.0,1346.3 594.0,1346.2 595.0,1346.0 596.0,1345.8 597.0,1346.0 598.0,1345.8 599.0,1346.4 600.0,1346.2 601.0,1346.1 602.0,1346.1 603.0,1346.6 604.0,1346.4 605.0,1346.0 606.0,1346.2 607.0,1346.1 608.0,1346.0 609.0,1346.3 610.0,1346.6 611.0,1346.5 612.0,1346.3 613.0,1346.2 614.0,1346.3 615.0,1346.5 616.0,1346.1 617.0,1346.0 618.0,1346.6 619.0,1346.4 620.0,1346.6 621.0,1346.4 622.0,1346.6 623.0,1346.3 624.0,1346.5 625.0,1346.6 626.0,1346.5 627.0,1346.3 628.0,1346.5 629.0,1346.3 630.0,1346.2 631.0,1346.5 632.0,1346.6 633.0,1346.5 634.0,1346.2 635.0,1346.6 636.0,1346.5 637.0,1346.4 638.0,1346.0 639.0,1346.6 640.0,1346.6 641.0,1346.5 642.0,1346.2 643.0,1346.2 644.0,1346.6 645.0,1346.6 646.0,1346.5 647.0,1346.4 648.0,1346.5 649.0,1346.3 650.0,1346.4 651.0,1346.3 652.0,1346.4 653.0,1346.3 654.0,1346.6 655.0,1346.5 656.0,1346.3 657.0,1346.7 658.0,1346.2 659.0,1346.4 660.0,1346.5 661.0,1346.5 662.0,1346.0 663.0,1346.5 664.0,1346.5 665.0,1346.5 666.0,1345.9 667.0,1346.1 668.0,1346.2 669.0,1346.1 670.0,1346.3 671.0,1346.0 672.0,1346.3 673.0,1346.1 674.0,1345.8 675.0,1345.8 676.0,1345.9 677.0,1345.9 678.0,1346.0 679.0,1345.8 680.0,1346.0 681.0,1345.5 682.0,1345.2 683.0,1345.6 684.0,1345.7 685.0,1345.6 686.0,1345.4 687.0,1345.6 688.0,1345.8 689.0,1345.4 690.0,1345.3 691.0,1345.2 692.0,1345.6 693.0,1345.3 694.0,1345.3 695.0,1345.4 696.0,1345.3 697.0,1344.9 698.0,1345.2 699.0,1345.1 700.0,1345.0 701.0,1345.0 702.0,1344.7 703.0,1344.7 704.0,1344.5 705.0,1344.7 706.0,1344.4 707.0,1344.5 708.0,1344.2 709.0,1344.3 710.0,1344.1 711.0,1344.1 712.0,1344.1 713.0,1343.9 714.0,1343.8 715.0,1343.4 716.0,1343.8 717.0,1343.5 718.0,1343.4 718.5,1343.3 719.0,1343.5 719.0,1343.2 719.5,1343.4 720.0,1343.4 720.0,1343.5 720.5,1343.4 721.0,1343.2 721.0,1342.9 721.5,1343.3 722.0,1343.2 722.0,1343.1 722.5,1343.1 723.0,1342.9 723.0,1342.8 723.5,1343.0 724.0,1343.0 724.0,1342.6 724.5,1342.8 725.0,1342.7 725.0,1342.8 725.5,1342.6 726.0,1342.7 726.0,1342.6 726.5,1342.5 727.0,1342.1 727.0,1342.5 727.5,1342.3 728.0,1342.0 728.0,1342.3 728.5,1341.9 729.0,1342.2 729.0,1342.3 729.5,1341.8 730.0,1342.0 730.0,1341.9 730.5,1341.9 731.0,1341.4 731.0,1341.8 731.5,1341.6 732.0,1341.6 732.0,1341.5 732.5,1341.5 733.0,1341.3 733.0,1341.4 733.5,1341.4 734.0,1341.1 734.0,1341.2 734.5,1341.0 735.0,1340.9 735.0,1340.8 735.5,1340.8 736.0,1340.8 736.0,1340.6 736.5,1340.6 737.0,1340.4 737.0,1340.2 737.5,1340.3 738.0,1340.3 738.0,1340.0 738.5,1339.7 739.0,1339.8 739.0,1339.7 739.5,1340.0 740.0,1339.5 740.0,1339.5 740.5,1339.2 741.0,1339.2 741.0,1339.1 741.5,1338.9 742.0,1338.8 742.0,1338.7 742.5,1338.9 743.0,1338.3 743.0,1338.5 743.5,1338.2 744.0,1337.9 744.0,1338.3 744.5,1337.5 745.0,1337.9 745.0,1337.4 745.5,1337.4 746.0,1337.5 746.0,1336.8 746.5,1336.7 747.0,1336.9 747.0,1336.7 747.5,1336.3 748.0,1336.1 748.0,1336.0 748.5,1335.9 749.0,1335.8 749.0,1335.5 749.5,1335.2 750.0,1335.1 750.0,1335.2 750.5,1334.4 751.0,1334.2 751.0,1334.1 751.5,1333.7 752.0,1333.3 752.0,1333.3 752.5,1332.7 753.0,1332.2 753.0,1332.4 753.5,1332.0 754.0,1331.7 754.0,1331.4 754.5,1330.9 755.0,1330.5 755.0,1330.5 755.5,1329.8 756.0,1329.2 756.0,1329.5 756.5,1328.4 757.0,1327.7 757.0,1327.5 757.5,1327.0 758.0,1326.1 758.0,1326.4 758.5,1325.1 759.0,1324.4 759.0,1324.3 759.5,1323.4 760.0,1321.8 760.0,1322.2 760.5,1320.6 761.0,1319.3 761.0,1319.2 761.5,1317.6 762.0,1316.0 762.0,1315.6 762.5,1314.1 763.0,1312.1 763.0,1311.8 763.5,1309.6 764.0,1307.6 764.0,1307.2 764.5,1304.2 765.0,1301.6 765.0,1301.1 765.5,1297.7 766.0,1294.1 766.0,1294.0 766.5,1290.0 767.0,1285.7 767.0,1285.2 767.5,1280.4 768.0,1275.3 768.0,1274.9 768.5,1269.1 769.0,1263.1 769.0,1262.7 769.5,1256.0 770.0,1248.9 770.0,1248.7 770.5,1240.8 771.0,1232.9 771.0,1232.5 771.5,1223.7 772.0,1215.1 772.0,1214.7 772.5,1205.1 773.0,1195.7 773.0,1195.5 773.5,1185.4 774.0,1175.7 774.0,1175.3 774.5,1165.2 775.0,1156.0 775.0,1155.5 775.5,1146.7 776.0,1138.5 776.0,1138.1 776.5,1130.5 777.0,1124.8 777.0,1124.8 777.5,1120.0 778.0,1117.4 778.0,1117.3 778.5,1116.3 779.0,1117.1 779.0,1116.9 779.5,1119.0 780.0,1122.0 780.0,1122.7 780.5,1126.9 781.0,1132.1 781.0,1132.6 781.5,1138.8 782.0,1145.7 782.0,1146.0 782.5,1153.9 783.0,1161.6 783.0,1162.2 783.5,1170.5 784.0,1178.6 784.0,1179.1 784.5,1187.7 785.0,1195.8 785.0,1196.5 785.5,1204.8 786.0,1212.5 786.0,1212.7 786.5,1220.9 787.0,1227.9 787.0,1228.5 787.5,1235.8 788.0,1242.3 788.0,1242.6 788.5,1249.3 789.0,1255.6 789.0,1255.6 789.5,1261.5 790.0,1266.9 790.0,1267.1 790.5,1272.4 791.0,1276.7 791.0,1276.9 791.5,1282.1 792.0,1285.6 792.0,1285.8 792.5,1289.7 793.0,1293.3 793.0,1293.1 793.5,1296.7 794.0,1299.5 794.0,1299.8 794.5,1302.5 795.0,1304.9 795.0,1305.0 795.5,1307.1 796.0,1309.7 796.0,1309.5 796.5,1311.7 797.0,1313.7 797.0,1313.5 797.5,1315.4 798.0,1316.8 798.0,1317.0 798.5,1318.3 799.0,1319.5 799.0,1319.9 799.5,1320.8 800.0,1321.8 800.0,1322.0 800.5,1323.2 801.0,1323.8 801.0,1324.2 801.5,1325.1 802.0,1326.1 802.0,1325.7 802.5,1326.7 803.0,1327.1 803.0,1327.3 803.5,1328.1 804.0,1328.8 804.0,1328.7 804.5,1329.3 805.0,1329.8 805.0,1329.9 805.5,1330.5 806.0,1331.1 806.0,1331.1 806.5,1331.7 807.0,1332.2 807.0,1331.7 807.5,1332.4 808.0,1332.8 808.0,1332.8 808.5,1333.5 809.0,1333.8 809.0,1333.7 809.5,1334.1 810.0,1334.6 810.0,1334.4 810.5,1334.7 811.0,1335.2 811.0,1335.2 811.5,1335.7 812.0,1335.8 812.0,1335.9 812.5,1336.0 813.0,1336.2 813.0,1336.3 813.5,1336.2 814.0,1336.9 814.0,1337.0 814.5,1337.1 815.0,1337.3 815.0,1337.5 815.5,1337.6 816.0,1338.0 816.0,1338.2 816.5,1338.2 817.0,1338.4 817.0,1338.4 817.5,1338.5 818.0,1338.7 818.0,1338.7 818.5,1339.1 819.0,1338.8 819.0,1339.1 819.5,1339.4 820.0,1339.3 820.0,1339.5 820.5,1339.5 821.0,1339.9 821.0,1339.9 821.5,1340.2 822.0,1340.2 822.0,1340.0 822.5,1340.3 823.0,1340.5 823.0,1340.7 823.5,1340.3 824.0,1340.8 824.0,1340.5 824.5,1341.0 825.0,1341.1 825.0,1341.1 825.5,1341.3 826.0,1341.3 826.0,1341.2 826.5,1341.5 827.0,1341.7 827.0,1341.5 827.5,1341.7 828.0,1341.6 828.0,1342.0 828.5,1341.8 829.0,1341.9 829.0,1341.9 829.5,1342.0 830.0,1342.2 830.0,1342.4 830.5,1342.5 831.0,1342.7 831.0,1342.7 831.5,1342.4 832.0,1342.7 832.0,1342.9 832.5,1343.1 833.0,1342.6 833.0,1342.6 833.5,1343.0 834.0,1343.0 834.0,1342.9 834.5,1343.2 835.0,1343.1 835.0,1342.9 835.5,1343.3 836.0,1343.4 836.0,1343.5 836.5,1343.6 837.0,1343.6 837.0,1343.5 837.5,1343.5 838.0,1343.5 838.0,1343.6 839.0,1344.0 840.0,1344.1 841.0,1344.5 842.0,1344.3 843.0,1344.2 844.0,1344.7 845.0,1344.9 846.0,1344.6 847.0,1344.7 848.0,1345.1 849.0,1345.3 850.0,1345.1 851.0,1345.4 852.0,1345.4 853.0,1345.4 854.0,1345.5 855.0,1345.8 856.0,1345.9 857.0,1345.9 858.0,1345.7 859.0,1346.5 860.0,1346.1 861.0,1346.3 862.0,1346.3 863.0,1346.6 864.0,1346.4 865.0,1346.7 866.0,1346.7 867.0,1347.0 868.0,1346.7 869.0,1346.9 870.0,1347.0 871.0,1347.4 872.0,1347.0 873.0,1347.3 874.0,1347.2 875.0,1347.4 876.0,1347.6 877.0,1347.5 878.0,1347.6 879.0,1347.7 880.0,1347.6 881.0,1347.7 882.0,1347.6 883.0,1347.8 884.0,1347.8 885.0,1347.9 886.0,1348.1 887.0,1348.1 888.0,1348.2 889.0,1348.4 890.0,1347.9 891.0,1348.3 892.0,1348.3 893.0,1348.4 894.0,1348.2 895.0,1348.6 896.0,1348.7 897.0,1348.7 898.0,1348.6 899.0,1348.7 900.0,1348.8 901.0,1349.0 902.0,1348.9 903.0,1348.8 904.0,1348.8 905.0,1348.8 906.0,1348.9 907.0,1348.8 908.0,1349.0 909.0,1348.8 910.0,1348.8 911.0,1349.0 912.0,1348.9 913.0,1348.9 914.0,1348.7 915.0,1349.1 916.0,1349.0 917.0,1349.0 918.0,1349.1 919.0,1349.1 920.0,1349.0 921.0,1349.4 922.0,1349.1 923.0,1349.3 924.0,1349.4 925.0,1349.1 926.0,1349.2 927.0,1349.1 928.0,1349.4 929.0,1349.2 930.0,1349.1 931.0,1349.4 932.0,1349.4 933.0,1349.1 934.0,1349.4 935.0,1349.3 936.0,1349.7 937.0,1349.5 938.0,1349.2 939.0,1349.3 940.0,1349.2 941.0,1349.3 942.0,1349.3 943.0,1349.4 944.0,1349.3 945.0,1349.1 946.0,1349.2 947.0,1349.6 948.0,1349.5 949.0,1349.3 950.0,1349.3 951.0,1349.3 952.0,1349.4 953.0,1349.1 954.0,1349.5 955.0,1349.3 956.0,1349.4 957.0,1349.0 958.0,1349.4 959.0,1349.6 960.0,1349.0 961.0,1349.6 962.0,1349.4 963.0,1349.3 964.0,1349.1 965.0,1349.5 966.0,1349.4 967.0,1349.4 968.0,1349.3 969.0,1349.2 970.0,1349.5 971.0,1349.2 972.0,1349.5 973.0,1349.1 974.0,1349.2 975.0,1349.1 976.0,1349.5 977.0,1349.0 978.0,1349.1 979.0,1349.4 980.0,1349.3 981.0,1349.6 982.0,1349.5 983.0,1349.3 984.0,1349.4 985.0,1349.0 986.0,1349.1 987.0,1349.2 988.0,1349.2 989.0,1349.0 990.0,1349.0 991.0,1349.0 992.0,1349.3 993.0,1349.2 994.0,1349.1 995.0,1349.1 996.0,1349.1 997.0,1349.0 998.0,1349.0 999.0,1348.8 1000.0,1349.1 1001.0,1349.1 1002.0,1349.0 1003.0,1349.0 1004.0,1349.0 1005.0,1349.2 1006.0,1348.9 1007.0,1348.6 1008.0,1348.6 1009.0,1348.9 1010.0,1348.9 1011.0,1348.8 1012.0,1348.8 1013.0,1348.7 1014.0,1348.5 1015.0,1348.6 1016.0,1348.4 1017.0,1348.6 1018.0,1348.4 1019.0,1348.6 1020.0,1348.5 1021.0,1348.2 1022.0,1348.6 1023.0,1348.6 1024.0,1348.2 1025.0,1348.4 1026.0,1348.5 1027.0,1348.3 1028.0,1348.4 1029.0,1348.2 1030.0,1348.3 1031.0,1348.1 1032.0,1348.0 1033.0,1348.0 1034.0,1348.0 1035.0,1347.9 1036.0,1347.7 1037.0,1347.5 1038.0,1347.5 1039.0,1347.4 1040.0,1347.4 1041.0,1347.3 1042.0,1347.2 1043.0,1347.1 1044.0,1347.0 1045.0,1347.1 1046.0,1346.9 1047.0,1346.5 1048.0,1346.5 1049.0,1346.2 1050.0,1346.1 1051.0,1345.9 1052.0,1345.7 1053.0,1345.4 1054.0,1345.1 1055.0,1345.3 1056.0,1345.3 1057.0,1344.7 1058.0,1344.8 1059.0,1344.4 1060.0,1344.3 1061.0,1343.9 1062.0,1343.8 1063.0,1343.6 1064.0,1343.0 1065.0,1343.1 1066.0,1342.8 1067.0,1342.2 1068.0,1342.5 1069.0,1342.1 1070.0,1341.9 1071.0,1341.7 1072.0,1341.3 1073.0,1340.9 1074.0,1340.8 1075.0,1340.5 1076.0,1340.7 1077.0,1340.4 1078.0,1339.9 1079.0,1339.7 1080.0,1339.6 1081.0,1339.5 1082.0,1339.1 1083.0,1338.9 1084.0,1339.3 1085.0,1339.1 1086.0,1338.6 1087.0,1338.5 1088.0,1338.6 1089.0,1338.8 1090.0,1338.9 1091.0,1338.8 1092.0,1338.7 1093.0,1339.1 1094.0,1339.3 1095.0,1339.3 1096.0,1339.4 1097.0,1339.8 1098.0,1339.9 1099.0,1340.0 1100.0,1340.4 1101.0,1340.4 1102.0,1341.0 1103.0,1341.2 1104.0,1341.3 1105.0,1341.8 1106.0,1342.2 1107.0,1342.0 1108.0,1342.6 1109.0,1343.1 1110.0,1342.9 1111.0,1343.4 1112.0,1343.5 1113.0,1344.0 1114.0,1343.9 1115.0,1344.3 1116.0,1344.8 1117.0,1345.1 1118.0,1345.4 1119.0,1345.7 1120.0,1346.1 1121.0,1346.2 1122.0,1346.5 1123.0,1346.4 1124.0,1346.8 1125.0,1347.5 1126.0,1347.6 1127.0,1347.6 1128.0,1347.7 1129.0,1348.0 1130.0,1347.9 1131.0,1348.5 1132.0,1348.3 1133.0,1348.5 1134.0,1349.0 1135.0,1348.5 1136.0,1349.0 1137.0,1348.9 1138.0,1349.2 1139.0,1349.4 1140.0,1349.5 1141.0,1349.7 1142.0,1349.7 1143.0,1349.9 1144.0,1349.8 1145.0,1350.1 1146.0,1350.0 1147.0,1350.4 1148.0,1350.2 1149.0,1350.6 1150.0,1350.5 1151.0,1350.6 1152.0,1351.0 1153.0,1350.9 1154.0,1350.6 1155.0,1351.1 1156.0,1350.6 1157.0,1351.2 1158.0,1351.2 1159.0,1351.1 1160.0,1351.4 1161.0,1351.4 1162.0,1351.8 1163.0,1351.5 1164.0,1351.9 1165.0,1351.9 1166.0,1351.6 1167.0,1351.6 1168.0,1352.0 1169.0,1351.8 1170.0,1351.9 1171.0,1351.9 1172.0,1351.8 1173.0,1352.0 1174.0,1351.9 1175.0,1351.9 1176.0,1352.1 1177.0,1352.5 1178.0,1352.5 1179.0,1352.3 1180.0,1352.4 1181.0,1352.5 1182.0,1352.6 1183.0,1352.5 1184.0,1352.4 1185.0,1352.5 1186.0,1352.8 1187.0,1353.0 1188.0,1352.5 1189.0,1352.4 1190.0,1352.8 1191.0,1352.7 1192.0,1352.8 1193.0,1353.0 1194.0,1352.9 1195.0,1352.7 1196.0,1352.6 1197.0,1352.9 1198.0,1352.8 1199.0,1353.0 1200.0,1352.8 1201.0,1353.0 1202.0,1352.8 1203.0,1353.0 1204.0,1353.0 1205.0,1353.2 1206.0,1353.4 1207.0,1353.1 1208.0,1353.0 1209.0,1353.5 1210.0,1353.3 1211.0,1353.3 1212.0,1353.3 1213.0,1353.5 1214.0,1353.4 1215.0,1353.4 1216.0,1353.4 1217.0,1353.2 1218.0,1353.2 1219.0,1353.3 1220.0,1353.4 1221.0,1353.4 1222.0,1353.4 1223.0,1353.4 1224.0,1353.3 1225.0,1353.2 1226.0,1353.6 1227.0,1353.5 1228.0,1353.3 1229.0,1353.6 1230.0,1353.6 1231.0,1353.5 1232.0,1353.2 1233.0,1353.3 1234.0,1353.4 1235.0,1353.8 1236.0,1353.4 1237.0,1353.5 1238.0,1353.4 1239.0,1353.5 1240.0,1353.7 1241.0,1353.3 1242.0,1353.2 1243.0,1353.8 1244.0,1353.7 1245.0,1353.6 1246.0,1353.8 1247.0,1353.8 1248.0,1353.4 1249.0,1353.7 1250.0,1353.9 1251.0,1353.6 1252.0,1353.7 1253.0,1353.9 1254.0,1353.7 1255.0,1353.6 1256.0,1353.7 1257.0,1353.6 1258.0,1353.9 1259.0,1353.5 1260.0,1354.0 1261.0,1353.6 1262.0,1353.8 1263.0,1353.6 1264.0,1353.8 1265.0,1354.0 1266.0,1354.1 1267.0,1354.1 1268.0,1353.9 1269.0,1353.9 1270.0,1354.0 1271.0,1354.0 1272.0,1353.9 1273.0,1354.1 1274.0,1354.0 1275.0,1354.1 1276.0,1354.0 1277.0,1354.1 1278.0,1353.9 1279.0,1353.9 1280.0,1353.8 1281.0,1354.0 1282.0,1354.0 1283.0,1354.2 1284.0,1353.8 1285.0,1354.6 1286.0,1354.0 1287.0,1354.3 1288.0,1354.2 1289.0,1353.7 1290.0,1354.0 1291.0,1354.3 1292.0,1353.7 1293.0,1354.2 1294.0,1354.0 1295.0,1354.1 1296.0,1354.2 1297.0,1353.8 1298.0,1354.2 1299.0,1354.1 1300.0,1354.0 1301.0,1354.3 1302.0,1354.7 1303.0,1354.2 1304.0,1354.3 1305.0,1354.2 1306.0,1354.1 1307.0,1354.3 1308.0,1354.5 1309.0,1354.3 1310.0,1354.4 1311.0,1354.2 1312.0,1354.7 1313.0,1354.0 1314.0,1354.4 1315.0,1354.4 1316.0,1354.3 1317.0,1354.1 1318.0,1354.1 1319.0,1354.3 1320.0,1354.3 1321.0,1354.1 1322.0,1354.2 1323.0,1354.4 1324.0,1354.5 1325.0,1354.3 1326.0,1354.2 1327.0,1354.2 1328.0,1354.8 1329.0,1354.5 1330.0,1354.4 1331.0,1354.6 1332.0,1354.8 1333.0,1354.6 1334.0,1354.2 1335.0,1354.4 1336.0,1354.4 1337.0,1354.4 1338.0,1354.2 1339.0,1354.4 1340.0,1354.3 1341.0,1354.5 1342.0,1354.5 1343.0,1354.2 1344.0,1354.2 1345.0,1354.4 1346.0,1354.6 1347.0,1354.6 1348.0,1354.5 1349.0,1354.0 1350.0,1354.4 1351.0,1354.4 1352.0,1354.5 1353.0,1354.3 1354.0,1354.5 1355.0,1354.4 1356.0,1355.0 1357.0,1354.7 1358.0,1354.5 1359.0,1354.6 1360.0,1354.6 1361.0,1354.6 1362.0,1354.5 1363.0,1354.6 1364.0,1354.8 1365.0,1354.8 1366.0,1354.7 1367.0,1354.8 1368.0,1354.7 1369.0,1354.5 1370.0,1354.4 1371.0,1354.5 1372.0,1354.7 1373.0,1354.7 1374.0,1354.9 1375.0,1354.6 1376.0,1354.6 1377.0,1354.8 1378.0,1354.9 1379.0,1354.6 1380.0,1354.8 1381.0,1354.9 1382.0,1354.8 1383.0,1354.7 1384.0,1354.4 1385.0,1355.0 1386.0,1354.9 1387.0,1354.8 1388.0,1354.7 1389.0,1354.6 1390.0,1354.8 1391.0,1354.8 1392.0,1355.0 1393.0,1354.6 1394.0,1355.0 1395.0,1354.8 1396.0,1355.0 1397.0,1354.7 1398.0,1354.9 1399.0,1355.0 1400.0,1354.9 1401.0,1354.6 1402.0,1354.8 1403.0,1354.9 1404.0,1354.6 1405.0,1354.6 1406.0,1354.9 1407.0,1354.7 1408.0,1355.0 1409.0,1354.7 1410.0,1354.6 1411.0,1354.7 1412.0,1355.1 1413.0,1354.7 1414.0,1354.9 1415.0,1354.9 1416.0,1354.7 1417.0,1355.1 1418.0,1354.9 1419.0,1355.0 1420.0,1354.6 1421.0,1354.6 1422.0,1354.5 1423.0,1354.9 1424.0,1354.9 1425.0,1355.0 1426.0,1355.1 1427.0,1354.9 1428.0,1354.9 1429.0,1355.0 1430.0,1355.2 1431.0,1354.8 1432.0,1355.0 1433.0,1354.9 1434.0,1354.9 1435.0,1355.1 1436.0,1354.8 1437.0,1354.8 1438.0,1355.0 1439.0,1354.9 1440.0,1354.9 1441.0,1354.9 1442.0,1355.0 1443.0,1354.9 1444.0,1355.1 1445.0,1355.0 1446.0,1355.2 1447.0,1355.2 1448.0,1355.1 1449.0,1354.9 1450.0,1355.0 1451.0,1354.9 1452.0,1355.4 1453.0,1354.9 1454.0,1355.1 1455.0,1355.2 1456.0,1354.8 1457.0,1354.9 1458.0,1354.9 1459.0,1354.8 1460.0,1354.8 1461.0,1354.9 1462.0,1355.2 1463.0,1355.1 1464.0,1355.0 1465.0,1355.0 1466.0,1354.7 1467.0,1355.1 1468.0,1355.1 1469.0,1354.8 1470.0,1355.1 1471.0,1355.0 1472.0,1354.9 1473.0,1354.9 1474.0,1354.9 1475.0,1354.9 1476.0,1355.1 1477.0,1355.1 1478.0,1355.1 1479.0,1355.0 1480.0,1355.0 1481.0,1355.4 1482.0,1354.8 1483.0,1355.2 1484.0,1355.1 1485.0,1355.1 1486.0,1355.0 1487.0,1355.0 1488.0,1354.9 1489.0,1354.8 1490.0,1355.1 1491.0,1354.8 1492.0,1355.2 1493.0,1355.3 1494.0,1354.5 1495.0,1354.8 1496.0,1355.1 1497.0,1355.1 1498.0,1355.1 1499.0,1355.2 1500.0,1355.2 1501.0,1355.2 1502.0,1355.4 1503.0,1355.1 1504.0,1355.2 1505.0,1354.8 1506.0,1355.1 1507.0,1354.9 1508.0,1355.3 1509.0,1355.5 1510.0,1355.2 1511.0,1354.9 1512.0,1355.1 1513.0,1355.1 1514.0,1355.2 1515.0,1355.3 1516.0,1355.3 1517.0,1354.7 1518.0,1355.4 1519.0,1355.1 1520.0,1355.0 1521.0,1355.4 1522.0,1355.1 1523.0,1354.9 1524.0,1354.9 1525.0,1355.2 1526.0,1355.3 1527.0,1355.4 1528.0,1355.1 1529.0,1355.1 1530.0,1355.4 1531.0,1355.1 1532.0,1355.4 1533.0,1355.2 1534.0,1355.2 1535.0,1355.1 1536.0,1355.2 1537.0,1355.1 1538.0,1355.1 1539.0,1355.2 1540.0,1355.1 1541.0,1355.2 1542.0,1355.2 1543.0,1355.1 1544.0,1355.2 1545.0,1355.2 1546.0,1355.5 1547.0,1355.2 1548.0,1355.1 1549.0,1355.2 1550.0,1355.3 1551.0,1355.2 1552.0,1355.2 1553.0,1355.2 1554.0,1355.2 1555.0,1355.3 1556.0,1355.3 1557.0,1355.0 1558.0,1355.0 1559.0,1354.8 1560.0,1355.3 1561.0,1355.4 1562.0,1355.4 1563.0,1355.3 1564.0,1355.4 1565.0,1355.2 1566.0,1355.2 1567.0,1355.0 1568.0,1355.1 1569.0,1355.1 1570.0,1355.4 1571.0,1355.5 1572.0,1355.2 1573.0,1355.3 1574.0,1355.3 1575.0,1355.1 1576.0,1355.0 1577.0,1355.1 1578.0,1355.0 1579.0,1355.2 1580.0,1355.2 1581.0,1355.2 1582.0,1355.2 1583.0,1355.3 1584.0,1355.1 1585.0,1355.4 1586.0,1355.0 1587.0,1355.3 1588.0,1355.3 1589.0,1355.2 1590.0,1355.0 1591.0,1355.4 1592.0,1355.2 1593.0,1355.4 1594.0,1355.4 1595.0,1355.3 1596.0,1355.3 1597.0,1355.5 1598.0,1355.4 1599.0,1355.2 1600.0,1355.3 1601.0,1355.4 1602.0,1355.3 1603.0,1355.3 1604.0,1355.3 1605.0,1355.3 1606.0,1355.2 1607.0,1355.1 1608.0,1355.5 1609.0,1355.2 1610.0,1355.4 1611.0,1355.1 1612.0,1355.4 1613.0,1355.2 1614.0,1355.8 1615.0,1355.2 1616.0,1355.2 1617.0,1355.5 1618.0,1355.5 1619.0,1355.0 1620.0,1355.4 1621.0,1355.5 1622.0,1355.2 1623.0,1355.5 1624.0,1355.3 1625.0,1355.2 1626.0,1355.3 1627.0,1355.3 1628.0,1355.1 1629.0,1355.7 1630.0,1355.3 1631.0,1355.2 1632.0,1355.5 1633.0,1355.4 1634.0,1355.6 1635.0,1355.3 1636.0,1355.4 1637.0,1355.4 1638.0,1355.4 1639.0,1355.3 1640.0,1355.4 1641.0,1355.6 1642.0,1355.3 1643.0,1355.3 1644.0,1355.3 1645.0,1355.5 1646.0,1355.5 1647.0,1355.5 1648.0,1355.2 1649.0,1355.4 1650.0,1355.4 1651.0,1355.4 1652.0,1355.4 1653.0,1355.1 1654.0,1355.5 1655.0,1355.4 1656.0,1355.2 1657.0,1355.4 1658.0,1355.7 1659.0,1355.4 1660.0,1355.5 1661.0,1355.4 1662.0,1355.3 1663.0,1355.3 1664.0,1355.4 1665.0,1355.6 1666.0,1355.6 1667.0,1355.3 1668.0,1355.6 1669.0,1355.4 1670.0,1355.3 1671.0,1355.5 1672.0,1355.3 1673.0,1355.2 1674.0,1355.7 1675.0,1355.2 1676.0,1355.5 1677.0,1355.2 1678.0,1355.4 1679.0,1355.4 1680.0,1355.4 1681.0,1355.1 1682.0,1355.4 1683.0,1355.5 1684.0,1355.3 1685.0,1355.5 1686.0,1355.6 1687.0,1355.4 1688.0,1355.5 1689.0,1355.3 1690.0,1355.5 1691.0,1355.6 1692.0,1355.9 1693.0,1355.6 1694.0,1355.6 1695.0,1355.7 1696.0,1355.3 1697.0,1355.7 1698.0,1355.4 1699.0,1355.4 1700.0,1355.7 1701.0,1355.5 1702.0,1355.7 1703.0,1355.3 1704.0,1355.5 1705.0,1355.4 1706.0,1355.5 1707.0,1355.2 1708.0,1355.7 1709.0,1355.5 1710.0,1355.4 1711.0,1355.3 1712.0,1355.4 1713.0,1355.7 1714.0,1355.5 1715.0,1355.5 1716.0,1355.6 1717.0,1355.5 1718.0,1355.6 1719.0,1355.6 1720.0,1355.6 1721.0,1355.7 1722.0,1355.3 1723.0,1355.5 1724.0,1355.5 1725.0,1355.6 1726.0,1355.5 1727.0,1355.4 1728.0,1355.5 1729.0,1355.7 1730.0,1355.5 1731.0,1355.4 1732.0,1355.6 1733.0,1355.7 1734.0,1355.5 1735.0,1355.6 1736.0,1355.4 1737.0,1355.5 1738.0,1355.7 1739.0,1355.7 1740.0,1355.6 1741.0,1355.5 1742.0,1355.3 1743.0,1355.6 1744.0,1355.6 1745.0,1355.7 1746.0,1355.9 1747.0,1355.6 1748.0,1355.7 1749.0,1355.4 1750.0,1355.8 1751.0,1355.7 1752.0,1355.8 1753.0,1355.7 1754.0,1355.7 1755.0,1355.8 1756.0,1355.5 1757.0,1355.7 1758.0,1355.8 1759.0,1355.5 1760.0,1355.4 1761.0,1355.7 1762.0,1355.6 1763.0,1355.7 1764.0,1355.7 1765.0,1355.5 1766.0,1355.7 1767.0,1355.8 1768.0,1355.6 1769.0,1355.6 1770.0,1355.4 1771.0,1355.8 1772.0,1355.9 1773.0,1355.4 1774.0,1355.8 1775.0,1355.8 1776.0,1355.5 1777.0,1355.6 1778.0,1355.5 1779.0,1355.5 1780.0,1355.7 1781.0,1355.7 1782.0,1355.7 1783.0,1355.8 1784.0,1355.7 1785.0,1355.5 1786.0,1355.9 1787.0,1355.8 1788.0,1355.5 1789.0,1355.9 1790.0,1355.7 1791.0,1355.7 1792.0,1356.0 1793.0,1355.3 1794.0,1355.4 1795.0,1355.8 1796.0,1355.6 1797.0,1355.5 1798.0,1355.9 1799.0,1355.8 1800.0,1355.5 1801.0,1355.6 1802.0,1355.8 1803.0,1356.0 1804.0,1355.4 1805.0,1355.7 1806.0,1355.6 1807.0,1355.4 1808.0,1355.6 1809.0,1355.4 1810.0,1355.6 1811.0,1355.9 1812.0,1355.7 1813.0,1355.8 1814.0,1355.7 1815.0,1355.7 1816.0,1355.8 1817.0,1355.5 1818.0,1355.6 1819.0,1355.8 1820.0,1355.5 1821.0,1355.6 1822.0,1355.8 1823.0,1355.9 1824.0,1355.5 1825.0,1355.5 1826.0,1355.7 1827.0,1355.7 1828.0,1355.5 1829.0,1355.7 1830.0,1355.7 1831.0,1355.6 1832.0,1356.1 1833.0,1355.8 1834.0,1355.7 1835.0,1355.8 1836.0,1356.1 1837.0,1355.8 1838.0,1355.5 1839.0,1355.7 1840.0,1355.6 1841.0,1355.5 1842.0,1355.6 1843.0,1355.6 1844.0,1355.6 1845.0,1355.5 1846.0,1355.7 1847.0,1355.3 1848.0,1355.7 1849.0,1355.6 1850.0,1355.6 1851.0,1355.2 1852.0,1355.8 1853.0,1355.3 1854.0,1355.4 1855.0,1355.7 1856.0,1355.5 1857.0,1355.5 1858.0,1355.2 1859.0,1355.5 1860.0,1355.6 1861.0,1355.7 1862.0,1355.5 1863.0,1355.6 1864.0,1355.6 1865.0,1355.4 1866.0,1355.4 1867.0,1355.8 1868.0,1355.4 1869.0,1355.7 1870.0,1355.5 1871.0,1355.8 1872.0,1355.4 1873.0,1355.6 1874.0,1355.6 1875.0,1355.5 1876.0,1355.6 1877.0,1355.4 1878.0,1355.5 1879.0,1355.5 1880.0,1355.6 1881.0,1355.5 1882.0,1355.3 1883.0,1355.4 1884.0,1355.5 1885.0,1355.4 1886.0,1355.7 1887.0,1355.6 1888.0,1355.6 1889.0,1355.4 1890.0,1355.4 1891.0,1355.6 1892.0,1355.3 1893.0,1355.5 1894.0,1355.5 1895.0,1355.4 1896.0,1355.5 1897.0,1355.3 1898.0,1355.5 1899.0,1355.3 1900.0,1355.3 1901.0,1355.7 1902.0,1355.4 1903.0,1355.1 1904.0,1355.6 1905.0,1355.3 1906.0,1354.9 1907.0,1355.4 1908.0,1355.6 1909.0,1355.5 1910.0,1355.7 1911.0,1355.4 1912.0,1355.5 1913.0,1355.3 1914.0,1355.5 1915.0,1355.7 1916.0,1355.5 1917.0,1355.5 1918.0,1355.1 1919.0,1355.4 1920.0,1355.2 1921.0,1355.5 1922.0,1355.3 1923.0,1355.5 1924.0,1355.2 1925.0,1355.7 1926.0,1355.2 1927.0,1355.4 1928.0,1355.8 1929.0,1355.4 1930.0,1355.3 1931.0,1355.5 1932.0,1355.5 1933.0,1355.5 1934.0,1355.1 1935.0,1355.4 1936.0,1355.0 1937.0,1355.7 1938.0,1355.4 1939.0,1355.3 1940.0,1355.5 1941.0,1355.4 1942.0,1355.2 1943.0,1355.6 1944.0,1355.3 1945.0,1355.1 1946.0,1355.6 1947.0,1355.6 1948.0,1355.5 1949.0,1355.4 1950.0,1355.2 1951.0,1355.5 1952.0,1355.6 1953.0,1355.5 1954.0,1355.6 1955.0,1355.2 1956.0,1355.5 1957.0,1355.5 1958.0,1355.1 1959.0,1355.0 1960.0,1355.2 1961.0,1355.3 1962.0,1355.4 1963.0,1355.3 1964.0,1355.3 1965.0,1355.3 1966.0,1355.3 1967.0,1355.4 1968.0,1355.4 1969.0,1355.3 1970.0,1355.3 1971.0,1355.2 1972.0,1355.4 1973.0,1355.2 1974.0,1355.5 1975.0,1355.2 1976.0,1355.3 1977.0,1355.1 1978.0,1355.2 1979.0,1355.3 1980.0,1355.2 1981.0,1355.1 1982.0,1355.0 1983.0,1355.2 1984.0,1355.2 1985.0,1355.3 1986.0,1355.4 1987.0,1355.2 1988.0,1354.9 1989.0,1355.2 1990.0,1354.9 1991.0,1355.0 1992.0,1355.4 1993.0,1355.3 1994.0,1355.1 1995.0,1355.1 1996.0,1355.2 1997.0,1354.9 1998.0,1355.2 1999.0,1355.1 2000.0,1355.4 2001.0,1355.0 2002.0,1355.3 2003.0,1355.0 2004.0,1355.3 2005.0,1355.0 2006.0,1355.2 2007.0,1355.0 2008.0,1355.0 2009.0,1355.1 2010.0,1355.2 2011.0,1355.2 2012.0,1355.3 2013.0,1355.2 2014.0,1354.7 2015.0,1355.0 2016.0,1354.8 2017.0,1355.0 2018.0,1355.2 2019.0,1354.8 2020.0,1354.9 2021.0,1355.1 2022.0,1355.0 2023.0,1355.3 2024.0,1355.1 2025.0,1355.1 2026.0,1355.3 2027.0,1354.9 2028.0,1355.0 2029.0,1354.8 2030.0,1355.0 2031.0,1355.1 2032.0,1355.2 2033.0,1355.0 2034.0,1354.8 2035.0,1354.8 2036.0,1354.7 2037.0,1354.9 2038.0,1355.1 2039.0,1354.5 2040.0,1354.6 2041.0,1355.1 2042.0,1354.6 2043.0,1354.9 2044.0,1354.7 2045.0,1355.0 2046.0,1355.0 2047.0,1354.9 2048.0,1355.0 2049.0,1354.8 2050.0,1354.9 2051.0,1355.1 2052.0,1355.0 2053.0,1354.7 2054.0,1354.6 2055.0,1354.7 2056.0,1354.7 2057.0,1354.7 2058.0,1354.6 2059.0,1354.8 2060.0,1354.7 2061.0,1354.7 2062.0,1354.6 2063.0,1354.7 2064.0,1354.4 2065.0,1354.8 2066.0,1354.6 2067.0,1354.6 2068.0,1354.6 2069.0,1354.7 2070.0,1354.6 2071.0,1354.5 2072.0,1354.4 2073.0,1354.2 2074.0,1354.4 2075.0,1354.3 2076.0,1354.3 2077.0,1354.7 2078.0,1354.0 2079.0,1354.3 2080.0,1354.4 2081.0,1354.4 2082.0,1354.4 2083.0,1353.9 2084.0,1353.9 2085.0,1354.2 2086.0,1354.0 2087.0,1354.3 2088.0,1354.0 2089.0,1353.9 2090.0,1353.9 2091.0,1353.8 2092.0,1353.8 2093.0,1353.6 2094.0,1353.6 2095.0,1353.5 2096.0,1353.6 2097.0,1353.3 2098.0,1353.2 2099.0,1353.4 2100.0,1353.3 2101.0,1353.1 2102.0,1353.1 2103.0,1352.9 2104.0,1353.3 2105.0,1352.7 2106.0,1353.1 2107.0,1352.6 2108.0,1352.8 2109.0,1352.6 2110.0,1352.5 2111.0,1352.6 2112.0,1352.5 2113.0,1352.2 2114.0,1352.0 2115.0,1352.4 2116.0,1352.2 2117.0,1351.9 2118.0,1351.7 2119.0,1351.7 2120.0,1351.5 2121.0,1351.6 2122.0,1351.2 2123.0,1351.2 2124.0,1351.0 2125.0,1351.2 2126.0,1351.2 2127.0,1350.8 2128.0,1350.8 2129.0,1350.8 2130.0,1350.5 2131.0,1350.3 2132.0,1350.5 2133.0,1350.4 2134.0,1350.2 2135.0,1350.4 2136.0,1350.1 2137.0,1349.7 2138.0,1350.0 2139.0,1349.9 2140.0,1350.2 2141.0,1349.9 2142.0,1349.9 2143.0,1350.0 2144.0,1350.0 2145.0,1349.7 2146.0,1350.0 2147.0,1350.0 2148.0,1350.3 2149.0,1350.5 2150.0,1350.0 2151.0,1350.1 2152.0,1350.2 2153.0,1350.3 2154.0,1350.4 2155.0,1350.6 2156.0,1350.8 2157.0,1350.5 2158.0,1350.6 2159.0,1350.7 2160.0,1351.2 2161.0,1351.4 2162.0,1351.0 2163.0,1351.1 2164.0,1351.5 2165.0,1351.7 2166.0,1351.8 2167.0,1351.8 2168.0,1352.0 2169.0,1352.0 2170.0,1352.0 2171.0,1352.4 2172.0,1352.2 2173.0,1352.1 2174.0,1352.3 2175.0,1352.2 2176.0,1352.6 2177.0,1352.8 2178.0,1352.5 2179.0,1353.0 2180.0,1353.2 2181.0,1353.0 2182.0,1352.8 2183.0,1352.9 2184.0,1353.1 2185.0,1353.0 2186.0,1353.1 2187.0,1353.3 2188.0,1353.3 2189.0,1353.5 2190.0,1353.3 2191.0,1353.8 2192.0,1353.7 2193.0,1353.8 2194.0,1353.6 2195.0,1354.0 2196.0,1353.7 2197.0,1354.1 2198.0,1354.0 2199.0,1353.7 2200.0,1353.8 2201.0,1354.2 2202.0,1354.1 2203.0,1354.0 2204.0,1354.0 2205.0,1354.1 2206.0,1353.9 2207.0,1354.1 2208.0,1354.0 2209.0,1354.1 2210.0,1354.2 2211.0,1354.0 2212.0,1354.3 2213.0,1354.2 2214.0,1354.4 2215.0,1354.4 2216.0,1354.5 2217.0,1354.4 2218.0,1354.4 2219.0,1354.3 2220.0,1354.4 2221.0,1354.2 2222.0,1354.3 2223.0,1354.5 2224.0,1354.4 2225.0,1354.5 2226.0,1354.2 2227.0,1354.6 2228.0,1354.3 2229.0,1354.5 2230.0,1354.4 2231.0,1354.6 2232.0,1354.4 2233.0,1354.3 2234.0,1354.2 2235.0,1354.4 2236.0,1354.3 2237.0,1354.6 2238.0,1354.7 2239.0,1354.1 2240.0,1354.3 2241.0,1354.6 2242.0,1354.7 2243.0,1354.6 2244.0,1354.6 2245.0,1354.6 2246.0,1354.6 2247.0,1354.8 2248.0,1354.6 2249.0,1354.4 2250.0,1354.5 2251.0,1354.6 2252.0,1354.4 2253.0,1354.5 2254.0,1354.5 2255.0,1354.5 2256.0,1354.7 2257.0,1354.5 2258.0,1354.4 2259.0,1354.5 2260.0,1354.6 2261.0,1354.9 2262.0,1354.6 2263.0,1354.8 2264.0,1354.7 2265.0,1354.3 2266.0,1354.7 2267.0,1354.5 2268.0,1354.4 2269.0,1354.4 2270.0,1354.9 2271.0,1354.4 2272.0,1354.5 2273.0,1354.8 2274.0,1354.7 2275.0,1354.3 2276.0,1354.6 2277.0,1354.5 2278.0,1354.6 2279.0,1354.7 2280.0,1354.5 2281.0,1354.6 2282.0,1354.9 2283.0,1354.3 2284.0,1354.6 2285.0,1354.7 2286.0,1354.4 2287.0,1354.5 2288.0,1354.4 2289.0,1354.7 2290.0,1354.5 2291.0,1354.8 2292.0,1354.8 2293.0,1354.6 2294.0,1354.6 2295.0,1354.7 2296.0,1354.6 2297.0,1354.4 2298.0,1354.8 2299.0,1354.7 2300.0,1354.8 2301.0,1354.4 2302.0,1354.8 2303.0,1355.0 2304.0,1354.7 2305.0,1354.4 2306.0,1354.6 2307.0,1354.6 2308.0,1354.7 2309.0,1354.6 2310.0,1354.7 2311.0,1354.6 2312.0,1354.7 2313.0,1354.5 2314.0,1354.7 2315.0,1354.8 2316.0,1354.6 2317.0,1354.7 2318.0,1354.5 2319.0,1354.6 2320.0,1354.6 2321.0,1354.8 2322.0,1354.5 2323.0,1354.8 2324.0,1354.4 2325.0,1354.6 2326.0,1354.8 2327.0,1354.7 2328.0,1354.5 2329.0,1354.4 2330.0,1354.8 2331.0,1354.4 2332.0,1354.7 2333.0,1354.5 2334.0,1354.6 2335.0,1355.0 2336.0,1354.9 2337.0,1354.8 2338.0,1354.4 2339.0,1354.7 2340.0,1354.6 2341.0,1354.6 2342.0,1354.8 2343.0,1354.3 2344.0,1354.7 2345.0,1354.6 2346.0,1354.5 2347.0,1354.9 2348.0,1354.4 2349.0,1354.6 2350.0,1354.6 2351.0,1354.3 2352.0,1354.4 2353.0,1354.5 2354.0,1354.7 2355.0,1354.8 2356.0,1354.7 2357.0,1354.6 2358.0,1354.3 2359.0,1354.6 2360.0,1354.5 2361.0,1354.8 2362.0,1354.8 2363.0,1355.0 2364.0,1354.7 2365.0,1354.7 2366.0,1354.4 2367.0,1354.6 2368.0,1354.4 2369.0,1354.7 2370.0,1354.4 2371.0,1354.6 2372.0,1354.5 2373.0,1354.5 2374.0,1354.7 2375.0,1354.5 2376.0,1354.6 2377.0,1354.4 2378.0,1354.8 2379.0,1354.5 2380.0,1354.7 2381.0,1354.9 2382.0,1354.2 2383.0,1354.4 2384.0,1354.5 2385.0,1354.8 2386.0,1354.5 2387.0,1354.6 2388.0,1354.5 2389.0,1354.7 2390.0,1354.4 2391.0,1354.7 2392.0,1354.1 2393.0,1354.3 2394.0,1354.9 2395.0,1354.6 2396.0,1354.4 2397.0,1354.9 2398.0,1354.7 2399.0,1354.7 2400.0,1354.5 2401.0,1354.7 2402.0,1354.6 2403.0,1354.3 2404.0,1354.6 2405.0,1354.5 2406.0,1354.8 2407.0,1354.8 2408.0,1354.4 2409.0,1354.4 2410.0,1354.6 2411.0,1354.6 2412.0,1354.5 2412.5,1354.5" fill="none" stroke="#008080" stroke-width="6.6" stroke-linejoin="round" stroke-linecap="butt"/>
<path d="M188.0,1586.1 189.0,1586.1 190.0,1586.2 191.0,1586.1 192.0,1585.9 193.0,1585.8 194.0,1586.2 195.0,1586.1 196.0,1586.1 197.0,1586.1 198.0,1585.9 199.0,1586.1 200.0,1585.8 201.0,1586.2 202.0,1586.1 203.0,1586.6 204.0,1586.4 205.0,1586.3 206.0,1586.4 207.0,1586.5 208.0,1586.3 209.0,1586.4 210.0,1586.4 211.0,1586.9 212.0,1586.5 213.0,1586.2 214.0,1586.7 215.0,1587.0 216.0,1586.4 217.0,1587.2 218.0,1586.6 219.0,1586.8 220.0,1586.6 221.0,1586.6 222.0,1586.5 223.0,1586.5 224.0,1586.4 225.0,1586.9 226.0,1586.6 227.0,1586.9 228.0,1586.9 229.0,1586.7 230.0,1586.9 231.0,1586.9 232.0,1586.8 233.0,1586.9 234.0,1587.0 235.0,1586.8 236.0,1586.8 237.0,1586.9 238.0,1587.0 239.0,1587.3 240.0,1587.3 241.0,1587.1 242.0,1587.3 243.0,1587.2 244.0,1587.3 245.0,1587.2 246.0,1587.3 247.0,1587.2 248.0,1587.2 249.0,1587.6 250.0,1587.1 251.0,1587.3 252.0,1587.2 253.0,1587.5 254.0,1587.7 255.0,1587.3 256.0,1587.0 257.0,1587.5 258.0,1587.6 259.0,1587.2 260.0,1587.5 261.0,1587.5 262.0,1587.2 263.0,1587.7 264.0,1587.7 265.0,1587.6 266.0,1587.4 267.0,1587.5 268.0,1587.6 269.0,1587.8 270.0,1587.5 271.0,1588.0 272.0,1587.8 273.0,1587.4 274.0,1588.1 275.0,1587.8 276.0,1587.7 277.0,1587.9 278.0,1587.6 279.0,1587.9 280.0,1587.5 281.0,1587.8 282.0,1588.2 283.0,1588.2 284.0,1587.9 285.0,1587.9 286.0,1588.2 287.0,1588.1 288.0,1588.1 289.0,1588.2 290.0,1587.9 291.0,1588.3 292.0,1587.8 293.0,1588.4 294.0,1587.9 295.0,1588.1 296.0,1588.1 297.0,1588.4 298.0,1588.4 299.0,1588.4 300.0,1588.4 301.0,1588.4 302.0,1588.4 303.0,1588.1 304.0,1588.0 305.0,1588.1 306.0,1588.5 307.0,1588.4 308.0,1588.5 309.0,1588.6 310.0,1588.5 311.0,1588.4 312.0,1588.3 313.0,1588.3 314.0,1588.8 315.0,1588.8 316.0,1588.4 317.0,1588.6 318.0,1588.8 319.0,1589.0 320.0,1588.6 321.0,1588.8 322.0,1589.0 323.0,1588.5 324.0,1588.7 325.0,1588.8 326.0,1588.8 327.0,1589.2 328.0,1589.1 329.0,1589.0 330.0,1588.8 331.0,1589.1 332.0,1589.1 333.0,1588.9 334.0,1589.0 335.0,1588.8 336.0,1589.1 337.0,1589.2 338.0,1589.3 339.0,1589.2 340.0,1589.3 341.0,1589.1 342.0,1589.1 343.0,1589.4 344.0,1589.3 345.0,1589.1 346.0,1589.4 347.0,1589.4 348.0,1589.4 349.0,1589.4 350.0,1589.3 351.0,1589.5 352.0,1589.7 353.0,1589.5 354.0,1589.3 355.0,1589.5 356.0,1589.3 357.0,1589.6 358.0,1589.5 359.0,1589.7 360.0,1589.6 361.0,1589.8 362.0,1590.0 363.0,1589.6 364.0,1589.5 365.0,1589.8 366.0,1589.7 367.0,1589.7 368.0,1589.6 369.0,1589.9 370.0,1589.8 371.0,1589.4 372.0,1589.8 373.0,1589.9 374.0,1590.1 375.0,1589.8 376.0,1589.8 377.0,1590.1 378.0,1589.8 379.0,1590.0 380.0,1590.1 381.0,1590.1 382.0,1590.0 383.0,1589.9 384.0,1590.2 385.0,1590.0 386.0,1590.0 387.0,1590.5 388.0,1590.3 389.0,1590.0 390.0,1590.1 391.0,1590.2 392.0,1590.1 393.0,1589.9 394.0,1590.4 395.0,1590.4 396.0,1590.4 397.0,1590.3 398.0,1590.4 399.0,1590.5 400.0,1590.2 401.0,1590.4 402.0,1590.3 403.0,1590.6 404.0,1590.5 405.0,1590.3 406.0,1590.4 407.0,1590.8 408.0,1590.4 409.0,1590.6 410.0,1590.5 411.0,1590.8 412.0,1590.6 413.0,1590.6 414.0,1590.5 415.0,1590.7 416.0,1590.9 417.0,1590.8 418.0,1590.5 419.0,1591.0 420.0,1590.8 421.0,1590.6 422.0,1590.9 423.0,1590.8 424.0,1590.8 425.0,1590.8 426.0,1590.9 427.0,1590.9 428.0,1590.7 429.0,1591.1 430.0,1590.9 431.0,1591.2 432.0,1591.1 433.0,1591.2 434.0,1591.1 435.0,1591.3 436.0,1591.1 437.0,1591.0 438.0,1591.2 439.0,1590.7 440.0,1591.1 441.0,1591.2 442.0,1591.2 443.0,1591.5 444.0,1591.4 445.0,1591.3 446.0,1591.2 447.0,1591.5 448.0,1591.2 449.0,1591.3 450.0,1591.5 451.0,1591.5 452.0,1591.8 453.0,1591.4 454.0,1591.2 455.0,1591.6 456.0,1591.7 457.0,1591.5 458.0,1591.8 459.0,1591.9 460.0,1591.5 461.0,1591.5 462.0,1591.4 463.0,1591.7 464.0,1591.8 465.0,1591.8 466.0,1591.5 467.0,1591.6 468.0,1591.5 469.0,1591.5 470.0,1591.6 471.0,1591.5 472.0,1591.8 473.0,1591.9 474.0,1592.0 475.0,1591.9 476.0,1591.8 477.0,1591.9 478.0,1592.0 479.0,1591.9 480.0,1592.0 481.0,1591.9 482.0,1591.9 483.0,1592.0 484.0,1591.9 485.0,1592.2 486.0,1591.8 487.0,1592.2 488.0,1591.9 489.0,1592.4 490.0,1592.3 491.0,1592.1 492.0,1592.1 493.0,1592.0 494.0,1592.2 495.0,1592.3 496.0,1592.7 497.0,1592.1 498.0,1592.5 499.0,1592.2 500.0,1592.4 501.0,1592.5 502.0,1592.5 503.0,1592.5 504.0,1592.4 505.0,1592.5 506.0,1592.5 507.0,1592.7 508.0,1592.3 509.0,1592.4 510.0,1592.3 511.0,1592.4 512.0,1592.5 513.0,1592.8 514.0,1593.0 515.0,1592.9 516.0,1592.5 517.0,1592.7 518.0,1592.5 519.0,1592.8 520.0,1592.9 521.0,1592.8 522.0,1592.9 523.0,1592.8 524.0,1592.5 525.0,1592.5 526.0,1592.8 527.0,1593.0 528.0,1593.1 529.0,1592.8 530.0,1592.9 531.0,1593.0 532.0,1593.1 533.0,1592.9 534.0,1592.8 535.0,1593.2 536.0,1593.1 537.0,1593.1 538.0,1592.8 539.0,1593.1 540.0,1592.8 541.0,1592.8 542.0,1593.1 543.0,1593.1 544.0,1593.2 545.0,1593.4 546.0,1593.2 547.0,1593.5 548.0,1593.1 549.0,1593.4 550.0,1593.0 551.0,1593.3 552.0,1593.2 553.0,1593.3 554.0,1593.4 555.0,1593.0 556.0,1593.4 557.0,1593.2 558.0,1593.4 559.0,1593.5 560.0,1593.3 561.0,1593.4 562.0,1593.2 563.0,1593.5 564.0,1593.4 565.0,1593.6 566.0,1593.3 567.0,1593.7 568.0,1593.4 569.0,1593.7 570.0,1593.5 571.0,1593.7 572.0,1593.6 573.0,1593.7 574.0,1593.6 575.0,1593.8 576.0,1593.7 577.0,1593.8 578.0,1593.9 579.0,1593.6 580.0,1593.9 581.0,1593.7 582.0,1593.5 583.0,1593.8 584.0,1593.7 585.0,1594.0 586.0,1593.7 587.0,1593.8 588.0,1593.8 589.0,1593.5 590.0,1593.9 591.0,1593.7 592.0,1594.1 593.0,1594.1 594.0,1593.9 595.0,1593.6 596.0,1593.9 597.0,1593.9 598.0,1594.0 599.0,1593.9 600.0,1593.7 601.0,1593.9 602.0,1593.8 603.0,1594.2 604.0,1593.8 605.0,1593.9 606.0,1594.0 607.0,1593.8 608.0,1593.9 609.0,1594.0 610.0,1593.9 611.0,1594.0 612.0,1594.2 613.0,1594.1 614.0,1593.8 615.0,1594.0 616.0,1594.2 617.0,1594.0 618.0,1594.1 619.0,1594.1 620.0,1594.2 621.0,1594.1 622.0,1594.1 623.0,1594.0 624.0,1594.2 625.0,1594.0 626.0,1594.4 627.0,1594.1 628.0,1594.1 629.0,1594.2 630.0,1594.1 631.0,1594.1 632.0,1594.1 633.0,1594.0 634.0,1594.0 635.0,1594.0 636.0,1594.3 637.0,1594.0 638.0,1594.1 639.0,1594.0 640.0,1594.2 641.0,1594.4 642.0,1594.0 643.0,1594.2 644.0,1594.1 645.0,1594.1 646.0,1594.2 647.0,1593.9 648.0,1594.2 649.0,1594.1 650.0,1593.9 651.0,1594.3 652.0,1594.2 653.0,1594.2 654.0,1593.8 655.0,1594.0 656.0,1593.9 657.0,1594.1 658.0,1594.2 659.0,1593.7 660.0,1594.0 661.0,1593.9 662.0,1594.1 663.0,1593.8 664.0,1593.6 665.0,1593.7 666.0,1593.6 667.0,1593.6 668.0,1593.7 669.0,1593.5 670.0,1593.6 671.0,1593.3 672.0,1593.9 673.0,1593.6 674.0,1593.5 675.0,1593.1 676.0,1592.9 677.0,1593.1 678.0,1593.1 679.0,1593.5 680.0,1593.3 681.0,1592.9 682.0,1593.2 683.0,1593.1 684.0,1592.8 685.0,1593.0 686.0,1592.8 687.0,1592.5 688.0,1592.4 689.0,1592.5 690.0,1592.6 691.0,1592.1 692.0,1592.0 693.0,1592.3 694.0,1591.7 695.0,1592.3 696.0,1591.9 697.0,1592.0 698.0,1592.0 699.0,1591.4 700.0,1591.4 701.0,1591.8 702.0,1591.3 703.0,1591.2 704.0,1591.1 705.0,1591.2 706.0,1591.1 707.0,1590.8 708.0,1590.6 709.0,1590.5 710.0,1590.4 711.0,1590.4 712.0,1590.1 713.0,1590.2 714.0,1589.6 715.0,1589.7 716.0,1589.7 717.0,1589.5 718.0,1589.1 718.1,1588.9 718.6,1588.8 719.0,1588.8 719.1,1588.9 719.6,1588.7 720.0,1588.4 720.1,1588.5 720.6,1588.6 721.0,1588.6 721.1,1588.2 721.6,1588.3 722.0,1588.0 722.1,1588.2 722.6,1588.7 723.0,1588.1 723.1,1588.0 723.6,1587.8 724.0,1587.6 724.1,1587.5 724.6,1587.7 725.0,1587.5 725.1,1587.8 725.6,1587.2 726.0,1587.4 726.1,1587.5 726.6,1586.9 727.0,1587.2 727.1,1586.8 727.6,1587.0 728.0,1587.1 728.1,1586.8 728.6,1586.7 729.0,1586.4 729.1,1586.6 729.6,1586.6 730.0,1586.2 730.1,1586.2 730.6,1586.1 731.0,1586.1 731.1,1585.7 731.6,1585.8 732.0,1585.5 732.1,1585.7 732.6,1585.6 733.0,1585.4 733.1,1585.5 733.6,1584.9 734.0,1584.9 734.1,1584.8 734.6,1584.8 735.0,1584.6 735.1,1584.5 735.6,1584.2 736.0,1584.2 736.1,1584.1 736.6,1584.1 737.0,1583.8 737.1,1584.0 737.6,1583.6 738.0,1583.1 738.1,1583.4 738.6,1582.9 739.0,1583.2 739.1,1583.2 739.6,1582.7 740.0,1582.6 740.1,1582.3 740.6,1581.9 741.0,1582.0 741.1,1582.0 741.6,1581.5 742.0,1581.6 742.1,1581.6 742.6,1581.4 743.0,1581.3 743.1,1581.1 743.6,1580.7 744.0,1580.5 744.1,1580.5 744.6,1580.0 745.0,1580.1 745.1,1580.0 745.6,1579.5 746.0,1579.2 746.1,1579.9 746.6,1579.0 747.0,1578.8 747.1,1578.9 747.6,1578.4 748.0,1578.0 748.1,1578.0 748.6,1577.4 749.0,1577.3 749.1,1576.9 749.6,1576.8 750.0,1576.5 750.1,1576.1 750.6,1576.2 751.0,1575.4 751.1,1575.7 751.6,1575.0 752.0,1574.8 752.1,1574.5 752.6,1574.6 753.0,1573.9 753.1,1574.0 753.6,1573.3 754.0,1572.9 754.1,1572.7 754.6,1572.1 755.0,1571.8 755.1,1571.6 755.6,1570.9 756.0,1570.3 756.1,1570.3 756.6,1569.9 757.0,1569.2 757.1,1569.2 757.6,1568.4 758.0,1567.7 758.1,1567.6 758.6,1566.9 759.0,1566.4 759.1,1566.3 759.6,1565.7 760.0,1564.7 760.1,1564.4 760.6,1564.0 761.0,1563.2 761.1,1563.0 761.6,1562.6 762.0,1561.7 762.1,1561.4 762.6,1560.5 763.0,1559.5 763.1,1559.5 763.6,1558.2 764.0,1557.3 764.1,1557.2 764.6,1556.4 765.0,1555.5 765.1,1554.9 765.6,1554.1 766.0,1552.9 766.1,1552.9 766.6,1551.4 767.0,1550.6 767.1,1550.2 767.6,1548.9 768.0,1547.9 768.1,1547.6 768.6,1546.2 769.0,1545.0 769.1,1545.2 769.6,1543.5 770.0,1542.2 770.1,1541.9 770.6,1540.4 771.0,1539.7 771.1,1539.7 771.6,1537.9 772.0,1537.1 772.1,1536.6 772.6,1535.8 773.0,1534.7 773.1,1534.5 773.6,1533.5 774.0,1532.7 774.1,1532.4 774.6,1531.2 775.0,1530.4 775.1,1530.2 775.6,1529.4 776.0,1529.4 776.1,1529.0 776.6,1528.5 777.0,1528.2 777.1,1528.5 777.6,1527.8 778.0,1528.1 778.1,1527.9 778.6,1527.9 779.0,1527.7 779.1,1528.2 779.6,1528.1 780.0,1528.4 780.1,1528.6 780.6,1529.0 781.0,1529.5 781.1,1529.3 781.6,1530.0 782.0,1530.6 782.1,1530.6 782.6,1531.4 783.0,1531.9 783.1,1532.3 783.6,1532.8 784.0,1533.4 784.1,1533.8 784.6,1534.9 785.0,1535.3 785.1,1535.5 785.6,1536.6 786.0,1537.4 786.1,1537.6 786.6,1538.7 787.0,1539.2 787.1,1539.9 787.6,1540.9 788.0,1541.5 788.1,1542.1 788.6,1543.0 789.0,1544.0 789.1,1543.8 789.6,1545.3 790.0,1545.9 790.1,1545.8 790.6,1547.3 791.0,1548.0 791.1,1548.1 791.6,1549.3 792.0,1549.8 792.1,1550.4 792.6,1551.3 793.0,1552.1 793.1,1552.6 793.6,1553.3 794.0,1554.0 794.1,1554.1 794.6,1555.2 795.0,1556.1 795.1,1556.0 795.6,1556.8 796.0,1557.8 796.1,1557.9 796.6,1558.7 797.0,1559.7 797.1,1559.4 797.6,1560.4 798.0,1560.7 798.1,1561.1 798.6,1562.0 799.0,1562.7 799.1,1562.5 799.6,1563.5 800.0,1564.1 800.1,1564.1 800.6,1565.2 801.0,1565.3 801.1,1565.3 801.6,1566.2 802.0,1566.3 802.1,1567.0 802.6,1567.5 803.0,1567.8 803.1,1568.1 803.6,1568.7 804.0,1569.3 804.1,1569.0 804.6,1569.5 805.0,1569.8 805.1,1570.2 805.6,1570.5 806.0,1571.1 806.1,1571.3 806.6,1571.7 807.0,1572.0 807.1,1572.4 807.6,1572.7 808.0,1573.1 808.1,1573.3 808.6,1573.4 809.0,1573.8 809.1,1574.5 809.6,1574.5 810.0,1574.6 810.1,1574.9 810.6,1575.2 811.0,1575.4 811.1,1575.6 811.6,1576.1 812.0,1576.4 812.1,1576.5 812.6,1576.5 813.0,1576.8 813.1,1577.3 813.6,1577.4 814.0,1578.0 814.1,1577.9 814.6,1577.9 815.0,1578.5 815.1,1578.3 815.6,1578.8 816.0,1579.2 816.1,1579.4 816.6,1579.4 817.0,1579.7 817.1,1579.7 817.6,1580.1 818.0,1579.8 818.1,1580.2 818.6,1580.6 819.0,1580.8 819.1,1580.7 819.6,1581.2 820.0,1581.4 820.1,1581.3 820.6,1581.5 821.0,1581.7 821.1,1581.8 821.6,1582.2 822.0,1582.4 822.1,1582.2 822.6,1582.3 823.0,1582.5 823.1,1582.9 823.6,1582.9 824.0,1583.1 824.1,1583.2 824.6,1583.4 825.0,1583.5 825.1,1583.4 825.6,1583.6 826.0,1583.9 826.1,1584.0 826.6,1584.0 827.0,1584.2 827.1,1584.5 827.6,1584.4 828.0,1584.7 828.1,1584.6 828.6,1584.7 829.0,1584.7 829.1,1584.9 829.6,1585.0 830.0,1585.4 830.1,1585.1 830.6,1585.4 831.0,1585.7 831.1,1585.6 831.6,1585.9 832.0,1586.1 832.1,1585.7 832.6,1586.0 833.0,1586.1 833.1,1586.5 833.6,1586.4 834.0,1586.6 834.1,1586.8 834.6,1586.6 835.0,1586.8 835.1,1586.9 835.6,1586.9 836.0,1587.2 836.1,1587.2 836.6,1587.4 837.0,1587.3 837.1,1587.3 837.6,1587.4 838.0,1587.5 839.0,1587.5 840.0,1588.1 841.0,1588.4 842.0,1588.4 843.0,1588.6 844.0,1588.8 845.0,1589.1 846.0,1589.3 847.0,1589.7 848.0,1589.4 849.0,1589.8 850.0,1590.0 851.0,1590.1 852.0,1590.2 853.0,1590.2 854.0,1590.4 855.0,1590.7 856.0,1591.0 857.0,1590.8 858.0,1591.1 859.0,1591.2 860.0,1591.4 861.0,1591.4 862.0,1591.5 863.0,1591.7 864.0,1591.5 865.0,1591.8 866.0,1591.6 867.0,1591.7 868.0,1591.9 869.0,1591.9 870.0,1592.3 871.0,1592.5 872.0,1592.4 873.0,1592.5 874.0,1592.5 875.0,1592.6 876.0,1592.7 877.0,1592.9 878.0,1592.8 879.0,1592.8 880.0,1592.9 881.0,1593.2 882.0,1593.1 883.0,1593.4 884.0,1593.2 885.0,1593.5 886.0,1593.2 887.0,1593.3 888.0,1593.6 889.0,1593.6 890.0,1593.6 891.0,1594.0 892.0,1593.7 893.0,1593.8 894.0,1593.7 895.0,1594.1 896.0,1594.0 897.0,1594.0 898.0,1593.7 899.0,1594.1 900.0,1594.0 901.0,1594.1 902.0,1594.3 903.0,1594.0 904.0,1594.2 905.0,1594.4 906.0,1594.3 907.0,1594.2 908.0,1594.2 909.0,1594.2 910.0,1594.2 911.0,1594.6 912.0,1594.5 913.0,1594.3 914.0,1594.5 915.0,1594.3 916.0,1594.0 917.0,1594.8 918.0,1594.8 919.0,1594.4 920.0,1594.5 921.0,1594.7 922.0,1594.6 923.0,1594.6 924.0,1594.7 925.0,1594.7 926.0,1594.7 927.0,1594.8 928.0,1594.8 929.0,1594.7 930.0,1594.9 931.0,1594.6 932.0,1595.1 933.0,1594.6 934.0,1594.9 935.0,1595.0 936.0,1595.0 937.0,1595.0 938.0,1595.2 939.0,1594.8 940.0,1595.0 941.0,1595.1 942.0,1595.0 943.0,1595.0 944.0,1595.3 945.0,1595.0 946.0,1595.0 947.0,1595.1 948.0,1595.1 949.0,1595.1 950.0,1595.1 951.0,1595.2 952.0,1595.2 953.0,1595.2 954.0,1595.4 955.0,1595.0 956.0,1595.4 957.0,1595.1 958.0,1595.3 959.0,1595.2 960.0,1595.1 961.0,1594.9 962.0,1595.4 963.0,1595.1 964.0,1595.0 965.0,1595.3 966.0,1595.2 967.0,1595.5 968.0,1595.4 969.0,1595.3 970.0,1595.2 971.0,1595.3 972.0,1594.9 973.0,1595.2 974.0,1595.2 975.0,1595.1 976.0,1595.2 977.0,1594.9 978.0,1595.3 979.0,1595.3 980.0,1594.9 981.0,1595.1 982.0,1595.3 983.0,1595.1 984.0,1594.9 985.0,1594.9 986.0,1595.2 987.0,1595.3 988.0,1594.8 989.0,1595.0 990.0,1594.8 991.0,1594.9 992.0,1595.0 993.0,1594.9 994.0,1594.8 995.0,1595.2 996.0,1594.8 997.0,1594.8 998.0,1594.9 999.0,1594.7 1000.0,1594.7 1001.0,1594.8 1002.0,1594.5 1003.0,1594.7 1004.0,1594.8 1005.0,1594.7 1006.0,1594.5 1007.0,1594.5 1008.0,1594.2 1009.0,1594.4 1010.0,1594.4 1011.0,1594.5 1012.0,1594.3 1013.0,1594.2 1014.0,1594.1 1015.0,1594.2 1016.0,1594.2 1017.0,1594.3 1018.0,1594.1 1019.0,1593.9 1020.0,1593.9 1021.0,1593.8 1022.0,1593.8 1023.0,1593.5 1024.0,1593.5 1025.0,1593.5 1026.0,1593.7 1027.0,1593.6 1028.0,1593.6 1029.0,1593.7 1030.0,1593.2 1031.0,1593.5 1032.0,1593.3 1033.0,1593.1 1034.0,1593.4 1035.0,1592.8 1036.0,1592.8 1037.0,1592.9 1038.0,1592.9 1039.0,1592.7 1040.0,1592.3 1041.0,1592.5 1042.0,1592.5 1043.0,1592.8 1044.0,1592.5 1045.0,1592.3 1046.0,1592.0 1047.0,1592.1 1048.0,1591.8 1049.0,1591.9 1050.0,1591.8 1051.0,1591.6 1052.0,1591.6 1053.0,1591.4 1054.0,1591.3 1055.0,1591.5 1056.0,1591.3 1057.0,1591.0 1058.0,1590.8 1059.0,1590.9 1060.0,1590.8 1061.0,1590.8 1062.0,1590.8 1063.0,1590.5 1064.0,1590.2 1065.0,1590.6 1066.0,1590.3 1067.0,1590.2 1068.0,1590.2 1069.0,1589.6 1070.0,1589.7 1071.0,1589.6 1072.0,1589.8 1073.0,1589.3 1074.0,1589.4 1075.0,1589.6 1076.0,1589.4 1077.0,1589.2 1078.0,1589.5 1079.0,1588.9 1080.0,1589.2 1081.0,1589.0 1082.0,1589.1 1083.0,1588.9 1084.0,1588.8 1085.0,1589.0 1086.0,1588.7 1087.0,1589.0 1088.0,1588.9 1089.0,1589.1 1090.0,1588.9 1091.0,1588.8 1092.0,1589.0 1093.0,1589.2 1094.0,1588.7 1095.0,1589.1 1096.0,1589.3 1097.0,1589.0 1098.0,1589.1 1099.0,1589.5 1100.0,1589.3 1101.0,1589.4 1102.0,1589.9 1103.0,1589.6 1104.0,1589.7 1105.0,1589.5 1106.0,1589.9 1107.0,1589.9 1108.0,1590.5 1109.0,1590.6 1110.0,1590.3 1111.0,1590.9 1112.0,1590.9 1113.0,1590.8 1114.0,1591.1 1115.0,1591.2 1116.0,1591.1 1117.0,1591.1 1118.0,1591.4 1119.0,1591.7 1120.0,1591.7 1121.0,1591.8 1122.0,1592.2 1123.0,1592.0 1124.0,1592.5 1125.0,1592.4 1126.0,1592.6 1127.0,1592.6 1128.0,1592.9 1129.0,1592.9 1130.0,1592.9 1131.0,1593.3 1132.0,1593.4 1133.0,1593.7 1134.0,1593.7 1135.0,1593.6 1136.0,1593.8 1137.0,1593.6 1138.0,1594.0 1139.0,1594.5 1140.0,1594.6 1141.0,1594.6 1142.0,1594.6 1143.0,1594.8 1144.0,1594.9 1145.0,1594.6 1146.0,1594.9 1147.0,1595.3 1148.0,1595.4 1149.0,1595.4 1150.0,1595.4 1151.0,1595.5 1152.0,1595.5 1153.0,1595.6 1154.0,1595.5 1155.0,1595.9 1156.0,1595.9 1157.0,1596.0 1158.0,1596.4 1159.0,1596.3 1160.0,1596.2 1161.0,1596.5 1162.0,1596.2 1163.0,1596.7 1164.0,1596.7 1165.0,1596.7 1166.0,1596.9 1167.0,1597.1 1168.0,1596.8 1169.0,1596.8 1170.0,1597.4 1171.0,1597.1 1172.0,1597.4 1173.0,1597.1 1174.0,1597.4 1175.0,1597.3 1176.0,1597.5 1177.0,1597.4 1178.0,1597.4 1179.0,1597.8 1180.0,1597.7 1181.0,1597.4 1182.0,1597.7 1183.0,1597.7 1184.0,1597.7 1185.0,1597.8 1186.0,1597.9 1187.0,1598.0 1188.0,1597.9 1189.0,1597.8 1190.0,1598.0 1191.0,1598.3 1192.0,1598.0 1193.0,1598.4 1194.0,1598.4 1195.0,1598.3 1196.0,1598.4 1197.0,1598.3 1198.0,1598.4 1199.0,1598.3 1200.0,1598.6 1201.0,1598.8 1202.0,1598.5 1203.0,1598.8 1204.0,1598.3 1205.0,1598.6 1206.0,1598.6 1207.0,1599.0 1208.0,1598.7 1209.0,1598.9 1210.0,1598.5 1211.0,1598.9 1212.0,1599.0 1213.0,1598.9 1214.0,1598.5 1215.0,1599.0 1216.0,1599.1 1217.0,1599.2 1218.0,1599.1 1219.0,1598.8 1220.0,1599.0 1221.0,1599.2 1222.0,1599.0 1223.0,1599.2 1224.0,1599.1 1225.0,1599.2 1226.0,1599.3 1227.0,1599.1 1228.0,1599.7 1229.0,1599.3 1230.0,1599.3 1231.0,1599.2 1232.0,1599.3 1233.0,1599.3 1234.0,1599.1 1235.0,1599.1 1236.0,1599.4 1237.0,1599.4 1238.0,1599.0 1239.0,1599.1 1240.0,1599.4 1241.0,1599.5 1242.0,1599.6 1243.0,1599.3 1244.0,1599.6 1245.0,1599.5 1246.0,1599.5 1247.0,1599.5 1248.0,1599.7 1249.0,1599.7 1250.0,1599.8 1251.0,1599.5 1252.0,1599.6 1253.0,1599.5 1254.0,1599.6 1255.0,1599.6 1256.0,1599.6 1257.0,1599.8 1258.0,1599.8 1259.0,1599.9 1260.0,1599.8 1261.0,1599.9 1262.0,1599.8 1263.0,1600.0 1264.0,1599.9 1265.0,1599.9 1266.0,1599.8 1267.0,1599.7 1268.0,1599.6 1269.0,1600.2 1270.0,1600.0 1271.0,1600.0 1272.0,1599.9 1273.0,1599.9 1274.0,1600.4 1275.0,1599.8 1276.0,1600.0 1277.0,1600.0 1278.0,1599.8 1279.0,1599.8 1280.0,1599.9 1281.0,1600.0 1282.0,1600.0 1283.0,1600.2 1284.0,1599.9 1285.0,1600.2 1286.0,1600.3 1287.0,1600.3 1288.0,1599.9 1289.0,1599.7 1290.0,1600.3 1291.0,1600.2 1292.0,1600.1 1293.0,1600.4 1294.0,1600.1 1295.0,1600.2 1296.0,1600.0 1297.0,1600.3 1298.0,1600.2 1299.0,1600.2 1300.0,1600.4 1301.0,1600.3 1302.0,1600.0 1303.0,1600.4 1304.0,1600.4 1305.0,1600.2 1306.0,1600.3 1307.0,1600.3 1308.0,1600.3 1309.0,1600.4 1310.0,1600.5 1311.0,1600.3 1312.0,1600.7 1313.0,1600.3 1314.0,1600.3 1315.0,1600.7 1316.0,1600.8 1317.0,1600.4 1318.0,1600.4 1319.0,1600.3 1320.0,1600.7 1321.0,1600.5 1322.0,1600.4 1323.0,1600.6 1324.0,1600.7 1325.0,1600.6 1326.0,1600.9 1327.0,1600.7 1328.0,1600.6 1329.0,1600.6 1330.0,1600.7 1331.0,1600.8 1332.0,1600.7 1333.0,1600.8 1334.0,1600.6 1335.0,1600.7 1336.0,1600.8 1337.0,1600.6 1338.0,1600.4 1339.0,1600.9 1340.0,1600.8 1341.0,1600.6 1342.0,1600.7 1343.0,1600.7 1344.0,1600.4 1345.0,1600.7 1346.0,1600.5 1347.0,1600.8 1348.0,1600.7 1349.0,1600.9 1350.0,1600.7 1351.0,1600.8 1352.0,1600.7 1353.0,1600.7 1354.0,1600.6 1355.0,1601.0 1356.0,1600.8 1357.0,1600.7 1358.0,1600.9 1359.0,1600.8 1360.0,1600.7 1361.0,1600.9 1362.0,1601.1 1363.0,1600.8 1364.0,1600.7 1365.0,1600.8 1366.0,1601.2 1367.0,1600.8 1368.0,1601.1 1369.0,1600.9 1370.0,1601.1 1371.0,1600.9 1372.0,1600.7 1373.0,1600.9 1374.0,1601.3 1375.0,1601.0 1376.0,1601.1 1377.0,1601.0 1378.0,1601.0 1379.0,1601.1 1380.0,1601.1 1381.0,1601.4 1382.0,1601.1 1383.0,1601.0 1384.0,1601.0 1385.0,1600.9 1386.0,1600.8 1387.0,1601.2 1388.0,1600.8 1389.0,1601.3 1390.0,1601.3 1391.0,1601.1 1392.0,1601.0 1393.0,1601.2 1394.0,1601.2 1395.0,1601.3 1396.0,1601.1 1397.0,1601.1 1398.0,1601.2 1399.0,1601.2 1400.0,1601.1 1401.0,1600.9 1402.0,1601.0 1403.0,1601.1 1404.0,1601.2 1405.0,1601.4 1406.0,1601.6 1407.0,1601.5 1408.0,1601.3 1409.0,1601.5 1410.0,1601.2 1411.0,1601.2 1412.0,1601.6 1413.0,1601.1 1414.0,1601.2 1415.0,1601.2 1416.0,1601.5 1417.0,1601.2 1418.0,1601.4 1419.0,1601.2 1420.0,1601.1 1421.0,1601.3 1422.0,1601.3 1423.0,1601.1 1424.0,1601.2 1425.0,1601.2 1426.0,1601.5 1427.0,1601.4 1428.0,1601.4 1429.0,1601.4 1430.0,1601.3 1431.0,1601.4 1432.0,1601.2 1433.0,1601.1 1434.0,1601.2 1435.0,1601.4 1436.0,1601.4 1437.0,1601.5 1438.0,1601.1 1439.0,1601.3 1440.0,1601.4 1441.0,1601.2 1442.0,1601.4 1443.0,1601.3 1444.0,1601.2 1445.0,1601.6 1446.0,1601.2 1447.0,1601.6 1448.0,1601.3 1449.0,1601.3 1450.0,1601.3 1451.0,1601.3 1452.0,1601.3 1453.0,1601.5 1454.0,1601.1 1455.0,1601.6 1456.0,1601.6 1457.0,1601.7 1458.0,1601.3 1459.0,1601.1 1460.0,1601.4 1461.0,1601.4 1462.0,1601.5 1463.0,1601.4 1464.0,1601.5 1465.0,1601.5 1466.0,1601.2 1467.0,1601.8 1468.0,1601.3 1469.0,1601.5 1470.0,1601.7 1471.0,1601.4 1472.0,1601.5 1473.0,1601.8 1474.0,1601.5 1475.0,1601.7 1476.0,1601.6 1477.0,1601.6 1478.0,1601.6 1479.0,1601.5 1480.0,1601.5 1481.0,1601.7 1482.0,1601.6 1483.0,1601.6 1484.0,1601.4 1485.0,1601.6 1486.0,1601.8 1487.0,1601.7 1488.0,1601.6 1489.0,1601.5 1490.0,1601.5 1491.0,1601.6 1492.0,1601.8 1493.0,1601.6 1494.0,1601.8 1495.0,1601.5 1496.0,1601.8 1497.0,1601.4 1498.0,1601.6 1499.0,1601.4 1500.0,1601.7 1501.0,1601.7 1502.0,1601.5 1503.0,1601.5 1504.0,1601.6 1505.0,1601.4 1506.0,1601.5 1507.0,1601.5 1508.0,1601.8 1509.0,1601.9 1510.0,1601.6 1511.0,1601.6 1512.0,1601.7 1513.0,1601.6 1514.0,1601.6 1515.0,1601.8 1516.0,1601.7 1517.0,1601.7 1518.0,1601.6 1519.0,1601.9 1520.0,1601.6 1521.0,1601.7 1522.0,1601.5 1523.0,1601.6 1524.0,1601.7 1525.0,1601.6 1526.0,1601.8 1527.0,1601.7 1528.0,1601.5 1529.0,1601.3 1530.0,1601.9 1531.0,1601.6 1532.0,1602.0 1533.0,1601.7 1534.0,1601.6 1535.0,1601.8 1536.0,1601.7 1537.0,1601.7 1538.0,1601.6 1539.0,1601.8 1540.0,1601.9 1541.0,1601.7 1542.0,1602.0 1543.0,1601.7 1544.0,1601.8 1545.0,1601.5 1546.0,1601.5 1547.0,1602.1 1548.0,1602.0 1549.0,1602.0 1550.0,1601.5 1551.0,1601.8 1552.0,1601.9 1553.0,1601.8 1554.0,1601.8 1555.0,1601.7 1556.0,1601.8 1557.0,1601.6 1558.0,1601.8 1559.0,1601.9 1560.0,1601.7 1561.0,1601.8 1562.0,1601.8 1563.0,1601.8 1564.0,1602.0 1565.0,1601.9 1566.0,1601.9 1567.0,1601.6 1568.0,1601.8 1569.0,1602.0 1570.0,1601.7 1571.0,1601.8 1572.0,1601.7 1573.0,1602.1 1574.0,1601.8 1575.0,1601.8 1576.0,1602.0 1577.0,1602.1 1578.0,1602.0 1579.0,1602.0 1580.0,1601.9 1581.0,1601.9 1582.0,1601.8 1583.0,1601.8 1584.0,1601.8 1585.0,1602.0 1586.0,1601.9 1587.0,1601.9 1588.0,1602.0 1589.0,1601.9 1590.0,1601.7 1591.0,1601.8 1592.0,1601.7 1593.0,1601.6 1594.0,1601.9 1595.0,1601.7 1596.0,1601.7 1597.0,1601.8 1598.0,1602.1 1599.0,1601.9 1600.0,1602.1 1601.0,1601.9 1602.0,1601.9 1603.0,1602.1 1604.0,1602.1 1605.0,1602.0 1606.0,1601.8 1607.0,1601.9 1608.0,1601.8 1609.0,1601.9 1610.0,1602.0 1611.0,1602.2 1612.0,1602.2 1613.0,1602.1 1614.0,1602.1 1615.0,1602.0 1616.0,1602.4 1617.0,1602.3 1618.0,1602.4 1619.0,1602.1 1620.0,1602.1 1621.0,1602.2 1622.0,1602.1 1623.0,1602.1 1624.0,1601.9 1625.0,1602.2 1626.0,1602.1 1627.0,1602.2 1628.0,1602.0 1629.0,1601.8 1630.0,1602.1 1631.0,1602.2 1632.0,1601.9 1633.0,1601.9 1634.0,1602.0 1635.0,1602.0 1636.0,1601.8 1637.0,1602.4 1638.0,1602.2 1639.0,1602.0 1640.0,1601.8 1641.0,1602.1 1642.0,1602.4 1643.0,1602.2 1644.0,1602.3 1645.0,1601.9 1646.0,1602.1 1647.0,1601.9 1648.0,1602.4 1649.0,1602.2 1650.0,1601.8 1651.0,1601.8 1652.0,1602.2 1653.0,1602.1 1654.0,1602.1 1655.0,1602.2 1656.0,1602.5 1657.0,1602.2 1658.0,1601.8 1659.0,1602.1 1660.0,1601.9 1661.0,1602.0 1662.0,1602.2 1663.0,1602.1 1664.0,1602.0 1665.0,1602.2 1666.0,1602.0 1667.0,1602.2 1668.0,1602.1 1669.0,1602.2 1670.0,1602.1 1671.0,1602.3 1672.0,1602.2 1673.0,1602.2 1674.0,1602.1 1675.0,1602.2 1676.0,1601.9 1677.0,1602.6 1678.0,1602.1 1679.0,1602.2 1680.0,1602.1 1681.0,1602.1 1682.0,1602.3 1683.0,1602.1 1684.0,1602.1 1685.0,1602.0 1686.0,1602.1 1687.0,1602.0 1688.0,1602.5 1689.0,1602.0 1690.0,1602.1 1691.0,1602.3 1692.0,1602.5 1693.0,1602.0 1694.0,1602.0 1695.0,1602.3 1696.0,1602.3 1697.0,1602.0 1698.0,1602.0 1699.0,1602.1 1700.0,1602.4 1701.0,1602.3 1702.0,1602.4 1703.0,1602.3 1704.0,1602.3 1705.0,1602.4 1706.0,1602.3 1707.0,1602.3 1708.0,1602.1 1709.0,1602.2 1710.0,1602.4 1711.0,1602.3 1712.0,1602.2 1713.0,1602.4 1714.0,1602.4 1715.0,1602.3 1716.0,1602.2 1717.0,1602.5 1718.0,1602.7 1719.0,1602.2 1720.0,1602.1 1721.0,1602.2 1722.0,1602.2 1723.0,1602.1 1724.0,1602.1 1725.0,1602.5 1726.0,1602.5 1727.0,1602.6 1728.0,1602.5 1729.0,1602.3 1730.0,1602.5 1731.0,1602.3 1732.0,1602.3 1733.0,1602.2 1734.0,1602.6 1735.0,1602.5 1736.0,1602.3 1737.0,1602.3 1738.0,1602.4 1739.0,1602.4 1740.0,1602.5 1741.0,1602.4 1742.0,1602.5 1743.0,1602.2 1744.0,1602.3 1745.0,1602.1 1746.0,1602.7 1747.0,1602.6 1748.0,1602.5 1749.0,1602.6 1750.0,1602.7 1751.0,1602.6 1752.0,1602.2 1753.0,1602.4 1754.0,1602.0 1755.0,1602.3 1756.0,1602.2 1757.0,1602.4 1758.0,1602.5 1759.0,1602.3 1760.0,1602.4 1761.0,1602.5 1762.0,1602.4 1763.0,1602.4 1764.0,1602.1 1765.0,1602.4 1766.0,1602.6 1767.0,1602.5 1768.0,1602.2 1769.0,1602.4 1770.0,1602.5 1771.0,1602.3 1772.0,1602.6 1773.0,1602.4 1774.0,1602.4 1775.0,1602.5 1776.0,1602.8 1777.0,1602.4 1778.0,1602.4 1779.0,1602.6 1780.0,1602.4 1781.0,1602.5 1782.0,1602.1 1783.0,1602.6 1784.0,1602.5 1785.0,1602.3 1786.0,1602.7 1787.0,1602.5 1788.0,1602.5 1789.0,1602.3 1790.0,1602.3 1791.0,1602.4 1792.0,1602.3 1793.0,1602.6 1794.0,1602.7 1795.0,1602.4 1796.0,1602.3 1797.0,1602.5 1798.0,1602.4 1799.0,1602.6 1800.0,1602.6 1801.0,1602.5 1802.0,1602.6 1803.0,1602.7 1804.0,1602.8 1805.0,1602.5 1806.0,1602.7 1807.0,1602.5 1808.0,1602.4 1809.0,1602.8 1810.0,1602.6 1811.0,1602.6 1812.0,1602.6 1813.0,1602.5 1814.0,1602.4 1815.0,1602.9 1816.0,1602.7 1817.0,1602.6 1818.0,1602.7 1819.0,1602.8 1820.0,1602.6 1821.0,1602.7 1822.0,1602.5 1823.0,1602.7 1824.0,1602.5 1825.0,1603.0 1826.0,1602.5 1827.0,1602.7 1828.0,1602.7 1829.0,1602.5 1830.0,1602.7 1831.0,1602.6 1832.0,1602.5 1833.0,1602.6 1834.0,1602.5 1835.0,1602.8 1836.0,1602.7 1837.0,1602.8 1838.0,1602.4 1839.0,1602.7 1840.0,1602.5 1841.0,1602.6 1842.0,1602.8 1843.0,1602.7 1844.0,1602.6 1845.0,1602.8 1846.0,1602.8 1847.0,1602.9 1848.0,1602.3 1849.0,1602.7 1850.0,1602.6 1851.0,1602.5 1852.0,1602.6 1853.0,1602.4 1854.0,1602.3 1855.0,1602.5 1856.0,1602.6 1857.0,1602.9 1858.0,1602.5 1859.0,1602.4 1860.0,1602.3 1861.0,1602.6 1862.0,1602.6 1863.0,1602.7 1864.0,1602.4 1865.0,1602.5 1866.0,1602.3 1867.0,1602.7 1868.0,1602.4 1869.0,1602.2 1870.0,1602.8 1871.0,1602.7 1872.0,1602.7 1873.0,1602.7 1874.0,1602.5 1875.0,1602.8 1876.0,1602.5 1877.0,1603.0 1878.0,1602.7 1879.0,1602.4 1880.0,1602.8 1881.0,1603.0 1882.0,1602.6 1883.0,1602.8 1884.0,1602.6 1885.0,1602.6 1886.0,1602.3 1887.0,1602.9 1888.0,1602.6 1889.0,1602.7 1890.0,1602.5 1891.0,1602.5 1892.0,1602.9 1893.0,1602.6 1894.0,1602.6 1895.0,1602.5 1896.0,1602.7 1897.0,1602.8 1898.0,1602.6 1899.0,1602.7 1900.0,1602.5 1901.0,1602.9 1902.0,1602.6 1903.0,1602.7 1904.0,1603.0 1905.0,1602.6 1906.0,1602.4 1907.0,1602.5 1908.0,1602.6 1909.0,1603.0 1910.0,1602.7 1911.0,1602.7 1912.0,1602.8 1913.0,1602.9 1914.0,1602.6 1915.0,1602.9 1916.0,1602.8 1917.0,1602.8 1918.0,1602.3 1919.0,1602.7 1920.0,1602.9 1921.0,1602.7 1922.0,1603.1 1923.0,1602.7 1924.0,1602.5 1925.0,1602.8 1926.0,1602.8 1927.0,1602.8 1928.0,1602.7 1929.0,1602.9 1930.0,1602.6 1931.0,1602.7 1932.0,1602.5 1933.0,1602.6 1934.0,1602.7 1935.0,1602.6 1936.0,1602.6 1937.0,1602.7 1938.0,1602.8 1939.0,1602.8 1940.0,1602.8 1941.0,1602.9 1942.0,1602.7 1943.0,1602.6 1944.0,1602.5 1945.0,1602.7 1946.0,1602.6 1947.0,1602.4 1948.0,1603.0 1949.0,1602.4 1950.0,1602.8 1951.0,1602.8 1952.0,1602.7 1953.0,1603.1 1954.0,1602.7 1955.0,1602.6 1956.0,1603.0 1957.0,1602.6 1958.0,1602.5 1959.0,1602.6 1960.0,1602.6 1961.0,1602.7 1962.0,1602.8 1963.0,1602.5 1964.0,1602.8 1965.0,1603.1 1966.0,1602.6 1967.0,1602.7 1968.0,1602.8 1969.0,1602.9 1970.0,1602.6 1971.0,1602.6 1972.0,1602.6 1973.0,1602.9 1974.0,1602.9 1975.0,1602.4 1976.0,1602.4 1977.0,1602.5 1978.0,1602.5 1979.0,1602.8 1980.0,1602.7 1981.0,1603.0 1982.0,1602.8 1983.0,1602.7 1984.0,1602.9 1985.0,1602.6 1986.0,1602.5 1987.0,1602.7 1988.0,1602.9 1989.0,1602.4 1990.0,1602.8 1991.0,1602.8 1992.0,1602.6 1993.0,1602.7 1994.0,1602.7 1995.0,1602.7 1996.0,1602.8 1997.0,1602.6 1998.0,1602.9 1999.0,1602.8 2000.0,1602.8 2001.0,1602.4 2002.0,1602.4 2003.0,1602.8 2004.0,1602.6 2005.0,1602.6 2006.0,1602.6 2007.0,1602.5 2008.0,1602.6 2009.0,1602.6 2010.0,1602.6 2011.0,1602.7 2012.0,1602.5 2013.0,1602.8 2014.0,1602.3 2015.0,1603.1 2016.0,1602.4 2017.0,1602.7 2018.0,1602.8 2019.0,1602.6 2020.0,1602.8 2021.0,1602.6 2022.0,1602.4 2023.0,1602.7 2024.0,1602.8 2025.0,1602.5 2026.0,1602.3 2027.0,1602.5 2028.0,1602.7 2029.0,1602.7 2030.0,1602.8 2031.0,1602.7 2032.0,1602.7 2033.0,1602.3 2034.0,1603.0 2035.0,1602.6 2036.0,1602.7 2037.0,1602.5 2038.0,1602.5 2039.0,1602.6 2040.0,1602.8 2041.0,1602.8 2042.0,1602.6 2043.0,1602.9 2044.0,1602.5 2045.0,1602.6 2046.0,1602.4 2047.0,1602.7 2048.0,1602.5 2049.0,1602.6 2050.0,1602.8 2051.0,1602.1 2052.0,1602.8 2053.0,1602.5 2054.0,1602.4 2055.0,1602.1 2056.0,1602.4 2057.0,1602.0 2058.0,1602.4 2059.0,1602.4 2060.0,1602.7 2061.0,1602.3 2062.0,1602.5 2063.0,1602.5 2064.0,1602.7 2065.0,1602.3 2066.0,1602.4 2067.0,1602.0 2068.0,1602.1 2069.0,1602.2 2070.0,1602.2 2071.0,1602.0 2072.0,1602.1 2073.0,1602.3 2074.0,1602.1 2075.0,1602.1 2076.0,1602.0 2077.0,1602.3 2078.0,1602.4 2079.0,1602.1 2080.0,1602.0 2081.0,1602.3 2082.0,1602.1 2083.0,1601.8 2084.0,1601.7 2085.0,1601.8 2086.0,1602.2 2087.0,1601.8 2088.0,1602.3 2089.0,1601.8 2090.0,1601.7 2091.0,1602.0 2092.0,1601.7 2093.0,1601.7 2094.0,1601.5 2095.0,1601.4 2096.0,1601.5 2097.0,1601.6 2098.0,1601.4 2099.0,1601.1 2100.0,1601.5 2101.0,1601.4 2102.0,1601.3 2103.0,1601.2 2104.0,1600.9 2105.0,1601.5 2106.0,1601.1 2107.0,1601.2 2108.0,1601.3 2109.0,1601.3 2110.0,1601.1 2111.0,1601.0 2112.0,1601.0 2113.0,1601.1 2114.0,1601.0 2115.0,1600.7 2116.0,1600.8 2117.0,1600.8 2118.0,1600.8 2119.0,1600.7 2120.0,1600.8 2121.0,1600.6 2122.0,1600.7 2123.0,1600.5 2124.0,1600.3 2125.0,1600.2 2126.0,1600.3 2127.0,1600.4 2128.0,1600.5 2129.0,1600.2 2130.0,1600.1 2131.0,1600.0 2132.0,1600.3 2133.0,1600.1 2134.0,1599.9 2135.0,1600.1 2136.0,1599.7 2137.0,1600.0 2138.0,1599.9 2139.0,1599.9 2140.0,1599.7 2141.0,1600.0 2142.0,1600.1 2143.0,1599.6 2144.0,1599.8 2145.0,1599.9 2146.0,1600.2 2147.0,1599.7 2148.0,1599.6 2149.0,1599.8 2150.0,1600.1 2151.0,1599.8 2152.0,1599.9 2153.0,1600.1 2154.0,1599.5 2155.0,1599.5 2156.0,1600.0 2157.0,1600.0 2158.0,1599.7 2159.0,1600.1 2160.0,1600.0 2161.0,1600.1 2162.0,1599.9 2163.0,1600.0 2164.0,1600.0 2165.0,1600.2 2166.0,1600.2 2167.0,1600.5 2168.0,1600.4 2169.0,1600.1 2170.0,1600.5 2171.0,1600.7 2172.0,1600.5 2173.0,1600.7 2174.0,1600.6 2175.0,1600.8 2176.0,1600.5 2177.0,1600.9 2178.0,1600.6 2179.0,1601.0 2180.0,1600.6 2181.0,1600.6 2182.0,1601.1 2183.0,1601.0 2184.0,1601.1 2185.0,1601.2 2186.0,1601.2 2187.0,1601.1 2188.0,1601.3 2189.0,1601.4 2190.0,1601.4 2191.0,1601.7 2192.0,1601.3 2193.0,1601.5 2194.0,1601.6 2195.0,1601.5 2196.0,1601.4 2197.0,1601.5 2198.0,1601.8 2199.0,1601.7 2200.0,1601.8 2201.0,1601.7 2202.0,1601.9 2203.0,1601.7 2204.0,1601.7 2205.0,1601.9 2206.0,1602.0 2207.0,1602.2 2208.0,1601.7 2209.0,1602.1 2210.0,1602.3 2211.0,1602.3 2212.0,1602.1 2213.0,1602.1 2214.0,1602.1 2215.0,1602.3 2216.0,1602.3 2217.0,1602.3 2218.0,1602.4 2219.0,1602.1 2220.0,1602.2 2221.0,1602.2 2222.0,1602.2 2223.0,1602.4 2224.0,1602.5 2225.0,1602.9 2226.0,1602.6 2227.0,1602.5 2228.0,1602.8 2229.0,1602.4 2230.0,1602.6 2231.0,1602.7 2232.0,1602.7 2233.0,1602.7 2234.0,1602.6 2235.0,1602.4 2236.0,1602.6 2237.0,1602.6 2238.0,1602.8 2239.0,1602.7 2240.0,1602.8 2241.0,1602.5 2242.0,1602.9 2243.0,1602.6 2244.0,1602.5 2245.0,1602.6 2246.0,1602.7 2247.0,1603.0 2248.0,1602.9 2249.0,1602.6 2250.0,1602.9 2251.0,1602.8 2252.0,1602.6 2253.0,1602.7 2254.0,1602.6 2255.0,1602.8 2256.0,1602.5 2257.0,1602.8 2258.0,1602.8 2259.0,1602.8 2260.0,1602.8 2261.0,1603.1 2262.0,1602.9 2263.0,1603.0 2264.0,1603.1 2265.0,1603.1 2266.0,1603.1 2267.0,1602.9 2268.0,1602.8 2269.0,1602.9 2270.0,1602.9 2271.0,1603.0 2272.0,1603.0 2273.0,1603.2 2274.0,1603.0 2275.0,1603.4 2276.0,1603.2 2277.0,1603.0 2278.0,1603.2 2279.0,1602.6 2280.0,1603.3 2281.0,1603.2 2282.0,1603.2 2283.0,1602.8 2284.0,1603.5 2285.0,1603.1 2286.0,1603.1 2287.0,1603.3 2288.0,1603.1 2289.0,1603.0 2290.0,1603.3 2291.0,1603.0 2292.0,1603.3 2293.0,1603.2 2294.0,1603.4 2295.0,1603.0 2296.0,1603.4 2297.0,1603.2 2298.0,1603.5 2299.0,1603.1 2300.0,1603.5 2301.0,1603.3 2302.0,1603.3 2303.0,1603.1 2304.0,1603.3 2305.0,1603.3 2306.0,1603.1 2307.0,1603.0 2308.0,1603.1 2309.0,1603.5 2310.0,1603.3 2311.0,1603.4 2312.0,1603.3 2313.0,1603.3 2314.0,1603.3 2315.0,1603.2 2316.0,1603.5 2317.0,1603.3 2318.0,1603.3 2319.0,1603.0 2320.0,1603.3 2321.0,1603.2 2322.0,1603.2 2323.0,1603.5 2324.0,1603.1 2325.0,1603.3 2326.0,1603.4 2327.0,1603.5 2328.0,1603.2 2329.0,1603.4 2330.0,1603.4 2331.0,1603.1 2332.0,1603.0 2333.0,1603.0 2334.0,1603.4 2335.0,1603.3 2336.0,1603.1 2337.0,1603.2 2338.0,1603.3 2339.0,1603.3 2340.0,1603.3 2341.0,1603.7 2342.0,1603.2 2343.0,1603.4 2344.0,1603.2 2345.0,1603.3 2346.0,1603.2 2347.0,1603.3 2348.0,1603.3 2349.0,1603.4 2350.0,1603.4 2351.0,1603.2 2352.0,1603.7 2353.0,1603.2 2354.0,1603.4 2355.0,1603.7 2356.0,1603.3 2357.0,1603.6 2358.0,1603.6 2359.0,1603.5 2360.0,1603.1 2361.0,1603.6 2362.0,1603.4 2363.0,1603.3 2364.0,1603.6 2365.0,1603.3 2366.0,1603.6 2367.0,1603.3 2368.0,1603.5 2369.0,1603.3 2370.0,1603.4 2371.0,1603.3 2372.0,1603.3 2373.0,1603.5 2374.0,1603.4 2375.0,1603.5 2376.0,1603.7 2377.0,1603.4 2378.0,1603.1 2379.0,1603.4 2380.0,1603.5 2381.0,1603.6 2382.0,1603.6 2383.0,1603.6 2384.0,1603.4 2385.0,1603.6 2386.0,1603.2 2387.0,1603.7 2388.0,1603.5 2389.0,1603.6 2390.0,1603.4 2391.0,1603.5 2392.0,1603.4 2393.0,1603.6 2394.0,1603.3 2395.0,1603.7 2396.0,1603.6 2397.0,1603.8 2398.0,1603.5 2399.0,1603.5 2400.0,1603.5 2401.0,1603.5 2402.0,1603.5 2403.0,1603.3 2404.0,1603.3 2405.0,1603.4 2406.0,1603.5 2407.0,1603.3 2408.0,1603.3 2409.0,1603.5 2410.0,1603.6 2411.0,1603.5 2412.0,1603.6 2412.5,1603.7" fill="none" stroke="#ff00ff" stroke-width="6.6" stroke-linejoin="round" stroke-linecap="butt"/>
<text transform="translate(188.1,1765.4) scale(1.0,1.026)" font-size="96" text-anchor="middle" font-family="Liberation Sans, sans-serif" >30</text>
<text transform="translate(632.9,1765.4) scale(1.0,1.026)" font-size="96" text-anchor="middle" font-family="Liberation Sans, sans-serif" >40</text>
<text transform="translate(1077.6,1765.4) scale(1.0,1.026)" font-size="96" text-anchor="middle" font-family="Liberation Sans, sans-serif" >50</text>
<text transform="translate(1522.4,1765.4) scale(1.0,1.026)" font-size="96" text-anchor="middle" font-family="Liberation Sans, sans-serif" >60</text>
<text transform="translate(1967.1,1765.4) scale(1.0,1.026)" font-size="96" text-anchor="middle" font-family="Liberation Sans, sans-serif" >70</text>
<text transform="translate(2411.9,1765.4) scale(1.0,1.026)" font-size="96" text-anchor="middle" font-family="Liberation Sans, sans-serif" >80</text>
<text transform="translate(99.8,1090) rotate(-90)" font-size="96" text-anchor="start" font-family="Liberation Sans, sans-serif" >Intensity (a.u.)</text>
<g transform="translate(612.5,458.0) rotate(-90)"><text font-size="96.5" font-family="Liberation Sans, sans-serif">Cu(111)</text><rect x="160.80" y="-8.41" width="18.71" height="9.91" fill="#fff"/><rect x="188.53" y="-8.41" width="18.10" height="9.91" fill="#fff"/><rect x="214.47" y="-8.41" width="18.71" height="9.91" fill="#fff"/><rect x="242.20" y="-8.41" width="18.10" height="9.91" fill="#fff"/><rect x="268.14" y="-8.41" width="18.71" height="9.91" fill="#fff"/><rect x="295.87" y="-8.41" width="18.10" height="9.91" fill="#fff"/></g>
<text transform="translate(1124,429.7) rotate(-90)" font-size="96.5" text-anchor="start" font-family="Liberation Sans, sans-serif" >Cu(200)</text>
<text transform="translate(2177,423.8) rotate(-90)" font-size="96.5" text-anchor="start" font-family="Liberation Sans, sans-serif" >Cu(220)</text>
<text transform="translate(1575.5,389.6) scale(1.0,1.015)" font-size="96.7" text-anchor="start" font-family="Liberation Sans, sans-serif" >at.% Zr</text>
<text transform="translate(1726.9,587.7) scale(1.0,1.026)" font-size="96" text-anchor="middle" font-family="Liberation Sans, sans-serif" >0</text>
<text transform="translate(1671.7,828.7) scale(1.0,1.026)" font-size="96" text-anchor="start" font-family="Liberation Sans, sans-serif" >0.4</text>
<text transform="translate(1674.3,1077.8) scale(1.0,1.026)" font-size="96" text-anchor="start" font-family="Liberation Sans, sans-serif" >2.2</text>
<g transform="translate(1678.7,1333.3) scale(1,1.026)"><text font-size="96" font-family="Liberation Sans, sans-serif">3.<tspan dx="3.1">1</tspan></text><rect x="88.44" y="-8.37" width="18.61" height="9.87" fill="#fff"/><rect x="116.03" y="-8.37" width="18.01" height="9.87" fill="#fff"/></g>
<g transform="translate(1677.0,1581.3) scale(1,1.026)"><text font-size="96" font-family="Liberation Sans, sans-serif">4.<tspan dx="3.1">1</tspan></text><rect x="88.44" y="-8.37" width="18.61" height="9.87" fill="#fff"/><rect x="116.03" y="-8.37" width="18.01" height="9.87" fill="#fff"/></g>
<text transform="translate(1018.1,1896.8) scale(1.03,0.965)" font-size="96" text-anchor="start" font-family="Liberation Sans, sans-serif" >2θ</text>
<text transform="translate(1205.6,1896.8) scale(1.0,0.955)" font-size="96" text-anchor="start" font-family="Liberation Sans, sans-serif" >degree</text>
<text transform="translate(1118.7,1896.2) scale(0.92,1)" font-size="96" font-family="Liberation Serif, Noto Serif CJK SC, serif">（</text>
<text transform="translate(1502.4,1896.2) scale(0.92,1)" font-size="96" font-family="Liberation Serif, Noto Serif CJK SC, serif">）</text>
<line x1="1092" y1="449.8" x2="1092" y2="518.2" stroke="#000" stroke-width="3.6" stroke-linecap="round"/><polygon points="1081.8,518.2 1102.2,518.2 1092,559.9" fill="#000" stroke="#000" stroke-width="4" stroke-linejoin="round"/>
<line x1="2138.3" y1="449.3" x2="2138.3" y2="518.4" stroke="#000" stroke-width="3.6" stroke-linecap="round"/><polygon points="2128.1000000000004,518.4 2148.5,518.4 2138.3,558.6" fill="#000" stroke="#000" stroke-width="4" stroke-linejoin="round"/>
<line x1="634.6" y1="393" x2="698" y2="393" stroke="#000" stroke-width="3.4" stroke-linecap="round"/><polygon points="697.8,383.6 697.8,402.4 738.2,393" fill="#000" stroke="#000" stroke-width="4" stroke-linejoin="round"/>
<rect x="0" y="1382" width="2482" height="1" fill="#fff"/>
<rect x="7" y="1929" width="2475" height="1" fill="#c3c3c3"/>
</svg>
</body></html>
